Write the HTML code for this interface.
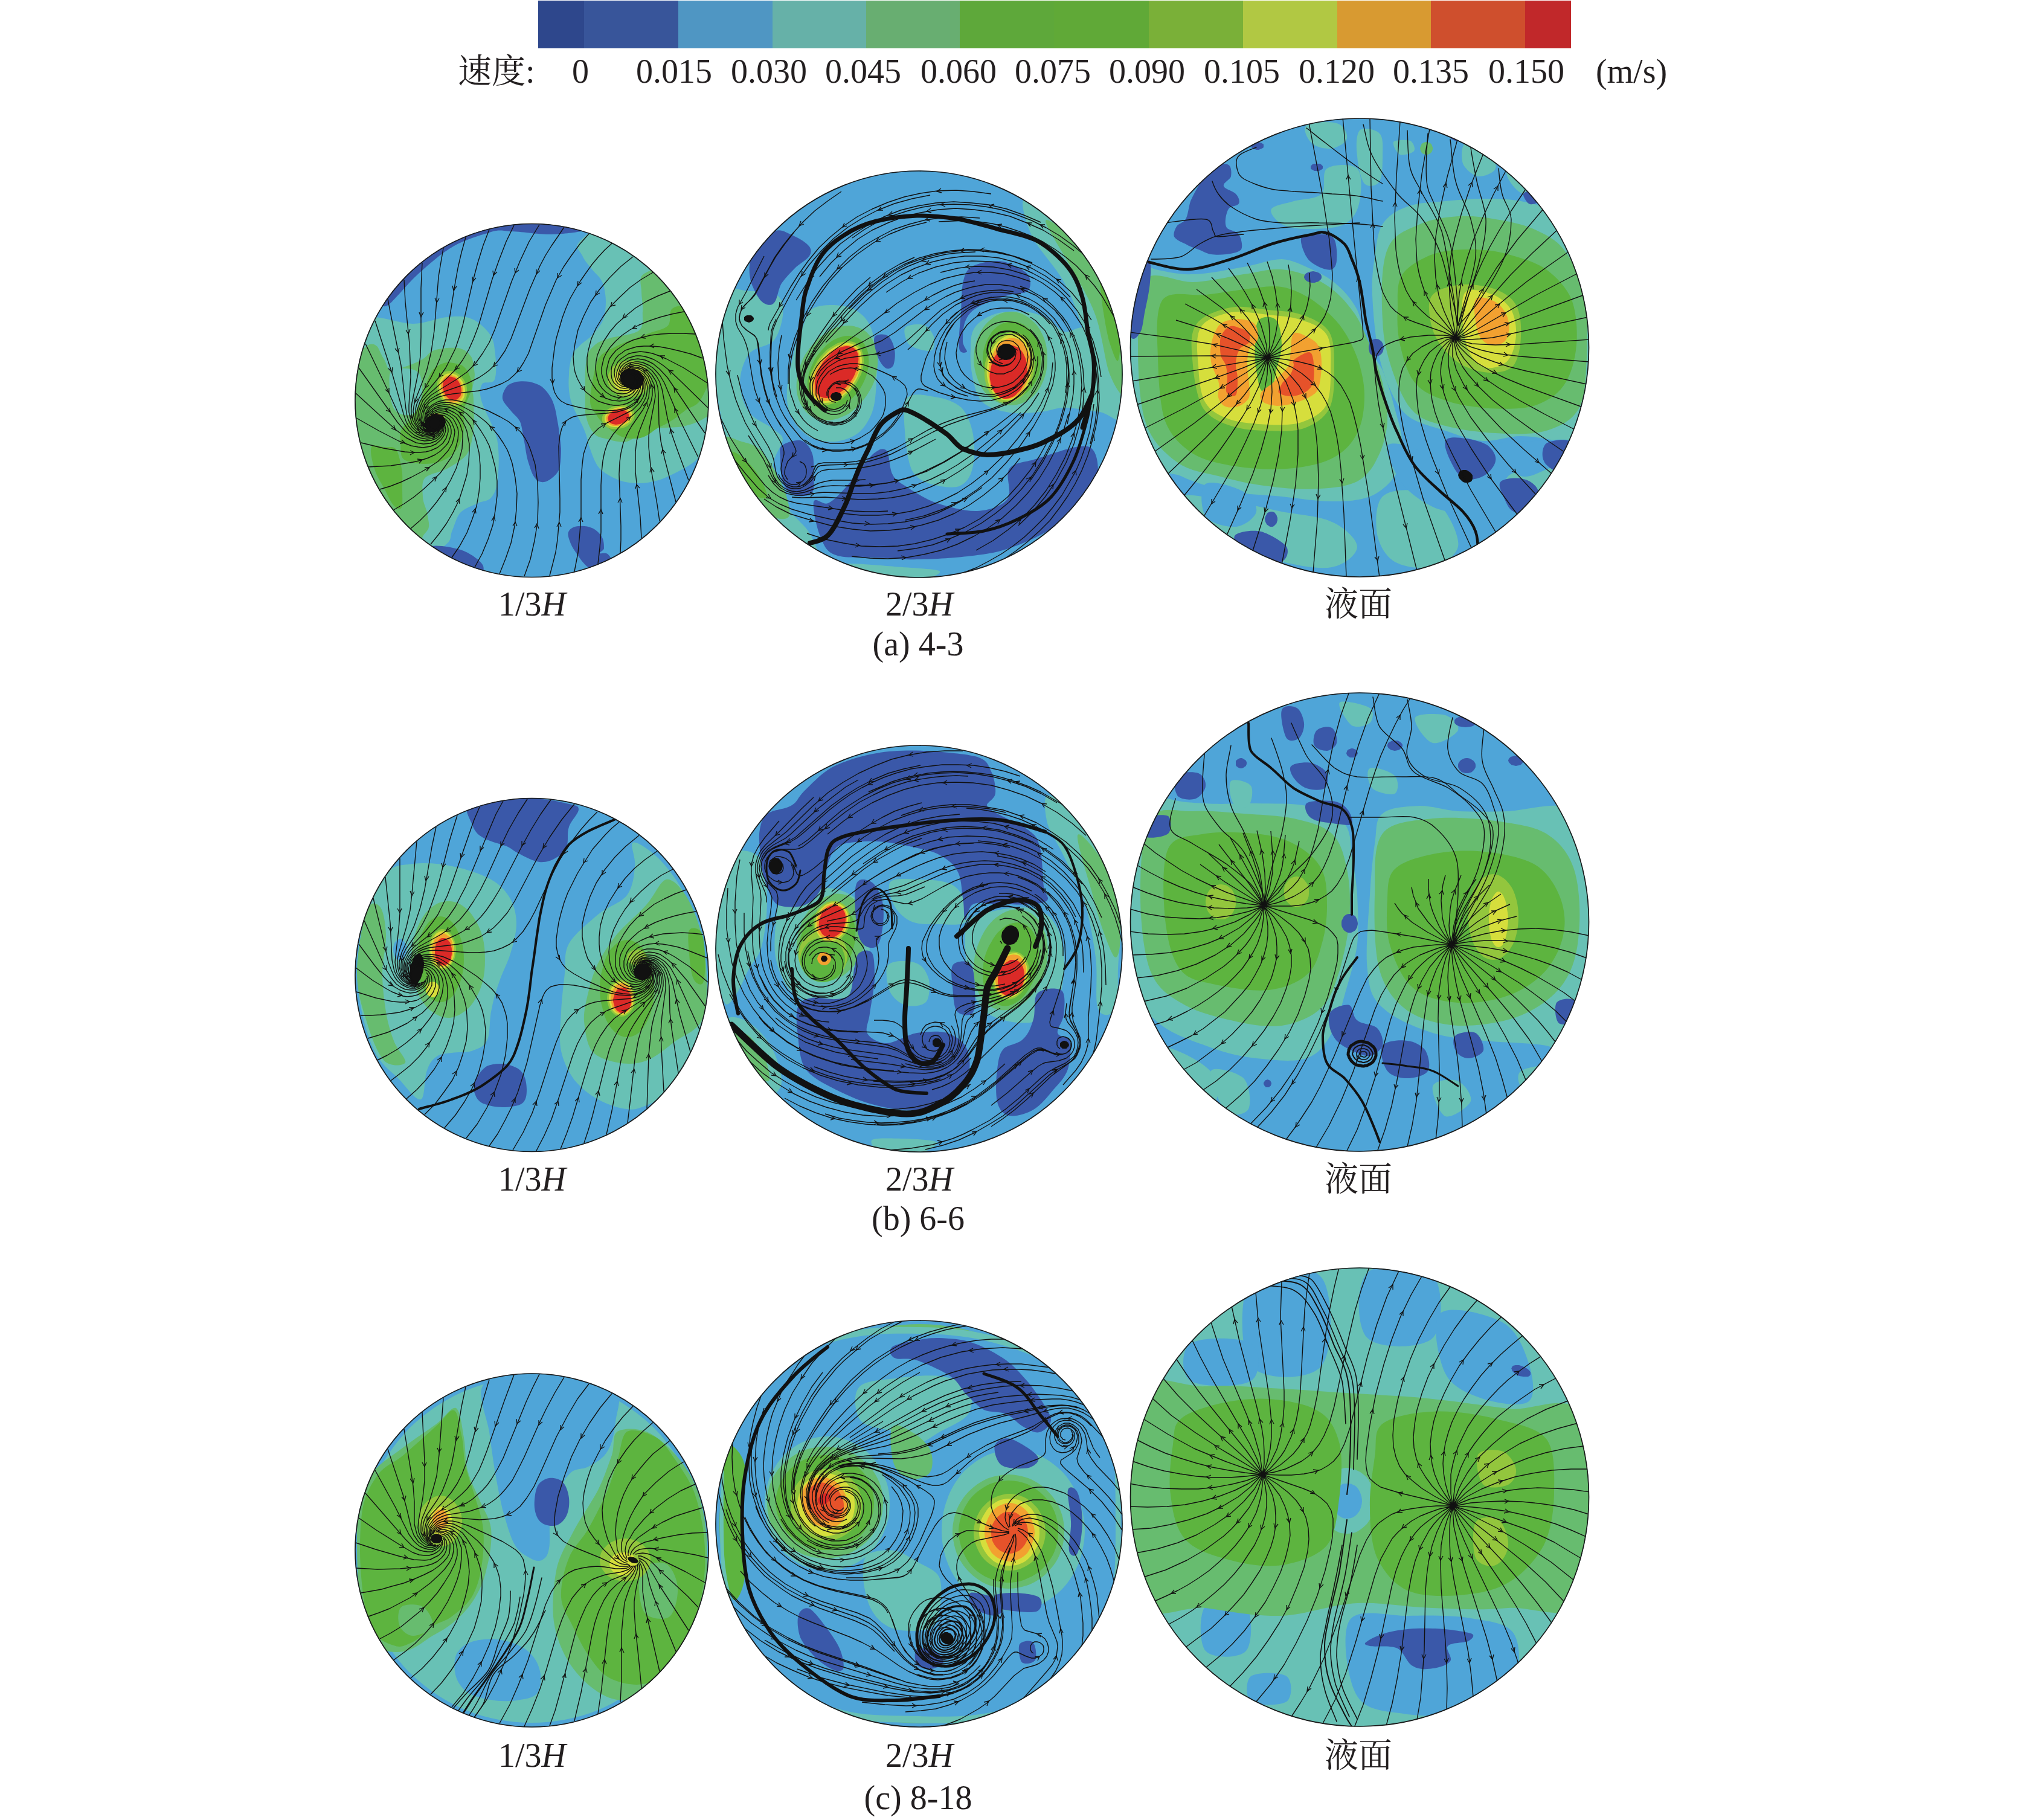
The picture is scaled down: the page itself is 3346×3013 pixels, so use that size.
<!DOCTYPE html><html><head><meta charset="utf-8"><title>速度分布</title><style>html,body{margin:0;padding:0;background:#fff;}body{width:3346px;height:3013px;overflow:hidden;}svg{display:block;}</style></head><body>
<svg xmlns="http://www.w3.org/2000/svg" width="3346" height="3013" viewBox="0 0 3346 3013">
<rect width="3346" height="3013" fill="#fff"/>
<rect x="891" y="1" width="77" height="79" fill="#2e478c"/>
<rect x="967" y="1" width="157" height="79" fill="#38559a"/>
<rect x="1123" y="1" width="157" height="79" fill="#4f96c3"/>
<rect x="1279" y="1" width="156" height="79" fill="#66b1a8"/>
<rect x="1434" y="1" width="156" height="79" fill="#68ae71"/>
<rect x="1589" y="1" width="157" height="79" fill="#5ea83a"/>
<rect x="1745" y="1" width="158" height="79" fill="#60a937"/>
<rect x="1902" y="1" width="157" height="79" fill="#7ab038"/>
<rect x="2058" y="1" width="157" height="79" fill="#b1c843"/>
<rect x="2214" y="1" width="156" height="79" fill="#d89a31"/>
<rect x="2369" y="1" width="157" height="79" fill="#cf4f2d"/>
<rect x="2525" y="1" width="76" height="79" fill="#c1282a"/>
<text x="758" y="137" font-size="56" font-family="Liberation Serif, Noto Serif CJK SC, serif" fill="#231f20">速度:</text>
<text x="961" y="137" font-size="56" text-anchor="middle" font-family="Liberation Serif, Noto Serif CJK SC, serif" fill="#231f20">0</text>
<text x="1116" y="137" font-size="56" text-anchor="middle" font-family="Liberation Serif, Noto Serif CJK SC, serif" fill="#231f20">0.015</text>
<text x="1273" y="137" font-size="56" text-anchor="middle" font-family="Liberation Serif, Noto Serif CJK SC, serif" fill="#231f20">0.030</text>
<text x="1429" y="137" font-size="56" text-anchor="middle" font-family="Liberation Serif, Noto Serif CJK SC, serif" fill="#231f20">0.045</text>
<text x="1587" y="137" font-size="56" text-anchor="middle" font-family="Liberation Serif, Noto Serif CJK SC, serif" fill="#231f20">0.060</text>
<text x="1743" y="137" font-size="56" text-anchor="middle" font-family="Liberation Serif, Noto Serif CJK SC, serif" fill="#231f20">0.075</text>
<text x="1899" y="137" font-size="56" text-anchor="middle" font-family="Liberation Serif, Noto Serif CJK SC, serif" fill="#231f20">0.090</text>
<text x="2056" y="137" font-size="56" text-anchor="middle" font-family="Liberation Serif, Noto Serif CJK SC, serif" fill="#231f20">0.105</text>
<text x="2213" y="137" font-size="56" text-anchor="middle" font-family="Liberation Serif, Noto Serif CJK SC, serif" fill="#231f20">0.120</text>
<text x="2369" y="137" font-size="56" text-anchor="middle" font-family="Liberation Serif, Noto Serif CJK SC, serif" fill="#231f20">0.135</text>
<text x="2527" y="137" font-size="56" text-anchor="middle" font-family="Liberation Serif, Noto Serif CJK SC, serif" fill="#231f20">0.150</text>
<text x="2701" y="137" font-size="56" text-anchor="middle" font-family="Liberation Serif, Noto Serif CJK SC, serif" fill="#231f20">(m/s)</text>
<clipPath id="c0"><circle cx="880.5" cy="663" r="293"/></clipPath>
<g clip-path="url(#c0)">
<circle cx="880" cy="663" r="295" fill="#4fa5d8"/>
<path fill="#68c1b5" d="M571 531C579 503 599 524 618 525C637 525 664 536 684 536C704 536 724 526 740 525C757 523 769 523 781 528C792 532 803 543 810 552C816 561 818 567 819 579C821 592 823 618 819 628C816 637 802 630 798 636C795 642 793 648 797 663C801 678 818 706 823 727C827 749 826 776 824 792C823 808 819 817 813 824C807 831 797 829 789 834C780 838 768 842 761 850C755 858 752 872 748 880C745 889 748 893 740 900C732 906 720 925 700 917C680 910 641 891 620 853C598 815 579 746 571 692C563 638 564 559 571 531Z"/>
<path fill="#68c1b5" d="M958 402C951 410 961 416 964 423C967 430 972 436 977 442C982 449 989 455 993 460C997 466 998 468 1000 475C1001 481 1003 489 1003 499C1003 508 1002 522 998 531C994 540 986 548 980 555C974 562 966 566 961 571C956 577 951 579 948 587C945 595 942 607 942 620C941 632 941 648 945 663C949 678 962 698 967 711C973 725 973 733 977 743C981 754 985 767 993 776C1001 784 1015 791 1025 795C1036 799 1047 800 1058 800C1068 800 1079 798 1090 795C1101 792 1111 786 1122 781C1133 775 1147 768 1154 760C1162 751 1160 739 1167 727C1175 716 1194 725 1199 692C1205 659 1215 577 1199 531C1183 485 1135 444 1103 418C1070 393 1030 379 1006 376C982 374 965 394 958 402Z"/>
<path fill="#67bc6f" d="M571 576C576 563 590 580 597 579C604 578 609 570 613 570C618 569 621 570 625 574C628 579 632 589 636 595C640 602 642 613 647 615C652 617 659 611 668 608C677 605 691 600 699 595C707 591 709 584 716 581C723 578 732 577 740 576C748 576 758 575 765 578C771 580 777 585 781 592C784 599 785 611 786 620C786 628 783 636 782 644C782 651 784 652 784 663C784 674 786 697 784 711C782 726 780 741 773 752C765 762 752 769 740 776C729 782 710 784 703 792C697 800 700 815 700 824C701 833 705 840 707 848C708 856 711 866 710 872C709 879 704 881 700 888C696 896 703 934 684 917C665 901 606 832 588 789C569 746 574 695 571 660C569 624 567 589 571 576Z"/>
<path fill="#68c1b5" d="M647 615C651 609 663 609 671 610C679 610 689 612 694 618C698 624 699 637 699 647C698 657 695 672 691 679C686 686 678 688 671 687C665 687 656 683 652 676C648 669 646 657 645 647C645 637 643 621 647 615Z"/>
<path fill="#67bc6f" d="M1064 455C1057 461 1062 473 1062 483C1062 493 1065 504 1064 515C1063 526 1067 540 1058 547C1048 555 1021 556 1009 560C997 564 992 565 985 571C979 577 973 580 971 595C968 611 969 647 969 663C969 679 968 683 971 692C973 701 978 712 984 718C989 724 997 725 1006 727C1015 730 1028 733 1038 731C1049 728 1060 715 1070 711C1081 708 1092 709 1103 708C1113 707 1124 708 1135 705C1146 702 1156 699 1167 692C1178 684 1194 692 1199 660C1205 628 1215 534 1199 499C1183 464 1125 458 1103 450C1080 443 1071 450 1064 455Z"/>
<path fill="#5db43f" d="M721 608C726 604 733 601 740 600C748 600 758 602 765 605C771 609 775 615 777 621C780 628 782 634 781 644C779 653 770 668 768 679C766 690 770 701 768 711C766 722 762 735 757 743C751 752 742 759 732 763C723 767 711 768 700 768C689 767 674 765 668 760C662 754 664 743 663 735C663 727 661 719 665 711C668 704 678 698 684 689C690 679 696 664 700 653C704 643 706 632 710 624C713 617 716 612 721 608Z"/>
<path fill="#5db43f" d="M615 740C618 734 629 740 636 740C643 741 650 738 655 743C660 749 663 765 665 776C667 786 666 797 666 808C666 819 667 835 665 840C662 845 657 842 652 837C647 832 641 818 636 808C630 798 623 787 620 776C616 764 612 746 615 740Z"/>
<path fill="#5db43f" d="M1112 512C1107 517 1112 532 1106 539C1099 546 1087 547 1074 552C1060 557 1038 565 1025 571C1013 577 1003 581 996 587C990 594 988 599 985 611C982 624 977 651 977 663C977 675 982 679 987 686C991 693 995 698 1003 705C1010 711 1022 721 1032 724C1042 727 1054 727 1064 724C1074 721 1082 712 1090 708C1097 704 1102 703 1109 698C1117 694 1126 686 1135 679C1143 673 1153 674 1161 660C1169 646 1182 617 1183 595C1184 574 1175 545 1167 531C1159 516 1144 512 1135 508C1126 505 1117 507 1112 512Z"/>
<path fill="#93c63d" d="M771 635C773 639 773 643 773 647C774 651 773 655 772 658C771 662 769 665 767 667C765 669 762 671 759 672C756 673 753 674 749 673C746 673 743 672 740 670C737 668 734 665 732 662C729 659 727 656 726 652C724 648 724 644 724 640C723 637 724 633 725 629C726 626 728 623 730 620C732 618 735 616 738 615C741 614 744 614 748 614C751 614 754 616 757 618C760 619 763 622 765 625C768 628 770 632 771 635Z"/>
<path fill="#d6de3c" d="M768 637C769 640 770 643 770 647C770 650 769 653 769 656C768 659 766 662 764 664C762 666 760 668 758 668C755 669 752 670 749 669C747 669 744 668 741 666C739 665 736 662 734 660C732 657 730 654 729 651C728 648 727 644 727 641C727 637 727 634 728 631C729 628 731 625 733 623C735 621 737 620 739 619C742 618 745 618 748 618C750 618 753 620 756 621C758 623 761 625 763 628C765 630 767 633 768 637Z"/>
<path fill="#f2a130" d="M765 638C766 640 767 643 767 646C767 649 767 652 766 655C765 657 764 660 762 661C761 663 759 665 756 665C754 666 752 667 749 666C747 666 744 665 742 663C740 662 738 660 736 658C734 655 733 653 732 650C731 647 730 644 730 641C730 638 730 635 731 633C732 630 733 628 735 626C736 624 738 623 741 622C743 621 745 621 748 621C750 622 753 623 755 624C757 625 759 627 761 630C763 632 764 635 765 638Z"/>
<path fill="#db2a27" d="M762 638C763 640 764 643 764 646C764 648 764 651 763 653C763 655 761 657 760 658C759 660 757 661 755 662C754 662 751 663 749 662C747 662 745 661 743 660C742 659 740 657 738 655C737 653 735 650 735 648C734 646 733 643 733 641C733 638 733 636 734 633C734 631 736 629 737 628C738 626 740 625 742 624C743 624 746 623 748 624C749 624 752 625 754 626C755 627 757 629 759 631C760 633 762 636 762 638Z"/>
<path fill="#d6de3c" d="M737 695C737 697 737 698 736 700C735 701 734 702 733 703C732 704 730 705 728 706C727 706 725 706 723 706C721 706 719 706 717 706C715 705 714 704 712 703C711 702 710 701 709 700C709 698 708 697 708 695C708 694 709 692 709 691C710 690 711 688 712 687C714 686 715 685 717 685C719 684 721 684 723 684C725 684 727 684 728 685C730 685 732 686 733 687C734 688 735 690 736 691C737 692 737 694 737 695Z"/>
<path fill="#e6522a" d="M731 692C731 693 731 694 730 695C730 696 729 696 728 697C727 698 726 698 725 699C724 699 722 699 721 699C720 699 719 699 717 699C716 698 715 698 714 697C713 696 713 696 712 695C712 694 711 693 711 692C711 691 712 690 712 689C713 688 713 688 714 687C715 686 716 686 717 685C719 685 720 685 721 685C722 685 724 685 725 685C726 686 727 686 728 687C729 688 730 688 730 689C731 690 731 691 731 692Z"/>
<path fill="#93c63d" d="M1050 683C1051 686 1051 688 1050 691C1049 694 1048 696 1046 699C1044 701 1041 703 1039 705C1036 707 1032 708 1029 709C1025 710 1022 710 1018 710C1015 710 1011 710 1009 709C1006 708 1003 706 1001 704C999 702 998 700 997 697C997 695 997 692 997 690C998 687 1000 685 1002 682C1003 680 1006 678 1009 676C1012 674 1015 673 1019 672C1022 671 1026 670 1029 670C1033 670 1036 671 1039 672C1042 673 1044 675 1046 677C1048 679 1050 681 1050 683Z"/>
<path fill="#d6de3c" d="M1046 684C1047 686 1047 689 1046 691C1045 693 1044 695 1043 697C1041 699 1039 701 1036 702C1034 704 1031 705 1028 706C1025 707 1022 707 1019 707C1016 707 1013 706 1011 706C1008 705 1006 703 1005 702C1003 700 1002 698 1001 696C1001 694 1001 692 1001 690C1002 688 1003 686 1005 684C1007 682 1009 680 1011 678C1014 677 1017 676 1020 675C1022 674 1026 674 1028 674C1031 674 1034 674 1037 675C1039 676 1041 677 1043 679C1044 680 1046 682 1046 684Z"/>
<path fill="#f2a130" d="M1044 685C1044 687 1044 689 1044 691C1043 693 1042 695 1040 696C1039 698 1037 700 1035 701C1033 702 1030 703 1027 704C1025 705 1022 705 1020 705C1017 705 1014 705 1012 704C1010 703 1008 702 1007 701C1005 699 1004 697 1004 696C1003 694 1003 692 1004 690C1005 688 1006 686 1007 684C1009 683 1011 681 1013 680C1015 678 1018 677 1020 677C1023 676 1025 676 1028 676C1031 676 1033 676 1035 677C1037 678 1039 679 1041 680C1042 682 1043 683 1044 685Z"/>
<path fill="#db2a27" d="M1041 686C1041 687 1041 689 1041 691C1040 692 1039 694 1038 695C1037 697 1035 698 1033 699C1031 700 1029 701 1027 702C1025 702 1022 703 1020 703C1018 703 1016 702 1014 702C1012 701 1010 700 1009 699C1008 698 1007 696 1007 695C1006 693 1006 692 1007 690C1007 689 1008 687 1010 685C1011 684 1013 683 1014 681C1016 680 1019 679 1021 679C1023 678 1025 678 1027 678C1030 678 1032 678 1034 679C1036 680 1037 681 1038 682C1040 683 1040 684 1041 686Z"/>
<path fill="#93c63d" d="M1077 628C1077 631 1076 636 1074 639C1072 643 1070 646 1067 649C1063 652 1059 654 1055 656C1051 657 1046 658 1041 658C1037 658 1032 657 1028 656C1024 654 1020 652 1016 649C1013 646 1010 643 1009 639C1007 636 1006 631 1006 628C1006 624 1007 619 1009 616C1010 612 1013 609 1016 606C1020 603 1024 601 1028 599C1032 598 1037 597 1041 597C1046 597 1051 598 1055 599C1059 601 1063 603 1067 606C1070 609 1072 612 1074 616C1076 619 1077 624 1077 628Z"/>
<path fill="#d6de3c" d="M1067 629C1067 632 1067 635 1065 638C1064 640 1062 643 1060 645C1057 647 1054 649 1051 650C1048 651 1045 652 1041 652C1038 652 1035 651 1032 650C1029 649 1026 647 1023 645C1021 643 1019 640 1018 638C1016 635 1016 632 1016 629C1016 626 1016 623 1018 621C1019 618 1021 615 1023 613C1026 611 1029 609 1032 608C1035 607 1038 607 1041 607C1045 607 1048 607 1051 608C1054 609 1057 611 1060 613C1062 615 1064 618 1065 621C1067 623 1067 626 1067 629Z"/>
<path fill="#3a58a9" d="M832 660C831 653 835 645 839 640C842 636 848 634 855 632C861 631 870 631 877 632C884 634 891 636 897 640C903 645 908 651 913 660C917 668 920 678 922 692C925 706 928 730 929 743C929 757 928 768 926 776C923 784 918 788 913 792C908 796 901 799 897 798C892 798 887 794 884 789C880 783 877 772 874 763C871 753 870 741 868 731C865 720 865 707 861 698C857 690 850 686 845 679C840 673 833 666 832 660Z"/>
<path fill="#3a58a9" d="M942 879C944 875 951 871 958 871C964 870 974 871 980 874C987 877 993 883 996 888C1000 894 1000 903 1000 908C999 912 992 914 993 916C994 917 1002 914 1006 917C1010 921 1018 932 1016 937C1014 942 1001 946 993 946C986 946 977 942 971 937C964 931 958 921 953 914C948 907 945 901 943 895C941 889 939 883 942 879Z"/>
<path fill="#3a58a9" d="M636 496C643 485 665 457 684 441C703 424 727 407 748 396C770 385 797 379 813 375C829 371 829 371 845 370C861 369 890 368 909 368C929 369 952 372 961 375C970 377 970 381 961 383C952 385 929 388 909 388C890 388 861 383 845 383C829 382 828 380 813 384C797 389 772 396 752 407C732 418 712 436 694 452C676 468 654 496 644 504C634 511 629 506 636 496Z"/>
<path fill="#3a58a9" d="M716 904C725 902 751 906 765 911C779 916 797 929 800 937C803 945 796 961 781 959C766 957 721 933 710 924C699 915 707 907 716 904Z"/>
<path fill="#111111" d="M737 694C738 696 738 698 738 699C737 701 737 703 736 705C734 707 733 709 731 710C729 711 727 713 725 713C723 714 720 715 718 715C716 715 714 714 712 714C710 713 708 712 706 711C705 710 704 708 703 706C703 704 702 703 703 701C703 699 704 697 705 695C706 693 707 691 709 690C711 689 713 688 715 687C717 686 720 685 722 685C724 685 727 686 729 686C731 687 733 688 734 689C735 691 736 692 737 694Z"/>
<path fill="#111111" d="M1065 634C1064 636 1063 638 1061 640C1060 641 1058 643 1056 644C1053 644 1051 645 1048 645C1046 645 1043 644 1041 643C1038 642 1036 641 1034 640C1032 638 1030 636 1029 634C1028 632 1027 629 1027 627C1027 625 1027 623 1028 621C1028 619 1030 617 1031 615C1033 614 1035 612 1037 612C1039 611 1042 610 1044 610C1047 610 1050 611 1052 612C1054 613 1057 614 1059 616C1061 617 1062 619 1064 621C1065 623 1066 626 1066 628C1066 630 1066 632 1065 634Z"/>
<path fill="none" stroke="#111" stroke-width="1.4" stroke-linejoin="round" d="M1172 675L1128 632L1108 613L1098 605L1089 599L1082 595L1074 592L1067 590L1060 589L1053 589L1046 591L1039 593L1035 596L1029 600L1026 604L1023 611L1021 617L1021 624L1023 629L1028 635L1032 637L1037 638L1042 637M1167 717L1105 625L1092 611L1081 602L1075 599L1068 596L1056 594L1049 595L1044 596L1038 599L1033 602L1028 607L1026 612L1024 619L1024 624L1026 629L1029 633L1034 636L1039 636M1156 757L1125 694L1100 634L1093 622L1086 614L1081 609L1075 605L1064 600L1057 599L1052 599L1042 601L1036 604L1032 608L1028 614L1026 619L1027 624L1028 629L1032 633L1036 635M1140 795L1120 741L1112 718L1105 692L1096 644L1092 632L1087 623L1079 613L1069 606L1063 604L1057 602L1052 602L1047 603L1040 605L1036 608L1032 611L1029 616L1028 621L1029 626L1031 631L1034 633M1119 831L1100 758L1094 730L1091 702L1090 651L1089 641L1086 631L1079 620L1071 612L1061 607L1056 605L1051 605L1046 606L1041 607L1036 610L1033 614L1030 618L1030 622L1031 627L1032 630M1092 863L1088 835L1077 771L1074 740L1074 724L1075 710L1083 668L1085 656L1084 646L1083 637L1078 626L1072 617L1064 611L1055 608L1050 608L1045 608L1040 610L1037 612L1033 616L1032 619L1031 624L1032 627M1062 891L1060 856L1052 781L1052 763L1052 748L1054 730L1058 715L1078 664L1080 654L1080 643L1077 633L1073 623L1066 616L1058 611L1053 610L1048 610L1042 611L1039 612L1035 616L1033 619L1032 622L1032 626M1027 915L1028 894L1028 871L1025 785L1026 765L1028 750L1032 733L1039 717L1046 705L1064 679L1070 668L1074 658L1075 648L1075 637L1071 627L1066 620L1059 615L1051 612L1046 612L1042 613L1036 617L1034 619L1033 623M990 933L993 907L995 881L995 803L996 782L998 763L1001 748L1006 733L1015 719L1026 706L1050 685L1060 675L1067 663L1070 656L1071 650L1072 641L1070 632L1066 624L1060 618L1052 614L1045 614L1039 616L1036 618L1035 622M951 946L957 915L960 882L962 855L962 794L964 769L966 752L971 737L974 729L979 721L985 715L991 709L1005 700L1039 683L1047 679L1052 674L1057 669L1061 664L1065 657L1067 651L1068 642L1068 635L1065 627L1061 621L1055 617L1048 615L1041 616L1037 619M910 953L915 934L920 914L923 893L925 870L927 848L927 825L925 739L927 721L930 709L933 703L937 697L943 693L949 690L958 688L967 687L1005 684L1022 682L1038 677L1044 674L1050 670L1057 662L1062 653L1065 643L1065 634L1063 629L1061 624L1057 621L1054 619L1049 617L1046 616L1042 617L1039 619M868 954L878 926L885 895L890 864L891 832L890 799L886 769L882 756L878 744L874 734L869 725L862 715L853 707L842 698L828 690L808 680L783 671L765 665L749 662L737 662L725 665L716 670L708 677L706 681L704 686L703 692L703 697L705 702L707 705L711 708L715 709M827 950L837 925L846 899L852 871L855 843L856 817L853 791L848 767L844 755L840 745L833 733L825 721L815 709L804 698L790 687L777 679L764 672L753 668L741 666L730 667L720 670L712 676L709 680L706 685L704 694L705 699L707 702L710 706L713 708M786 939L798 917L808 893L816 869L820 845L823 821L823 796L820 774L814 751L810 738L804 726L796 713L789 703L782 694L773 685L764 679L755 674L745 670L735 670L724 672L717 676L713 679L709 683L706 691L706 697L707 700L709 703L711 706M748 923L761 904L773 882L782 859L789 838L793 815L795 792L795 770L793 749L790 737L787 725L783 715L779 705L773 697L768 690L761 683L754 678L744 674L736 673L727 674L719 677L712 683L709 687L708 691L708 698L709 701L711 704M713 901L726 885L739 867L750 848L760 828L767 806L773 786L776 765L777 746L777 735L775 725L773 714L770 706L766 698L762 692L758 687L752 683L744 679L736 677L727 677L720 680L713 685L710 691L709 698L711 703M680 875L695 862L710 847L723 831L735 814L746 795L755 776L761 758L765 743L766 725L766 716L764 710L762 703L759 697L755 691L751 688L743 683L737 681L730 680L723 681L717 685L713 689L710 695L711 700M652 844L669 834L685 823L701 810L715 797L729 783L739 769L748 756L754 743L758 728L759 716L758 709L756 704L753 698L750 693L745 689L740 686L734 684L728 683L721 685L717 688L713 691L712 696M629 810L646 805L664 798L681 790L698 781L713 772L725 764L734 755L742 746L749 734L752 722L753 715L752 710L748 700L744 694L740 691L736 688L731 687L726 687L720 688L716 691L713 695M610 773L628 772L647 771L666 768L684 765L697 762L709 758L720 753L729 747L738 738L742 733L744 728L747 718L747 712L746 707L744 702L741 698L738 694L733 691L728 689L725 689L720 691L717 693M598 733L635 742L670 748L682 749L694 749L705 748L713 746L724 741L733 734L739 725L740 721L742 715L742 710L741 705L738 700L736 697L732 694L729 692L724 692L721 692M590 692L627 713L660 730L681 738L692 740L700 741L713 739L722 735L730 728L735 721L737 716L738 711L737 706L736 702L733 698L731 696L727 694L724 693M589 651L625 684L656 712L673 725L683 730L689 733L701 735L712 734L722 730L728 725L732 720L734 716L735 710L735 707L733 702L731 699L729 697L726 695M594 609L658 699L671 714L682 723L693 728L703 730L714 729L722 726L726 723L729 719L732 714L733 711L732 705L731 702L730 699L727 697M605 569L640 642L662 690L670 703L677 713L687 721L696 725L707 727L715 726L720 724L725 721L728 717L730 714L731 709L731 705L730 702L728 699M621 531L651 624L668 685L672 697L676 705L683 713L691 719L701 723L710 724L715 723L720 722L724 719L726 716L729 711L730 708L730 704L728 701M642 495L648 526L664 605L667 632L672 677L674 689L677 697L682 707L689 714L698 720L707 722L716 721L720 719L723 717L727 713L728 710L729 706L728 703M669 463L671 500L678 570L679 596L680 624L677 671L677 682L679 691L682 701L688 709L695 715L703 719L711 720L717 719L720 718L724 715L726 712L727 709L728 705M699 435L697 477L697 558L696 589L692 619L682 667L681 676L681 685L683 695L688 704L694 711L701 716L709 718L715 718L718 717L724 713L726 710L727 707M734 411L730 434L726 458L719 547L714 582L710 599L706 615L687 664L685 673L684 681L686 692L688 700L693 707L700 713L708 716L715 717L721 714L724 712L726 709M771 393L764 418L758 444L753 472L742 541L738 562L733 579L728 594L722 608L714 624L694 659L690 669L688 677L688 686L689 695L693 703L698 710L706 714L712 715L719 714L722 712L724 709M810 380L800 406L791 435L783 465L766 539L760 559L754 577L746 593L738 609L728 623L700 657L695 666L692 675L690 683L691 692L694 700L699 708L706 713L713 714L719 713L723 710M851 373L838 400L826 431L815 462L792 540L784 561L776 579L766 596L755 611L741 625L716 647L707 655L700 663L696 673L693 681L693 688L695 697L698 703L703 710L710 713L717 713L721 711M893 372L876 400L861 432L847 466L819 546L810 567L799 585L787 602L773 616L756 628L725 647L714 654L705 663L700 671L696 680L695 687L696 694L698 700L702 706L707 710L714 712L719 711M934 376L924 391L913 407L903 423L894 440L877 479L854 540L846 561L836 581L825 597L818 605L810 613L802 619L793 625L773 635L736 648L722 655L712 661L703 671L700 679L698 685L698 692L699 699L703 705L707 709L713 711L719 710M975 387L960 404L946 423L933 442L921 463L912 484L903 505L875 585L867 600L858 614L851 621L842 629L831 635L818 640L806 644L792 647L750 652L738 654L727 657L717 662L710 667L705 674L701 682L700 691L701 699L705 705L711 709L716 710M1013 403L1001 414L990 426L980 438L970 452L961 465L952 480L944 494L937 510L931 526L926 543L921 560L918 576L916 593L914 609L914 625L915 637L918 649L923 658L929 664L938 669L957 674L983 679L1004 680L1021 679L1035 676L1041 673L1047 669L1053 665L1057 659L1061 653L1063 648L1064 641L1064 634L1062 628L1059 623L1055 620L1050 617L1045 617L1040 618M1048 425L1028 441L1009 460L992 480L978 500L966 524L957 546L952 569L949 590L950 604L952 616L956 627L962 638L969 648L979 656L990 664L1002 668L1010 670L1017 671L1024 671L1031 670L1038 668L1044 665L1050 661L1053 657L1057 651L1060 644L1061 637L1060 631L1057 624L1053 621L1048 619L1043 619M1081 451L1061 463L1043 476L1026 492L1010 508L998 525L987 543L979 561L974 580L972 592L972 604L973 616L976 627L981 636L987 645L994 652L1002 659L1014 663L1026 664L1033 663L1038 662L1044 659L1049 655L1053 650L1056 646L1058 641L1058 635L1057 630L1055 625L1051 622L1047 620M1109 482L1089 490L1070 499L1052 510L1036 523L1021 536L1010 549L1000 564L993 578L989 588L987 598L986 608L987 619L989 627L992 636L997 643L1003 649L1012 655L1022 658L1033 657L1038 656L1043 654L1047 651L1051 647L1053 643L1055 638L1055 632L1055 629L1052 624L1049 622M1132 516L1112 520L1093 525L1075 531L1058 538L1043 546L1030 555L1019 565L1010 575L1004 584L1000 592L998 600L996 609L996 618L998 626L1001 634L1005 640L1013 647L1021 651L1030 652L1038 651L1046 647L1050 643L1051 640L1053 635L1053 631L1052 628L1050 625M1151 553L1131 552L1112 552L1094 553L1077 555L1062 559L1048 563L1037 568L1027 575L1020 580L1014 587L1009 594L1007 601L1005 609L1004 616L1005 623L1008 630L1012 637L1017 642L1025 646L1032 647L1041 646L1046 642L1050 636L1051 632L1050 629M1163 593L1144 586L1125 581L1108 577L1092 574L1078 573L1066 573L1054 574L1044 577L1035 580L1030 584L1024 588L1019 594L1016 600L1013 606L1012 613L1012 620L1013 627L1016 633L1021 638L1027 642L1034 643L1041 642L1046 638L1049 633M1171 634L1132 609L1103 594L1091 589L1080 585L1069 583L1060 582L1053 583L1047 584L1040 586L1034 590L1028 594L1023 599L1020 605L1018 610L1017 617L1018 624L1020 631L1023 635L1029 639L1034 640L1041 639L1045 636"/>
<path fill="none" stroke="#111" stroke-width="1.3" d="M1111 620L1107 613L1115 614M1117 650L1116 642L1123 646M1117 684L1117 676L1123 681M1109 718L1110 710L1116 717M1031 617L1029 624L1024 618M1095 751L1097 744L1102 750M1049 606L1041 607L1045 600M1076 782L1078 774L1083 781M1069 619L1065 612L1073 614M1052 809L1054 802L1059 808M1076 644L1078 636L1083 643M1023 832L1027 825L1030 832M1065 672L1071 666L1072 674M991 851L995 843L998 851M1037 692L1044 690L1041 697M958 864L962 857L965 864M995 702L1003 701L999 708M922 872L926 865L929 872M930 701L937 697L935 705M1062 631L1060 623L1067 626M885 874L889 867L892 875M856 714L853 707L861 709M710 681L704 686L703 678M849 871L853 864L856 871M814 713L811 706L819 708M814 862L818 855L820 863M785 703L783 695L790 699M782 848L787 842L788 850M764 689L760 682L768 684M755 831L760 826L761 834M742 682L736 677L744 675M732 812L739 807L738 815M722 685L714 687L717 680M715 792L723 789L720 797M703 774L711 774L706 780M691 760L699 761L694 767M679 746L686 749L679 753M665 728L670 733L662 734M652 704L655 712L648 709M645 675L646 682L639 679M644 642L644 650L638 645M650 608L649 616L643 610M661 576L659 583L654 577M713 720L720 719L717 726M679 545L676 553L672 546M691 709L696 716L688 716M701 517L697 525L694 517M685 685L683 693L678 687M727 494L723 501L720 493M692 660L687 666L685 658M756 474L751 481L749 473M710 638L704 642L704 634M788 460L783 466L782 458M734 621L727 624L728 617M823 450L817 456L816 448M761 609L753 612L756 605M859 447L853 452L852 444M791 603L783 606L786 598M894 448L888 454L888 446M824 604L817 607L819 599M701 699L704 706L696 704M930 456L923 460L923 452M864 613L856 616L858 608M710 672L704 677L703 669M963 468L956 473L957 465M918 628L915 635L911 628M1050 663L1057 660L1055 667M993 485L986 489L987 481M967 639L968 646L961 643M1019 505L1011 507L1013 500M997 651L1001 658L993 656M1039 524L1031 527L1034 519M1022 654L1029 657L1022 661M1055 544L1047 544L1052 538M1043 647L1050 643L1049 651M1069 560L1061 559L1067 553M1083 576L1076 573L1083 569M1098 595L1093 589L1101 589"/>
</g>
<circle cx="880.5" cy="663" r="292.5" fill="none" stroke="#1a1a1a" stroke-width="1.7"/>
<clipPath id="c1"><circle cx="1521.5" cy="619.5" r="337"/></clipPath>
<g clip-path="url(#c1)">
<circle cx="1522" cy="620" r="339" fill="#4fa5d8"/>
<path fill="#68c1b5" d="M1196 490C1205 468 1225 482 1240 482C1255 482 1279 483 1288 490C1297 497 1297 511 1296 523C1294 536 1290 553 1281 564C1272 574 1249 574 1240 586C1231 598 1225 618 1225 634C1225 650 1231 670 1240 682C1249 695 1268 701 1277 708C1286 716 1295 718 1296 727C1296 736 1284 750 1281 764C1278 778 1273 795 1277 808C1281 822 1296 833 1307 845C1317 858 1333 870 1340 882C1347 895 1359 918 1351 919C1344 921 1314 910 1296 894C1277 877 1255 847 1240 819C1225 792 1212 761 1203 727C1194 693 1186 655 1184 616C1183 576 1186 512 1196 490Z"/>
<path fill="#68c1b5" d="M1344 512C1352 506 1365 505 1377 505C1389 505 1404 507 1414 512C1425 518 1434 526 1440 538C1446 550 1449 570 1451 586C1453 602 1452 618 1451 634C1450 650 1449 669 1444 682C1439 696 1431 708 1422 716C1412 724 1398 729 1384 731C1371 732 1352 730 1340 723C1328 716 1317 703 1310 690C1304 677 1302 663 1303 645C1304 628 1310 603 1314 586C1318 569 1324 554 1329 542C1334 529 1336 518 1344 512Z"/>
<path fill="#68c1b5" d="M1614 542C1621 532 1634 524 1647 520C1661 515 1681 515 1696 516C1710 517 1721 521 1733 527C1744 532 1752 547 1762 549C1772 552 1779 542 1792 542C1804 542 1825 543 1836 549C1848 555 1858 555 1862 579C1867 602 1869 673 1862 690C1855 707 1838 685 1821 682C1805 680 1779 675 1762 675C1746 675 1738 681 1721 682C1705 684 1682 686 1666 682C1650 679 1634 674 1625 664C1616 654 1613 637 1610 623C1607 609 1606 592 1607 579C1607 565 1607 552 1614 542Z"/>
<path fill="#68c1b5" d="M1694 332C1699 326 1725 344 1740 353C1755 362 1771 373 1784 386C1798 399 1810 413 1821 431C1833 448 1844 471 1851 490C1858 508 1863 521 1866 542C1868 563 1875 603 1866 616C1857 628 1826 628 1814 616C1802 603 1800 566 1792 542C1783 517 1776 492 1762 468C1749 443 1722 416 1710 394C1699 371 1690 339 1694 332Z"/>
<path fill="#68c1b5" d="M1499 542C1504 537 1521 536 1529 538C1537 540 1543 550 1546 557C1548 563 1547 575 1544 579C1540 582 1532 581 1525 579C1518 577 1507 574 1503 568C1499 561 1495 547 1499 542Z"/>
<path fill="#68c1b5" d="M1501 660C1509 649 1532 654 1547 657C1563 659 1581 665 1592 675C1602 686 1608 703 1611 719C1614 736 1614 761 1610 775C1607 789 1600 800 1588 805C1576 809 1553 805 1540 801C1527 797 1517 791 1510 779C1504 766 1501 747 1499 727C1498 707 1493 672 1501 660Z"/>
<path fill="#68c1b5" d="M1392 934C1404 931 1454 936 1481 938C1508 940 1549 942 1555 945C1561 949 1542 958 1518 960C1493 963 1428 965 1407 960C1386 956 1380 938 1392 934Z"/>
<path fill="#67bc6f" d="M1439 648C1434 657 1427 666 1419 673C1412 681 1403 687 1394 690C1386 694 1376 696 1368 696C1360 696 1351 694 1345 690C1338 686 1332 680 1328 673C1323 666 1320 656 1319 647C1318 638 1319 627 1321 617C1324 607 1328 596 1333 587C1339 578 1346 569 1353 562C1361 555 1370 549 1378 545C1387 541 1396 539 1405 539C1413 539 1421 542 1428 545C1435 549 1441 556 1445 563C1449 570 1452 579 1453 588C1454 597 1453 608 1451 618C1449 628 1445 639 1439 648Z"/>
<path fill="#67bc6f" d="M1734 594C1734 603 1733 614 1730 623C1727 633 1722 642 1717 649C1711 656 1704 662 1697 665C1690 669 1681 671 1673 671C1666 671 1657 669 1650 665C1643 662 1636 656 1630 649C1625 642 1620 633 1617 623C1614 614 1612 603 1612 594C1612 584 1614 573 1617 564C1620 555 1625 546 1630 539C1636 532 1643 526 1650 522C1657 518 1666 516 1673 516C1681 516 1690 518 1697 522C1704 526 1711 532 1717 539C1722 546 1727 555 1730 564C1733 573 1734 584 1734 594Z"/>
<path fill="#67bc6f" d="M1731 366C1731 357 1763 382 1777 394C1791 406 1802 420 1814 438C1826 457 1839 475 1847 505C1855 534 1860 591 1862 616C1864 640 1863 653 1858 653C1854 653 1844 637 1836 616C1829 594 1824 551 1814 523C1804 495 1791 475 1777 449C1763 423 1731 375 1731 366Z"/>
<path fill="#67bc6f" d="M1199 727C1202 718 1212 726 1222 729C1231 733 1246 733 1259 745C1271 757 1286 783 1294 801C1303 819 1309 844 1307 853C1304 862 1292 859 1281 857C1270 854 1252 850 1240 838C1228 826 1214 801 1207 782C1200 764 1197 736 1199 727Z"/>
<path fill="#5db43f" d="M1426 640C1422 647 1416 655 1410 660C1404 666 1398 671 1391 674C1385 677 1378 679 1371 679C1365 680 1359 678 1354 675C1349 673 1345 668 1342 662C1339 657 1337 650 1337 643C1336 636 1337 627 1339 619C1341 611 1345 603 1349 595C1353 588 1359 581 1365 575C1370 569 1377 564 1384 561C1390 558 1397 556 1404 556C1410 556 1416 557 1421 560C1426 563 1430 567 1433 573C1436 578 1438 585 1438 593C1439 600 1438 608 1436 616C1434 624 1430 633 1426 640Z"/>
<path fill="#5db43f" d="M1723 595C1723 603 1722 612 1720 620C1717 627 1714 634 1709 640C1705 646 1699 651 1694 654C1688 657 1681 658 1675 658C1669 658 1662 657 1657 654C1651 651 1645 646 1641 640C1637 634 1633 627 1631 620C1628 612 1627 603 1627 595C1627 587 1628 579 1631 571C1633 564 1637 557 1641 551C1645 545 1651 540 1657 537C1662 534 1669 532 1675 532C1681 532 1688 534 1694 537C1699 540 1705 545 1709 551C1714 557 1717 564 1720 571C1722 579 1723 587 1723 595Z"/>
<path fill="#5db43f" d="M1821 445C1825 441 1838 459 1844 475C1849 491 1854 521 1855 542C1856 562 1854 594 1851 597C1848 601 1841 579 1836 564C1832 549 1828 524 1825 505C1823 485 1818 450 1821 445Z"/>
<path fill="#5db43f" d="M1207 749C1209 744 1221 750 1229 757C1237 763 1248 775 1255 786C1262 797 1272 818 1270 823C1267 828 1249 822 1240 816C1231 810 1220 797 1214 786C1209 775 1204 754 1207 749Z"/>
<path fill="#93c63d" d="M1415 639C1410 645 1405 651 1399 656C1394 661 1388 665 1382 667C1376 669 1370 671 1365 671C1359 670 1354 669 1350 666C1347 663 1343 659 1341 654C1340 649 1339 643 1339 637C1339 631 1341 623 1343 617C1346 610 1350 603 1354 596C1358 590 1364 584 1369 579C1375 575 1381 571 1387 568C1393 566 1399 565 1404 565C1410 565 1415 566 1418 569C1422 572 1426 576 1427 581C1429 586 1430 592 1430 598C1430 605 1428 612 1426 619C1423 625 1419 633 1415 639Z"/>
<path fill="#d6de3c" d="M1412 637C1408 643 1403 649 1398 653C1393 658 1387 661 1382 664C1376 666 1371 667 1366 667C1361 667 1356 666 1353 663C1349 661 1346 657 1344 652C1343 648 1342 642 1342 636C1343 630 1344 623 1347 617C1349 611 1353 604 1357 598C1361 592 1366 587 1371 582C1376 578 1382 574 1387 572C1393 569 1398 568 1403 568C1408 568 1413 570 1416 572C1420 575 1423 579 1425 583C1426 588 1427 593 1427 599C1426 605 1425 612 1422 618C1420 625 1416 631 1412 637Z"/>
<path fill="#f2a130" d="M1410 636C1406 641 1402 647 1397 651C1392 655 1386 659 1381 661C1376 663 1371 664 1366 664C1362 664 1358 663 1354 661C1351 658 1348 655 1347 651C1345 646 1345 641 1345 635C1345 630 1347 623 1349 617C1351 611 1355 605 1359 600C1363 594 1367 589 1372 584C1377 580 1383 577 1388 574C1393 572 1398 571 1402 571C1407 571 1411 572 1415 575C1418 577 1421 581 1422 585C1424 589 1424 594 1424 600C1424 605 1422 612 1420 618C1418 624 1414 630 1410 636Z"/>
<path fill="#db2a27" d="M1408 632C1404 637 1400 642 1396 646C1391 650 1386 653 1381 655C1377 658 1372 659 1368 659C1364 659 1360 658 1357 656C1354 654 1352 651 1351 647C1349 643 1349 638 1349 633C1350 628 1351 622 1353 616C1356 611 1359 605 1362 600C1366 595 1371 590 1375 586C1379 582 1384 578 1389 576C1394 574 1398 573 1402 573C1406 573 1410 574 1413 576C1416 578 1419 581 1420 585C1421 589 1422 594 1421 599C1421 604 1419 610 1417 615C1415 621 1412 627 1408 632Z"/>
<path fill="#93c63d" d="M1712 615C1710 623 1708 631 1705 637C1701 644 1697 650 1693 655C1688 659 1683 663 1677 665C1672 667 1666 668 1661 667C1656 666 1651 663 1647 660C1642 656 1639 651 1636 645C1633 639 1631 631 1630 624C1630 617 1630 609 1631 601C1633 594 1635 586 1638 580C1642 573 1646 567 1650 562C1655 558 1660 554 1666 552C1671 550 1677 549 1682 550C1687 551 1692 554 1696 557C1701 561 1704 566 1707 572C1710 578 1712 585 1712 593C1713 600 1713 608 1712 615Z"/>
<path fill="#d6de3c" d="M1708 615C1707 622 1704 629 1702 635C1699 641 1695 647 1691 651C1686 655 1681 659 1677 661C1672 663 1667 663 1662 662C1657 662 1653 659 1649 656C1645 652 1641 647 1639 642C1637 637 1635 630 1634 623C1633 616 1634 609 1635 602C1636 595 1639 588 1641 582C1644 576 1648 570 1652 566C1657 561 1662 558 1666 556C1671 554 1676 554 1681 554C1686 555 1690 558 1694 561C1698 564 1702 569 1704 575C1706 580 1708 587 1709 594C1709 600 1709 608 1708 615Z"/>
<path fill="#f2a130" d="M1705 616C1704 623 1702 629 1699 635C1696 641 1693 646 1689 650C1685 654 1681 657 1676 659C1672 661 1667 661 1663 661C1658 660 1654 658 1650 654C1647 651 1644 647 1641 642C1639 637 1638 630 1637 624C1636 618 1637 611 1638 604C1639 598 1641 591 1644 586C1647 580 1650 574 1654 570C1658 566 1662 563 1667 561C1671 560 1676 559 1680 560C1685 561 1689 563 1693 566C1696 569 1699 574 1701 579C1704 584 1705 590 1706 596C1706 603 1706 610 1705 616Z"/>
<path fill="#db2a27" d="M1700 621C1699 627 1697 633 1694 637C1692 642 1689 647 1685 650C1682 654 1678 657 1674 658C1670 660 1666 660 1662 660C1658 659 1654 657 1651 654C1648 651 1645 647 1643 643C1641 639 1640 633 1639 628C1638 622 1639 616 1640 611C1641 605 1643 599 1645 594C1647 589 1651 585 1654 581C1657 578 1661 575 1665 573C1669 572 1674 571 1677 572C1681 573 1685 575 1688 577C1691 580 1694 584 1696 589C1698 593 1700 599 1700 604C1701 609 1701 615 1700 621Z"/>
<path fill="#3a58a9" d="M1241 439C1242 429 1244 419 1251 409C1258 400 1274 386 1284 382C1294 379 1302 385 1311 389C1320 393 1333 400 1338 406C1343 411 1344 416 1341 422C1338 429 1326 435 1318 442C1310 450 1301 459 1294 469C1288 479 1287 497 1281 502C1276 507 1267 505 1261 499C1255 494 1248 479 1244 469C1241 459 1240 449 1241 439Z"/>
<path fill="#3a58a9" d="M1448 558C1451 553 1464 552 1470 556C1475 559 1480 571 1481 579C1483 587 1481 600 1479 605C1476 610 1470 612 1466 609C1462 607 1456 598 1453 590C1450 581 1445 564 1448 558Z"/>
<path fill="#3a58a9" d="M1608 442C1617 436 1638 432 1651 432C1664 432 1676 438 1684 442C1693 447 1702 452 1704 459C1707 466 1707 477 1701 482C1695 487 1682 485 1668 489C1654 494 1629 502 1618 509C1606 516 1602 523 1598 532C1594 542 1594 557 1594 566C1595 574 1602 581 1601 582C1600 584 1589 587 1588 576C1586 565 1590 534 1591 516C1592 498 1592 481 1594 469C1597 457 1598 449 1608 442Z"/>
<path fill="#3a58a9" d="M1294 738C1300 733 1317 728 1325 729C1334 731 1341 740 1344 749C1348 758 1347 771 1347 782C1347 794 1350 810 1344 816C1339 822 1322 823 1314 819C1306 816 1299 807 1296 797C1292 787 1292 770 1292 760C1292 750 1289 743 1294 738Z"/>
<path fill="#3a58a9" d="M1347 831C1350 821 1362 837 1371 833C1380 829 1389 819 1401 806C1413 793 1433 763 1444 753C1456 743 1462 741 1468 746C1473 752 1472 776 1478 786C1483 796 1489 798 1501 806C1513 814 1532 826 1551 833C1571 839 1598 847 1618 846C1637 845 1659 838 1668 826C1677 814 1663 787 1671 776C1679 765 1696 766 1718 759C1739 753 1784 735 1801 739C1818 744 1818 772 1818 786C1818 801 1812 812 1801 826C1790 840 1771 857 1751 869C1732 882 1707 894 1684 903C1662 911 1646 916 1618 919C1590 923 1546 926 1518 926C1490 927 1473 924 1451 923C1429 922 1400 925 1384 919C1369 914 1365 905 1359 890C1352 875 1345 840 1347 831Z"/>
<path fill="#111111" d="M1681 582C1681 584 1680 586 1680 588C1679 589 1678 591 1676 592C1675 593 1673 594 1672 595C1670 595 1668 596 1666 596C1664 596 1662 595 1660 595C1659 594 1657 593 1655 592C1654 591 1653 589 1652 588C1652 586 1651 584 1651 582C1651 581 1652 579 1652 577C1653 576 1654 574 1655 573C1657 572 1659 571 1660 570C1662 569 1664 569 1666 569C1668 569 1670 569 1672 570C1673 571 1675 572 1676 573C1678 574 1679 576 1680 577C1680 579 1681 581 1681 582Z"/>
<path fill="#111111" d="M1394 657C1394 657 1393 658 1393 659C1393 660 1392 661 1391 662C1390 662 1389 663 1388 663C1387 664 1386 664 1384 664C1383 664 1382 664 1381 663C1380 663 1379 662 1378 662C1377 661 1376 660 1376 659C1375 658 1375 657 1375 657C1375 656 1375 655 1376 654C1376 653 1377 652 1378 651C1379 651 1380 650 1381 650C1382 649 1383 649 1384 649C1386 649 1387 649 1388 650C1389 650 1390 651 1391 651C1392 652 1393 653 1393 654C1393 655 1394 656 1394 657Z"/>
<path fill="#111111" d="M1248 528C1248 528 1248 529 1247 530C1247 531 1246 531 1245 532C1245 532 1244 533 1243 533C1242 533 1241 534 1240 534C1239 534 1238 533 1237 533C1236 533 1235 532 1234 532C1233 531 1233 531 1232 530C1232 529 1232 528 1232 528C1232 527 1232 526 1232 525C1233 525 1233 524 1234 523C1235 523 1236 522 1237 522C1238 522 1239 522 1240 522C1241 522 1242 522 1243 522C1244 522 1245 523 1245 523C1246 524 1247 525 1247 525C1248 526 1248 527 1248 528Z"/>
<path fill="none" stroke="#111" stroke-width="1.4" stroke-linejoin="round" d="M1393 317L1370 333L1349 349L1330 367L1311 388L1296 407L1282 427L1250 486L1244 494L1230 509L1227 514L1225 519L1224 529L1228 539L1235 546L1248 555L1251 558L1253 562L1255 574L1260 620L1266 647L1271 663L1278 678L1285 692L1293 706M1315 384L1300 403L1285 424L1274 443L1256 477L1250 488L1245 494L1234 504L1229 510L1226 517L1224 525L1225 533L1229 540L1237 547L1249 555L1251 558L1253 561L1256 571L1259 605L1262 625L1266 643L1271 660L1277 675L1285 692L1295 707L1312 732L1317 743L1318 747L1316 751L1304 764L1302 770L1300 775L1299 781L1299 785L1302 791L1304 794M1265 424L1254 446L1235 484L1221 509L1218 520L1218 532L1221 542L1231 559L1235 569L1238 579L1246 628L1250 646L1256 663L1268 691L1292 731L1297 742L1298 748L1298 752L1294 768L1293 776L1294 784L1296 789L1299 795L1302 797L1307 801L1311 802L1319 802L1323 800L1328 797L1331 794L1334 789L1335 783L1335 777L1333 771L1331 768L1328 766L1324 764M1196 531L1198 560L1204 606L1210 633L1218 661L1225 679L1234 700L1245 719L1267 755L1273 766L1281 789L1289 801L1297 807L1304 811L1311 813L1319 814L1325 813L1333 811L1355 800L1366 797L1378 795L1413 795L1433 794M1191 688L1200 706L1210 726L1222 745L1234 763L1253 787L1267 804L1279 815L1291 823L1304 829L1319 833L1393 844L1413 846L1434 847L1452 847L1470 846M1540 323L1510 329L1481 337L1453 348L1428 361L1404 376L1380 395L1360 415L1340 438L1325 459L1310 485L1287 528L1280 545L1278 557L1277 571L1276 604L1279 632L1286 657M1534 368L1502 376L1472 388L1446 402L1419 421L1395 442L1373 466L1353 494L1334 525L1321 555L1316 570L1312 583L1309 599L1307 613L1307 627L1307 640L1309 652L1313 663L1317 675L1323 685L1330 695L1337 702L1345 708L1354 713M1514 426L1490 437L1466 451L1443 468L1422 487L1397 513L1370 546L1349 576L1336 599L1331 614L1328 628L1327 642L1328 654L1333 668L1338 678L1348 689L1358 696L1371 701L1379 702L1385 702L1393 700L1399 698L1406 695L1411 691L1416 685L1419 680L1422 672L1423 666L1423 658L1421 652L1419 647L1415 642M1441 459L1419 478L1400 498L1379 523L1358 553L1344 575L1334 595L1328 614L1324 632L1324 644L1326 654L1328 664L1333 673L1338 682L1345 689L1353 695L1362 700L1371 703L1381 704L1391 703L1399 701L1408 696L1414 691L1420 683L1424 676L1426 668L1426 662L1425 656L1423 650L1419 643L1415 639L1410 635L1405 633L1397 631L1391 631L1385 632L1379 635L1375 639L1371 644L1369 649L1369 655M1285 528L1280 539L1277 548L1276 562L1275 583L1275 601L1276 619L1279 635L1282 651L1287 664L1292 677L1299 690L1307 702L1317 714L1326 725L1335 733L1346 739L1355 743L1367 745L1379 747L1391 747L1403 746L1415 744L1427 740L1438 735L1448 730L1460 722L1469 714L1479 704L1494 684L1511 652L1516 646L1520 644L1524 644L1536 647M1221 621L1229 653L1240 681L1250 703L1272 739L1278 752L1281 761L1284 779L1287 789L1292 796L1296 800L1302 805L1308 808L1314 809L1320 809L1326 808L1333 804L1342 797L1354 783L1361 779L1373 777L1403 776L1422 775L1440 772L1457 768L1477 762L1497 754L1519 743L1549 727M1641 321L1611 317L1583 315L1552 316L1524 320L1497 326L1470 335L1444 346L1419 359L1397 374L1375 392L1356 410L1338 432L1323 453L1309 475L1275 535L1273 541L1272 547M1622 361L1592 359L1563 360L1533 364L1506 371L1479 380L1454 393L1430 407L1406 426L1383 449L1362 474L1343 502L1327 532L1316 559L1308 586L1305 612L1305 636M1615 417L1599 418L1582 419L1566 421L1549 425L1533 429L1518 435L1503 441L1487 449L1460 467L1433 489L1406 516L1374 552L1353 579L1345 591L1339 602L1334 613L1331 623L1330 633L1330 643L1331 655L1334 664L1338 674L1344 682L1351 689L1360 694L1369 698L1379 699M1614 465L1596 468L1579 473L1562 480L1544 489L1514 507L1466 543L1447 555L1428 566L1388 585L1372 595L1365 601L1359 607L1353 616L1350 623L1346 632L1345 640L1345 648L1346 656L1349 664L1353 671L1358 677L1363 681L1370 684L1376 686L1384 686L1390 685L1399 680L1404 674L1407 666L1408 658L1405 651L1399 645L1392 642L1384 642M1347 586L1340 599L1335 610L1332 619L1330 629L1329 639L1330 649L1332 659L1335 669L1339 676L1344 682L1355 692L1362 695L1369 698L1377 700L1383 700L1391 699L1397 697L1404 693L1409 689L1414 683L1418 678L1420 671L1421 665L1421 658L1419 653L1417 647L1413 642L1408 638L1403 636L1397 634L1391 634L1383 635L1378 638L1373 644L1371 650L1371 656L1373 662L1378 665L1384 666M1294 555L1290 577L1288 601L1289 626L1293 647L1300 669L1309 687L1320 703L1333 716L1348 726L1356 729L1365 732L1375 734L1385 734L1396 734L1406 732L1415 729L1424 725L1440 715L1447 708L1452 702L1458 694L1462 687L1465 677L1466 669L1466 659L1465 651L1462 644L1456 635L1451 629L1444 622L1437 618L1428 613L1418 610L1408 609L1398 610L1390 612L1381 616L1374 620M1239 721L1264 760L1279 791L1286 801L1293 808L1302 813L1310 816L1320 817L1332 815L1355 807L1365 805L1379 804L1423 805L1447 803L1477 798L1505 791L1535 780L1564 765L1595 746L1637 715M1215 760L1235 785L1255 808L1273 824L1290 834L1311 843L1338 851L1377 860L1411 866L1442 868L1470 867L1498 864L1526 858L1553 849L1578 837L1603 823L1626 807M1723 368L1695 356L1667 346L1637 339L1609 336L1579 334L1549 336L1519 341L1491 348L1463 359L1438 372L1414 387L1391 404L1371 424L1352 445L1335 470L1318 497M1709 435L1685 426L1657 418L1631 414L1603 413L1575 415L1547 420L1522 427L1496 438L1471 452L1448 469L1425 489L1403 512L1373 547L1350 578L1337 601L1333 612L1330 622M1706 466L1685 459L1662 453L1637 451L1613 451L1589 455L1564 461L1539 471L1514 484L1485 502L1426 548L1378 582L1367 591L1358 599L1352 607L1347 616L1343 625L1341 635L1341 645L1342 655L1345 665L1349 672M1678 483L1658 480L1638 481L1618 484L1599 490L1579 500L1558 513L1540 529L1504 562L1493 570L1482 577L1471 581L1458 585L1414 591L1400 593L1388 597L1378 603L1369 609L1364 615L1358 623L1354 630L1352 638L1351 646L1351 654L1354 662L1359 670L1365 676L1374 680L1382 681L1389 680L1396 676L1401 669L1403 662M1332 728L1345 737L1358 742L1376 745L1396 745L1414 743L1431 737L1447 728L1464 716L1475 705L1485 692L1493 678L1499 663L1502 653L1501 645L1498 638L1490 631L1477 623L1460 615L1445 609L1430 604L1418 602L1408 602L1396 604L1386 607L1379 611L1372 615L1367 621L1362 627L1358 635L1356 640L1355 648L1356 654L1358 662L1363 669L1369 674L1374 677L1382 678L1388 676L1394 673L1398 669M1289 785L1291 790L1295 795L1299 800L1304 803L1313 806L1319 806L1325 805L1332 801L1339 794L1344 787L1350 772L1354 768L1364 766L1396 766L1417 764L1436 760L1458 753L1485 741L1536 712L1560 701L1587 691L1641 677L1666 667L1677 662L1686 655L1695 646L1702 639M1272 787L1281 801L1291 811L1303 817L1317 820L1329 820L1353 816L1365 815L1418 817L1446 817L1472 814L1496 809L1519 802L1542 793L1564 782L1586 769L1609 753L1636 731L1668 704L1690 683M1265 826L1285 839L1309 851L1342 861L1379 871L1411 876L1441 879L1471 878L1499 875L1527 869L1554 861L1580 850L1605 836L1628 820L1650 802L1670 782L1689 758M1778 415L1753 397L1727 381L1700 369L1672 358L1642 351L1612 347L1582 345L1554 347L1524 352L1496 359L1470 369L1444 381L1420 396L1397 415L1376 435L1357 458M1772 492L1753 473L1731 457L1708 444L1681 434L1654 427L1626 424L1597 424L1567 428L1542 434L1515 444L1492 455L1468 470L1447 486L1424 507L1399 533L1367 567M1761 531L1747 514L1732 501L1715 489L1695 480L1676 474L1654 471L1632 471L1610 475L1596 479L1581 484L1566 491L1552 499L1529 514L1482 550L1460 564L1441 572L1397 587L1381 594L1372 600L1365 607L1358 614L1353 623M1738 536L1729 526L1720 518L1710 511L1699 505L1687 501L1676 498L1664 497L1650 497L1638 499L1626 503L1615 507L1602 514L1593 522L1584 530L1576 539L1568 551L1561 568L1556 585L1556 601L1559 615L1561 621L1566 627L1571 633L1578 638L1593 647L1610 653L1628 656L1647 656L1664 651L1673 647L1680 643L1688 636L1694 631L1699 624L1703 617L1706 610L1708 602L1708 588M1642 492L1632 494L1621 498L1611 501L1600 507L1590 513L1581 521L1572 529L1564 538L1555 549L1547 563L1540 578L1533 593L1528 610L1525 622L1525 630L1527 635L1531 639L1537 642L1555 650L1578 657L1602 662L1622 664L1641 663L1656 659L1670 654L1683 646L1695 635L1704 622L1708 614L1710 607L1711 599L1712 590L1709 577L1703 564L1698 558L1693 554M1329 804L1334 801L1339 797L1344 790L1352 776L1354 773L1358 771L1368 770L1398 769L1418 768L1438 764L1458 758L1475 752L1491 744L1545 715L1568 704L1593 695L1647 677L1660 672L1673 666L1683 659L1692 652L1700 643L1707 633L1713 622L1716 612L1718 601L1718 590M1311 823L1327 824L1366 823L1424 827L1454 826L1476 824L1498 820L1520 814L1541 806L1564 795L1587 781L1609 766L1632 747L1662 720L1689 692L1707 671L1720 651M1336 883L1367 893L1396 899L1426 904L1456 905L1487 904L1515 900L1544 893L1571 884L1597 873L1622 859L1645 842L1668 823L1687 802L1706 778L1721 755L1736 728M1796 423L1776 406L1754 390L1732 377L1708 365L1682 355L1657 347L1631 342L1605 339L1579 338L1553 339L1527 343L1503 349L1478 357L1454 367L1431 380L1411 394M1807 530L1792 506L1774 484L1753 465L1730 448L1705 435L1677 424L1649 418L1619 415L1591 415L1561 419L1533 426L1505 436L1480 449L1455 466L1430 487L1406 511M1764 651L1766 635L1766 619L1766 605L1764 591L1761 577L1756 563L1750 551L1744 540L1735 529L1726 521L1715 512L1705 506L1692 500L1680 497L1668 495L1654 495L1638 496L1620 501L1606 508L1591 518L1577 531L1566 545L1557 561L1550 578L1547 591L1546 606L1548 617L1552 627L1560 636L1572 644L1586 651L1603 656M1707 651L1715 637L1722 623L1725 607L1726 591L1722 575L1717 562L1712 555L1707 549L1696 541L1688 537L1681 534L1673 533L1665 532L1657 533L1649 535L1642 538L1635 543L1629 548L1624 554L1620 562L1618 567L1616 575L1616 583L1618 591L1620 597L1624 604L1628 608L1638 615L1650 619L1662 619L1669 616L1675 614L1680 610L1684 605L1688 598L1690 593L1690 587L1689 581L1686 573L1682 569L1677 565L1671 564L1665 564L1659 565L1654 569L1651 574L1650 580L1651 586L1654 591L1657 593L1663 595L1667 594L1672 591L1674 587M1704 521L1689 514L1673 510L1657 510L1641 512L1626 518L1613 527L1601 538L1592 551L1587 562L1585 572L1583 584L1584 594L1587 604L1591 613L1597 621L1606 629L1617 636L1628 640L1640 642L1654 641L1666 638L1677 633L1686 625L1694 616L1700 603L1702 591L1700 579L1695 568L1691 564L1687 560L1682 557L1676 554L1670 554L1664 554L1654 557L1648 562L1643 568L1640 576L1640 582L1643 590L1647 596L1654 600L1660 602M1399 804L1435 803L1468 800L1499 792L1514 787L1531 780L1560 766L1590 748L1649 706L1681 681L1699 665L1713 647L1718 638L1722 629L1727 612L1728 594L1727 584L1725 576L1721 566L1717 559L1711 551L1705 545M1395 850L1425 853L1454 853L1482 851L1510 846L1537 838L1561 828L1585 816L1608 801L1635 780L1660 756L1685 726L1708 695L1723 670L1734 646L1738 634L1741 622L1742 610L1743 600M1410 921L1440 924L1470 925L1501 923L1529 918L1558 911L1585 901L1612 888L1636 874L1659 858L1682 837L1701 817L1720 793L1736 767L1750 740L1761 712L1769 685M1823 624L1818 594L1810 565L1799 539L1784 515L1775 504L1766 493L1756 483L1745 474L1734 466L1722 459L1709 452L1696 446L1669 438L1655 435L1639 433L1609 432L1579 435L1549 442L1521 452L1494 466L1467 484M1767 702L1774 669L1777 651L1778 635L1778 619L1777 605L1774 589L1771 575L1766 562L1760 549L1752 537L1745 527L1735 517L1726 509L1715 501L1704 495L1693 491L1681 487L1669 485L1655 484L1643 484L1629 486L1617 489L1604 494L1582 505L1561 520L1543 537L1515 568L1503 579M1568 566L1565 580L1564 594L1567 608L1571 619L1580 630L1591 639L1605 647L1621 651L1633 653L1645 653L1657 650L1668 646L1679 641L1687 634L1695 626L1701 617L1705 608L1706 600L1707 592L1706 584L1704 576L1701 569L1696 562L1690 557L1680 551L1674 549L1668 549L1662 550L1656 551L1647 556L1641 562L1638 567L1636 573L1635 579L1637 587L1639 592L1642 597L1647 601L1654 604L1660 605L1666 604L1672 602L1678 597L1681 591L1682 585L1681 579L1677 574L1674 572L1668 570L1664 570L1659 573L1657 577L1656 580L1656 584M1581 533L1571 548L1562 564L1557 581L1556 598L1558 611L1563 623L1572 633L1583 642L1598 649L1613 654L1629 656L1646 656L1661 652L1674 646L1687 637L1697 627L1701 620L1705 612L1707 605L1708 597L1708 589L1707 581L1705 573L1702 568L1697 561L1691 556L1684 551L1679 549L1671 548L1665 548L1657 549L1651 552L1645 556L1640 561L1637 566L1635 572L1634 578L1634 584L1636 590L1639 595L1644 601L1650 604L1655 606L1661 606L1667 605L1673 602L1677 598L1681 593M1499 861L1530 854L1561 843L1590 829L1617 811L1642 791L1666 766L1689 738L1711 706L1728 676L1738 650L1743 637L1745 625L1747 613L1747 601L1746 588L1744 579L1740 567L1736 558L1730 547L1723 540L1715 531L1706 525M1486 912L1516 908L1544 902L1572 892L1598 881L1625 866L1648 850L1670 832L1691 810L1710 786L1727 759L1742 730L1754 700L1762 671L1767 643L1769 617L1768 603L1766 591M1593 949L1616 940L1637 929L1658 917L1677 904L1696 889L1712 874L1729 857L1743 840L1758 820L1769 801L1781 780L1790 759L1798 736L1804 715L1808 691L1811 669M1847 529L1836 510L1825 491L1812 473L1797 456L1782 440L1765 426L1747 413L1728 401L1708 391L1687 383L1666 376L1642 370L1620 367L1598 365L1576 366L1554 367M1805 735L1813 701L1817 669L1817 637L1814 607L1807 577L1797 551L1791 538L1783 526L1775 514L1766 503L1757 493L1746 483L1725 468L1712 461L1699 455L1686 451L1673 447L1645 442L1616 441L1602 442L1586 444L1557 451M1707 794L1717 779L1727 764L1744 731L1757 697L1762 680L1766 664L1768 648L1770 632L1770 618L1769 604L1767 590L1764 578L1760 565L1755 554L1748 541L1740 530L1730 520L1720 512L1708 505L1697 499L1686 495L1672 492L1660 491L1646 492L1634 494L1620 497L1607 503L1595 510L1583 518L1573 527M1686 870L1709 848L1730 823L1748 797L1765 766L1778 735L1787 704L1793 672L1795 642L1793 611L1788 584L1779 559L1773 546L1767 535L1759 524L1751 515L1743 506L1734 498L1724 491L1713 485L1703 479L1689 474M1616 911L1644 895L1669 877L1692 858L1713 836L1732 812L1749 785L1764 756L1775 728L1784 697L1789 667L1791 637L1789 609L1784 583L1776 558L1769 545L1763 535L1756 525L1748 516M1660 927L1682 912L1701 897L1721 879L1738 862L1754 841L1768 821L1780 801L1791 779L1801 754L1808 731L1814 708L1818 684L1820 660L1819 635L1817 611L1813 589"/>
<path fill="none" stroke="#111" stroke-width="1.3" d="M1331 371L1323 374L1326 366M1234 509L1227 513L1228 505M1274 660L1274 668L1268 663M1272 454L1266 459L1266 451M1261 595L1259 603L1254 596M1319 753L1311 757L1313 749M1230 500L1224 504L1224 496M1258 658L1257 666L1251 661M1318 799L1326 798L1322 805M1209 613L1207 621L1202 614M1277 767L1276 775L1270 769M1415 792L1422 795L1415 799M1234 758L1236 765L1229 762M1372 837L1379 842L1371 844M1462 348L1454 348L1459 342M1334 453L1327 457L1328 449M1280 608L1278 615L1273 608M1458 400L1450 400L1455 393M1343 518L1336 523L1336 515M1322 677L1323 685L1316 680M1445 471L1438 473L1441 465M1340 601L1334 606L1333 598M1411 686L1418 682L1417 690M1386 520L1379 524L1380 516M1335 670L1335 678L1329 673M1403 636L1397 631L1405 629M1279 609L1276 616L1272 609M1361 741L1368 746L1361 748M1498 670L1504 665L1504 673M1251 697L1252 705L1245 701M1343 791L1350 788L1348 796M1503 747L1511 747L1506 753M1559 319L1551 317L1558 312M1402 374L1395 376L1398 369M1297 504L1290 508L1291 500M1540 366L1532 364L1538 359M1394 443L1386 445L1389 438M1312 587L1307 593L1305 586M1534 433L1526 432L1532 426M1399 529L1392 532L1394 524M1341 672L1343 680L1336 676M1539 496L1531 497L1535 490M1395 585L1387 586L1391 579M1400 674L1406 669L1407 677M1336 663L1337 671L1330 667M1392 637L1384 635L1390 630M1295 637L1293 645L1288 638M1407 728L1415 729L1409 735M1421 614L1414 610L1422 607M1283 791L1284 799L1277 795M1439 800L1447 803L1440 807M1595 741L1602 740L1599 747M1272 818L1276 825L1268 824M1432 863L1439 867L1431 870M1593 825L1601 825L1596 831M1644 345L1638 340L1646 338M1479 357L1471 356L1477 350M1348 457L1341 461L1342 453M1629 417L1622 414L1630 410M1470 458L1462 459L1466 452M1354 579L1347 583L1348 575M1625 454L1618 451L1625 447M1473 516L1465 518L1469 511M1347 624L1342 631L1340 623M1598 494L1590 494L1595 488M1458 589L1450 586L1457 582M1367 673L1371 679L1363 679M1409 740L1417 742L1411 747M1481 630L1477 623L1485 624M1361 659L1362 667L1355 663M1343 773L1351 771L1347 778M1503 727L1511 726L1507 733M1661 666L1669 666L1665 672M1341 815L1348 817L1342 822M1509 802L1517 803L1511 808M1651 714L1659 712L1656 719M1341 858L1347 863L1339 864M1507 870L1515 872L1508 877M1653 793L1661 791L1658 798M1706 375L1701 369L1709 369M1542 352L1534 350L1541 345M1393 424L1385 426L1388 418M1704 447L1699 441L1707 440M1541 438L1533 437L1538 431M1404 532L1396 535L1399 528M1696 484L1690 478L1698 477M1539 512L1531 513L1535 506M1391 594L1383 593L1388 587M1668 501L1661 497L1668 494M1559 599L1557 607L1552 600M1689 631L1696 628L1694 635M1573 533L1566 536L1568 528M1575 653L1582 658L1574 660M1708 598L1712 591L1715 598M1396 766L1403 769L1397 773M1552 708L1560 708L1555 714M1702 636L1708 631L1708 639M1394 822L1401 825L1394 829M1557 795L1565 794L1561 801M1688 688L1695 685L1693 693M1417 899L1423 903L1416 906M1581 876L1589 876L1584 882M1708 769L1715 765L1714 773M1727 378L1722 372L1730 372M1565 342L1557 339L1564 335M1753 469L1749 462L1757 463M1597 418L1589 415L1596 411M1444 479L1436 481L1440 474M1756 570L1756 562L1762 567M1624 504L1616 504L1621 498M1561 632L1565 639L1557 638M1718 574L1719 566L1725 572M1623 597L1625 605L1618 602M1655 589L1662 594L1654 596M1626 522L1618 523L1623 516M1640 638L1648 641L1641 645M1648 565L1642 570L1641 562M1480 793L1488 795L1482 800M1629 716L1637 714L1633 721M1725 590L1726 582L1731 588M1477 848L1485 850L1478 855M1629 781L1636 779L1633 786M1730 648L1735 642L1736 650M1492 920L1500 923L1493 927M1648 862L1656 860L1652 867M1750 731L1756 726L1756 734M1799 546L1798 538L1805 543M1674 443L1668 438L1675 436M1511 461L1503 461L1508 455M1775 621L1778 614L1782 620M1688 493L1682 487L1690 486M1540 546L1533 548L1535 541M1593 636L1598 643L1590 642M1701 575L1700 567L1707 571M1679 584L1678 576L1685 580M1561 608L1560 616L1554 611M1696 623L1702 618L1702 626M1640 594L1644 601L1637 600M1575 832L1583 832L1579 838M1698 719L1705 715L1704 723M1736 564L1735 557L1742 561M1565 892L1573 892L1568 898M1699 793L1707 790L1705 798M1764 641L1768 634L1771 641M1775 784L1781 779L1782 787M1799 463L1797 455L1804 458M1657 377L1651 372L1659 371M1813 653L1817 646L1820 653M1759 499L1756 492L1763 494M1606 445L1599 442L1605 438M1744 721L1750 715L1751 723M1754 559L1753 551L1760 555M1616 503L1608 502L1613 497M1737 806L1744 802L1743 810M1791 649L1795 642L1798 650M1731 501L1727 494L1735 495M1682 862L1690 860L1687 867M1773 723L1778 717L1780 725M1772 559L1772 551L1779 556M1806 728L1811 722L1812 730"/>
<path fill="none" stroke="#111" stroke-width="7" stroke-linecap="round" d="M1366 679C1362 676 1350 667 1344 660C1338 653 1333 647 1329 638C1325 629 1322 620 1321 608C1320 597 1321 585 1322 571C1323 558 1325 542 1327 527C1329 512 1329 499 1334 482C1340 466 1347 441 1358 426C1368 410 1382 399 1398 389C1413 379 1431 371 1451 366C1471 361 1496 358 1518 357C1540 357 1562 359 1584 362C1607 366 1629 373 1651 379C1673 385 1698 389 1718 399C1737 410 1756 427 1768 442C1780 457 1786 471 1791 489C1797 507 1798 531 1801 549C1804 567 1810 582 1811 599C1812 616 1811 635 1808 653C1805 671 1794 699 1792 708"/>
<path fill="none" stroke="#111" stroke-width="8" stroke-linecap="round" d="M1341 899C1346 897 1362 896 1371 886C1381 876 1390 856 1398 839C1406 823 1411 802 1418 786C1424 770 1431 757 1438 743C1444 729 1450 713 1458 703C1466 693 1477 687 1484 683C1492 679 1493 677 1501 679C1509 682 1523 689 1534 696C1546 703 1558 712 1568 719C1578 727 1583 737 1594 743C1606 748 1619 752 1634 753C1649 753 1668 750 1684 746C1701 742 1718 738 1734 729C1751 721 1772 709 1784 696C1797 683 1804 660 1808 653"/>
<path fill="none" stroke="#111" stroke-width="5" stroke-linecap="round" d="M1568 884C1578 883 1609 883 1629 879C1648 875 1666 869 1684 860C1703 851 1725 839 1740 823C1755 807 1767 785 1777 764C1787 743 1794 716 1799 697C1804 679 1806 660 1808 653"/>
</g>
<circle cx="1521.5" cy="619.5" r="336.5" fill="none" stroke="#1a1a1a" stroke-width="1.7"/>
<clipPath id="c2"><circle cx="2251" cy="575.5" r="380"/></clipPath>
<g clip-path="url(#c2)">
<circle cx="2251" cy="576" r="382" fill="#4fa5d8"/>
<path fill="#68c1b5" d="M1850 429C1857 381 1892 442 1913 446C1934 450 1951 455 1975 454C2000 454 2035 446 2059 442C2083 438 2103 429 2122 429C2140 430 2156 439 2172 446C2187 453 2201 460 2213 471C2226 482 2238 496 2247 513C2255 530 2257 555 2264 571C2270 588 2281 596 2289 613C2296 630 2304 655 2309 676C2315 697 2322 720 2322 738C2322 757 2319 775 2309 788C2300 802 2285 815 2268 822C2250 829 2229 830 2205 830C2181 830 2149 825 2122 822C2094 819 2066 819 2038 814C2010 808 1982 801 1955 788C1927 776 1888 798 1871 738C1854 679 1843 478 1850 429Z"/>
<path fill="#68c1b5" d="M2289 371C2298 357 2313 348 2330 342C2348 335 2372 335 2393 333C2414 331 2435 329 2456 329C2476 329 2497 329 2518 333C2539 337 2560 342 2581 354C2602 366 2633 340 2644 404C2654 468 2654 684 2644 738C2633 793 2602 733 2581 730C2560 727 2539 722 2518 722C2497 722 2476 731 2456 730C2435 729 2414 720 2393 713C2372 706 2346 701 2330 688C2314 675 2305 653 2297 634C2289 614 2284 596 2280 571C2276 547 2273 512 2272 488C2271 463 2273 445 2276 425C2279 406 2280 385 2289 371Z"/>
<path fill="#68c1b5" d="M2251 216C2257 210 2278 214 2284 221C2291 228 2289 245 2289 258C2289 271 2289 292 2284 300C2280 308 2266 311 2259 304C2253 297 2248 273 2247 258C2245 244 2245 223 2251 216Z"/>
<path fill="#68c1b5" d="M2307 235C2310 231 2329 231 2335 233C2340 236 2344 246 2341 250C2338 254 2323 258 2318 256C2312 254 2305 239 2307 235Z"/>
<path fill="#67bc6f" d="M2372 246C2372 247 2372 248 2371 250C2371 251 2370 252 2369 253C2368 254 2367 255 2366 255C2364 256 2363 256 2362 256C2360 256 2359 256 2358 255C2356 255 2355 254 2354 253C2353 252 2353 251 2352 250C2352 248 2351 247 2351 246C2351 244 2352 243 2352 242C2353 240 2353 239 2354 238C2355 237 2356 236 2358 236C2359 235 2360 235 2362 235C2363 235 2364 235 2366 236C2367 236 2368 237 2369 238C2370 239 2371 240 2371 242C2372 243 2372 244 2372 246Z"/>
<path fill="#68c1b5" d="M2163 208C2170 202 2202 200 2213 204C2225 207 2232 222 2230 229C2229 236 2215 244 2205 246C2195 247 2179 244 2172 237C2165 231 2156 214 2163 208Z"/>
<path fill="#68c1b5" d="M2197 279C2206 272 2238 270 2247 279C2256 288 2254 318 2251 333C2248 349 2241 363 2226 371C2211 379 2181 379 2163 379C2146 379 2131 376 2122 371C2112 365 2101 352 2105 346C2108 340 2129 337 2142 333C2156 329 2179 330 2188 321C2197 312 2187 286 2197 279Z"/>
<path fill="#68c1b5" d="M2426 237C2433 234 2456 243 2464 250C2472 257 2479 272 2476 279C2474 286 2456 293 2447 292C2438 290 2426 280 2422 271C2419 262 2419 241 2426 237Z"/>
<path fill="#68c1b5" d="M2497 266C2504 264 2529 271 2539 279C2550 287 2563 305 2560 312C2557 319 2533 324 2522 321C2512 318 2502 305 2497 296C2493 287 2490 269 2497 266Z"/>
<path fill="#68c1b5" d="M1955 822C1965 815 2010 826 2038 830C2066 834 2094 841 2122 847C2149 852 2184 854 2205 864C2226 873 2247 893 2247 905C2247 918 2226 935 2205 939C2184 943 2149 936 2122 930C2094 925 2062 915 2038 905C2014 896 1989 886 1975 872C1961 858 1944 829 1955 822Z"/>
<path fill="#68c1b5" d="M2289 822C2300 810 2334 809 2351 814C2369 818 2383 832 2393 847C2403 862 2417 890 2414 905C2410 921 2389 935 2372 939C2355 943 2325 939 2309 930C2294 921 2284 903 2280 885C2277 866 2277 834 2289 822Z"/>
<path fill="#68c1b5" d="M2497 788C2508 778 2541 773 2560 772C2579 770 2607 768 2614 780C2621 792 2614 829 2602 843C2589 857 2557 865 2539 864C2522 862 2504 847 2497 834C2490 822 2487 799 2497 788Z"/>
<path fill="#68c1b5" d="M1921 655C1932 651 1950 679 1955 697C1959 714 1953 745 1946 759C1939 773 1923 787 1913 780C1903 773 1886 738 1888 717C1889 697 1910 658 1921 655Z"/>
<path fill="#4fa5d8" d="M2476 738C2480 729 2515 731 2539 730C2563 729 2605 724 2623 734C2640 744 2650 782 2644 788C2637 795 2602 772 2581 772C2560 772 2536 794 2518 788C2501 783 2473 748 2476 738Z"/>
<path fill="#4fa5d8" d="M1996 801C2007 794 2045 806 2059 814C2073 821 2082 837 2080 847C2078 857 2060 871 2046 872C2032 873 2005 867 1996 855C1988 843 1986 808 1996 801Z"/>
<path fill="#4fa5d8" d="M2297 738C2302 729 2335 738 2351 747C2367 755 2383 772 2393 788C2403 804 2417 834 2414 843C2410 851 2387 846 2372 839C2357 832 2335 818 2322 801C2309 784 2292 747 2297 738Z"/>
<path fill="#67bc6f" d="M1896 463C1911 445 1948 468 1975 467C2003 466 2035 458 2059 454C2083 451 2100 444 2122 446C2143 448 2169 456 2188 467C2208 478 2225 495 2238 513C2252 530 2259 551 2268 571C2276 592 2284 613 2289 634C2293 655 2298 676 2297 697C2296 717 2289 743 2280 759C2272 776 2263 788 2247 797C2231 805 2209 808 2184 809C2160 811 2129 809 2101 805C2073 802 2043 795 2017 788C1991 782 1966 779 1946 763C1926 748 1906 729 1896 697C1886 665 1884 610 1884 571C1884 532 1881 480 1896 463Z"/>
<path fill="#67bc6f" d="M2297 413C2307 386 2332 380 2351 371C2371 362 2393 360 2414 358C2435 357 2456 359 2476 363C2497 366 2520 371 2539 379C2558 388 2575 395 2589 413C2603 431 2616 458 2623 488C2629 518 2628 561 2627 592C2625 624 2625 656 2614 676C2603 696 2583 706 2560 713C2537 720 2504 719 2476 717C2449 716 2416 711 2393 705C2370 699 2353 695 2339 680C2324 665 2314 638 2305 613C2297 588 2290 563 2289 530C2287 496 2286 439 2297 413Z"/>
<path fill="#5db43f" d="M1925 496C1939 479 1974 491 1996 488C2019 485 2038 482 2059 479C2080 477 2103 472 2122 475C2140 478 2156 486 2172 496C2188 507 2205 522 2218 538C2230 554 2240 573 2247 592C2254 612 2259 634 2259 655C2259 676 2256 700 2247 717C2238 735 2225 749 2205 759C2186 769 2156 774 2130 776C2103 778 2072 776 2046 772C2021 768 1995 763 1975 751C1956 738 1939 723 1929 697C1920 670 1918 626 1917 592C1916 559 1912 514 1925 496Z"/>
<path fill="#5db43f" d="M2322 454C2332 440 2353 428 2372 421C2391 414 2414 413 2435 413C2456 413 2476 415 2497 421C2518 427 2543 434 2560 446C2577 459 2593 475 2602 496C2610 517 2612 548 2610 571C2608 595 2601 621 2589 638C2577 655 2560 665 2539 672C2518 678 2488 677 2464 676C2440 674 2413 670 2393 663C2373 656 2355 649 2343 634C2330 619 2323 592 2318 571C2313 550 2313 528 2314 509C2314 489 2312 469 2322 454Z"/>
<path fill="#93c63d" d="M1980 538C1990 522 2018 513 2038 509C2058 505 2079 511 2099 513C2118 515 2138 515 2155 521C2172 527 2192 535 2201 550C2210 566 2209 592 2209 613C2209 634 2209 660 2201 676C2193 692 2176 703 2159 709C2142 715 2119 714 2099 713C2078 713 2056 711 2038 705C2020 699 2003 692 1992 676C1982 659 1977 628 1975 605C1973 582 1969 554 1980 538Z"/>
<path fill="#d6de3c" d="M1988 542C1997 527 2020 521 2038 517C2056 514 2079 519 2099 521C2118 523 2139 524 2155 530C2171 535 2189 541 2197 555C2205 569 2203 594 2203 613C2203 633 2203 657 2195 672C2187 686 2171 693 2155 699C2139 704 2118 704 2099 703C2079 702 2055 700 2038 695C2021 689 2005 682 1996 667C1987 652 1985 626 1984 605C1982 584 1979 557 1988 542Z"/>
<path fill="#5db43f" d="M2084 530C2090 523 2107 523 2113 530C2119 537 2122 557 2122 571C2122 585 2116 601 2113 613C2110 626 2109 641 2105 646C2101 652 2092 652 2088 646C2084 641 2082 626 2080 613C2078 601 2077 585 2078 571C2078 557 2078 537 2084 530Z"/>
<path fill="#f2a130" d="M2026 533C2032 530 2044 528 2052 528C2061 529 2072 531 2077 536C2082 541 2083 552 2083 558C2083 563 2079 567 2077 570C2074 573 2070 572 2068 578C2066 583 2065 594 2065 604C2065 613 2067 626 2068 635C2068 644 2070 652 2068 658C2065 664 2059 669 2052 672C2046 674 2035 676 2029 673C2023 671 2019 664 2017 658C2015 651 2020 644 2018 635C2017 626 2009 614 2006 604C2004 594 2003 583 2005 573C2006 563 2010 552 2014 545C2017 539 2020 536 2026 533Z"/>
<path fill="#f2a130" d="M2142 552C2146 548 2158 554 2165 558C2171 561 2179 565 2183 573C2187 581 2188 592 2188 604C2188 615 2186 633 2183 642C2180 651 2175 653 2167 658C2160 662 2146 666 2137 669C2128 671 2121 672 2114 672C2106 671 2095 669 2091 665C2086 662 2085 655 2088 650C2090 645 2100 640 2106 635C2112 630 2117 624 2122 619C2126 614 2131 610 2134 604C2136 597 2136 589 2137 581C2138 572 2137 556 2142 552Z"/>
<path fill="#e6522a" d="M2035 541C2040 538 2047 541 2052 543C2058 544 2065 548 2068 552C2070 556 2069 563 2068 567C2066 570 2061 571 2058 573C2056 575 2053 575 2051 581C2048 586 2046 596 2046 604C2046 612 2049 618 2049 627C2049 635 2049 651 2046 654C2043 658 2033 654 2031 650C2028 645 2032 635 2032 627C2032 619 2031 610 2029 604C2027 597 2023 596 2021 588C2020 581 2019 565 2021 558C2024 550 2030 543 2035 541Z"/>
<path fill="#e6522a" d="M2142 596C2145 593 2155 587 2160 585C2165 583 2168 582 2171 585C2173 588 2175 596 2175 604C2176 612 2176 627 2174 634C2171 642 2166 646 2160 650C2154 653 2144 656 2137 656C2130 656 2119 653 2117 650C2115 646 2120 640 2123 634C2127 629 2134 624 2137 619C2140 614 2141 608 2142 604C2142 600 2139 599 2142 596Z"/>
<path fill="#93c63d" d="M2372 488C2381 478 2405 472 2422 471C2440 470 2462 474 2476 479C2491 485 2503 492 2510 505C2517 517 2519 538 2518 555C2518 571 2514 594 2506 605C2497 615 2482 617 2468 617C2454 617 2436 612 2422 605C2408 597 2394 584 2385 571C2376 559 2370 543 2368 530C2366 516 2363 498 2372 488Z"/>
<path fill="#d6de3c" d="M2426 484C2435 475 2460 483 2472 488C2485 493 2495 502 2502 513C2508 524 2511 541 2510 555C2509 569 2505 587 2497 596C2490 605 2474 610 2464 609C2454 608 2442 600 2435 588C2428 576 2424 555 2422 538C2421 521 2418 492 2426 484Z"/>
<path fill="#f2a130" d="M2443 496C2448 488 2467 495 2476 500C2486 506 2495 519 2497 530C2500 540 2498 556 2493 563C2488 570 2476 573 2468 571C2460 569 2451 563 2447 550C2443 538 2438 505 2443 496Z"/>
<path fill="#3a58a9" d="M2009 275C2015 272 2029 270 2034 273C2039 276 2039 286 2038 292C2037 297 2024 303 2026 308C2027 313 2042 316 2046 321C2051 326 2053 333 2051 337C2048 342 2037 340 2034 346C2030 352 2027 368 2030 375C2032 382 2046 381 2051 388C2055 394 2058 407 2055 413C2051 418 2038 420 2030 421C2021 422 2012 422 2005 421C1997 420 1991 415 1984 413C1977 410 1969 408 1963 404C1956 401 1947 397 1944 392C1942 387 1945 380 1948 375C1951 370 1959 369 1963 363C1967 356 1968 342 1971 333C1975 324 1980 315 1984 308C1988 301 1992 297 1996 292C2000 286 2003 278 2009 275Z"/>
<path fill="#3a58a9" d="M1875 429C1880 409 1897 423 1902 429C1907 436 1905 453 1904 467C1903 481 1899 499 1896 513C1893 527 1892 544 1888 550C1884 557 1873 571 1871 550C1869 530 1870 450 1875 429Z"/>
<path fill="#3a58a9" d="M2092 241C2092 242 2092 243 2092 244C2091 245 2090 245 2089 246C2088 246 2087 247 2086 247C2085 248 2083 248 2082 248C2081 248 2079 248 2078 247C2077 247 2075 246 2074 246C2074 245 2073 245 2072 244C2072 243 2071 242 2071 241C2071 241 2072 240 2072 239C2073 238 2074 238 2074 237C2075 236 2077 236 2078 236C2079 235 2081 235 2082 235C2083 235 2085 235 2086 236C2087 236 2088 236 2089 237C2090 238 2091 238 2092 239C2092 240 2092 241 2092 241Z"/>
<path fill="#3a58a9" d="M2190 277C2190 278 2190 279 2190 279C2189 280 2188 281 2187 281C2186 282 2185 282 2184 283C2183 283 2181 283 2180 283C2179 283 2177 283 2176 283C2175 282 2174 282 2173 281C2172 281 2171 280 2170 279C2170 279 2170 278 2170 277C2170 276 2170 275 2170 275C2171 274 2172 273 2173 272C2174 272 2175 271 2176 271C2177 271 2179 271 2180 271C2181 271 2183 271 2184 271C2185 271 2186 272 2187 272C2188 273 2189 274 2190 275C2190 275 2190 276 2190 277Z"/>
<path fill="#3a58a9" d="M2155 392C2159 386 2179 387 2188 388C2197 388 2205 389 2209 396C2213 403 2214 421 2213 429C2213 438 2210 444 2205 446C2200 448 2191 445 2184 442C2177 438 2168 434 2163 425C2158 417 2151 398 2155 392Z"/>
<path fill="#3a58a9" d="M2188 459C2188 460 2188 461 2187 462C2187 463 2185 464 2184 465C2183 466 2181 467 2179 467C2178 468 2176 468 2174 468C2172 468 2170 468 2168 467C2166 467 2165 466 2163 465C2162 464 2161 463 2160 462C2160 461 2159 460 2159 459C2159 457 2160 456 2160 455C2161 454 2162 453 2163 452C2165 451 2166 451 2168 450C2170 450 2172 449 2174 449C2176 449 2178 450 2179 450C2181 451 2183 451 2184 452C2185 453 2187 454 2187 455C2188 456 2188 457 2188 459Z"/>
<path fill="#3a58a9" d="M2291 576C2291 577 2290 579 2290 581C2289 583 2288 585 2287 586C2286 587 2284 588 2283 589C2281 590 2280 590 2278 590C2277 590 2275 590 2273 589C2272 588 2270 587 2269 586C2268 585 2267 583 2267 581C2266 579 2266 577 2266 576C2266 574 2266 572 2267 570C2267 568 2268 566 2269 565C2270 564 2272 563 2273 562C2275 561 2277 561 2278 561C2280 561 2281 561 2283 562C2284 563 2286 564 2287 565C2288 566 2289 568 2290 570C2290 572 2291 574 2291 576Z"/>
<path fill="#3a58a9" d="M2393 730C2396 722 2415 724 2426 726C2438 727 2456 732 2464 738C2472 745 2478 755 2476 763C2475 772 2464 784 2456 788C2447 793 2435 795 2426 793C2418 790 2411 782 2406 772C2400 761 2389 738 2393 730Z"/>
<path fill="#3a58a9" d="M2485 797C2490 792 2512 790 2522 793C2533 795 2545 804 2547 814C2550 823 2546 841 2539 847C2532 852 2514 851 2506 847C2497 843 2493 830 2489 822C2486 814 2479 802 2485 797Z"/>
<path fill="#3a58a9" d="M2560 734C2567 729 2590 726 2598 730C2605 734 2609 751 2606 759C2603 768 2589 779 2581 780C2573 781 2559 771 2556 763C2552 756 2553 740 2560 734Z"/>
<path fill="#3a58a9" d="M2046 885C2053 880 2074 877 2088 880C2102 884 2124 897 2130 905C2135 914 2130 926 2122 930C2113 935 2092 934 2080 930C2068 927 2056 917 2051 910C2045 902 2040 889 2046 885Z"/>
<path fill="#3a58a9" d="M2426 227C2426 228 2426 228 2425 229C2425 230 2424 231 2423 231C2422 232 2420 232 2419 233C2417 233 2415 233 2414 233C2412 233 2411 233 2409 233C2408 232 2406 232 2405 231C2404 231 2403 230 2402 229C2402 228 2401 228 2401 227C2401 226 2402 225 2402 224C2403 224 2404 223 2405 222C2406 222 2408 221 2409 221C2411 221 2412 221 2414 221C2415 221 2417 221 2419 221C2420 221 2422 222 2423 222C2424 223 2425 224 2425 224C2426 225 2426 226 2426 227Z"/>
<path fill="#3a58a9" d="M2522 321C2524 317 2535 315 2539 317C2543 319 2549 330 2547 333C2546 337 2535 340 2531 337C2527 335 2521 324 2522 321Z"/>
<path fill="#3a58a9" d="M2115 859C2115 861 2115 863 2114 864C2114 866 2113 867 2112 868C2111 869 2110 870 2109 871C2108 872 2106 872 2105 872C2104 872 2102 872 2101 871C2100 870 2098 869 2097 868C2097 867 2096 866 2095 864C2095 863 2094 861 2094 859C2094 858 2095 856 2095 855C2096 853 2097 852 2097 851C2098 849 2100 848 2101 848C2102 847 2104 847 2105 847C2106 847 2108 847 2109 848C2110 848 2111 849 2112 851C2113 852 2114 853 2114 855C2115 856 2115 858 2115 859Z"/>
<path fill="#111111" d="M2437 795C2437 796 2436 797 2434 798C2433 798 2432 799 2431 799C2429 799 2427 799 2426 799C2424 799 2423 798 2421 797C2420 796 2419 795 2418 794C2417 793 2416 792 2415 790C2415 789 2414 787 2414 786C2415 785 2415 783 2416 782C2416 781 2417 780 2418 779C2419 779 2421 778 2422 778C2424 778 2425 778 2427 778C2428 778 2430 779 2431 780C2433 781 2434 782 2435 783C2436 784 2437 785 2438 787C2438 788 2438 790 2438 791C2438 792 2438 794 2437 795Z"/>
<path fill="#111111" d="M2102 592C2102 593 2102 593 2102 594C2102 594 2102 595 2101 595C2101 595 2100 595 2100 596C2100 596 2099 596 2099 596C2098 596 2098 596 2097 596C2097 595 2096 595 2096 595C2096 595 2095 594 2095 594C2095 593 2095 593 2095 592C2095 592 2095 591 2095 591C2095 590 2096 590 2096 590C2096 589 2097 589 2097 589C2098 589 2098 588 2099 588C2099 588 2100 589 2100 589C2100 589 2101 589 2101 590C2102 590 2102 590 2102 591C2102 591 2102 592 2102 592Z"/>
<path fill="#111111" d="M2413 559C2413 559 2413 560 2413 560C2413 561 2413 561 2412 561C2412 562 2412 562 2411 562C2411 562 2410 563 2410 563C2409 563 2409 562 2408 562C2408 562 2407 562 2407 561C2407 561 2406 561 2406 560C2406 560 2406 559 2406 559C2406 558 2406 558 2406 557C2406 557 2407 556 2407 556C2407 556 2408 556 2408 555C2409 555 2409 555 2410 555C2410 555 2411 555 2411 555C2412 556 2412 556 2412 556C2413 556 2413 557 2413 557C2413 558 2413 558 2413 559Z"/>
<path fill="none" stroke="#111" stroke-width="1.4" stroke-linejoin="round" d="M2102 592L2128 595L2151 599L2171 604L2186 609L2199 617L2210 626L2220 638L2228 652L2235 666L2241 686L2247 710L2253 739L2266 820L2284 956M2101 593L2122 601L2139 608L2155 618L2167 628L2178 639L2188 652L2196 666L2203 682L2208 700L2213 722L2217 747L2220 776L2225 851L2229 956M2101 594L2116 604L2130 615L2141 627L2151 639L2159 653L2166 667L2171 682L2176 700L2179 720L2181 741L2183 793L2181 861L2174 948M2101 594L2111 606L2120 619L2129 632L2135 647L2141 662L2144 677L2147 693L2149 711L2149 752L2145 802L2136 861L2122 935M2100 595L2107 608L2112 621L2117 634L2120 650L2123 679L2122 713L2117 752L2108 796L2094 849L2074 912M2099 595L2105 621L2106 649L2104 678L2098 709L2088 745L2074 785L2055 832L2031 886M2099 595L2098 620L2094 644L2087 671L2076 701L2062 732L2044 769L2021 808L1993 855M2098 595L2092 617L2084 640L2072 665L2057 690L2038 719L2017 749L1991 783L1959 822M2097 595L2087 615L2075 634L2060 654L2042 675L2021 699L1996 725L1933 785M2097 595L2084 610L2068 626L2028 661L1978 700L1911 748M2096 594L2063 617L2020 643L1964 674L1895 709M2096 593L2058 609L2011 626L1882 670M2096 593L1874 631M2096 592L2055 590L2007 589L1871 590M2096 591L2057 581L2008 570L1947 560L1870 550M2096 591L2069 576L2035 561L1995 545L1947 530M2096 590L2073 569L2043 548L2006 526L1962 503M2097 590L2079 564L2054 537L2022 509L1981 479M2098 589L2092 573L2085 558L2076 542L2066 527L2040 495L2006 459M2098 589L2097 572L2093 556L2088 539L2081 522L2072 503L2062 485L2050 466L2034 444M2099 589L2102 572L2102 554L2101 535L2098 517L2092 498L2085 478L2076 457L2065 435M2100 589L2107 571L2112 553L2115 535L2116 517L2114 499L2111 479L2106 457L2098 433M2100 590L2112 574L2122 556L2130 539L2135 522L2137 504L2138 483L2137 463L2133 438M2101 590L2120 575L2134 560L2147 544L2156 528L2163 511L2167 493L2169 473L2168 452M2101 591L2126 580L2146 569L2163 558L2175 547L2186 535L2193 524L2199 509L2203 494L2205 476L2206 455L2204 430L2201 398L2189 320L2167 203M2102 592L2240 567L2253 563L2255 562L2257 558L2256 539L2242 399L2223 194M2413 559L2425 555L2446 545L2542 489L2611 453M2413 560L2421 559L2432 557L2463 548L2563 510L2623 488M2412 560L2421 562L2434 562L2450 561L2471 559L2504 552L2629 525M2412 561L2422 565L2437 569L2455 570L2476 571L2515 570L2633 562M2411 561L2422 569L2437 575L2454 580L2476 585L2517 590L2631 599M2411 562L2419 571L2434 582L2452 591L2474 599L2498 607L2526 614L2627 636M2410 562L2412 568L2417 575L2430 588L2446 601L2468 614L2492 626L2526 640L2620 674M2409 562L2410 568L2413 576L2418 585L2424 594L2439 611L2459 627L2481 642L2516 663L2558 686L2607 711M2409 562L2408 570L2410 579L2412 588L2417 598L2422 608L2430 619L2448 640L2471 662L2505 689L2544 717L2591 749M2408 561L2405 569L2405 578L2405 590L2408 601L2411 612L2417 624L2423 636L2432 650L2454 676L2485 709L2524 745L2570 785M2407 561L2403 568L2399 579L2398 590L2398 604L2400 617L2403 630L2408 643L2415 658L2435 691L2462 727L2497 769L2544 820M2407 560L2400 568L2394 578L2389 590L2386 604L2385 617L2387 633L2390 649L2395 664L2402 681L2412 702L2436 743L2468 792L2513 853M2407 559L2396 567L2386 577L2379 588L2373 602L2369 616L2368 632L2369 648L2371 663L2376 683L2384 705L2393 728L2405 753L2435 811L2477 882M2407 559L2394 563L2379 573L2367 583L2358 596L2351 610L2346 626L2345 642L2346 660L2348 680L2353 702L2361 729L2371 757L2398 824L2437 909M2407 558L2392 559L2372 565L2354 574L2339 585L2329 598L2322 610L2318 625L2316 643L2316 664L2319 686L2324 713L2333 746L2356 825L2393 930M2407 557L2390 555L2365 555L2335 558L2311 564L2296 570L2287 576L2280 586L2277 597L2276 613L2278 635L2282 667L2289 705L2311 805L2346 945M2407 557L2391 550L2344 534L2331 529L2321 523L2310 515L2302 507L2295 495L2289 483L2284 465L2280 445L2276 420L2274 391L2270 311L2268 195M2408 556L2400 549L2364 524L2354 515L2345 506L2336 495L2328 481L2323 468L2318 453L2314 435L2311 413L2310 388L2309 360L2312 292L2318 201M2409 556L2404 549L2378 517L2364 494L2358 481L2353 466L2349 451L2346 435L2345 417L2344 396L2347 349L2354 288L2367 213M2409 556L2390 513L2382 489L2377 460L2375 428L2377 392L2384 347L2396 293L2413 231M2410 556L2402 512L2400 487L2399 457L2402 425L2409 392L2420 352L2435 307L2456 254M2411 556L2412 545L2414 509L2416 486L2421 457L2429 428L2439 398L2454 362L2472 323L2494 281M2411 556L2415 546L2425 511L2432 487L2443 459L2454 434L2467 408L2483 380L2502 349L2526 313M2412 557L2419 546L2451 486L2478 443L2512 397L2556 345M2412 557L2425 545L2470 490L2501 455L2537 419L2579 380M2413 558L2422 553L2435 543L2503 486L2528 466L2561 442L2598 416"/>
<path fill="none" stroke="#111" stroke-width="1.3" d="M2184 605L2189 611L2181 611M2259 753L2256 760L2252 754M2283 921L2281 928L2276 922M2175 631L2178 638L2170 636M2225 792L2222 800L2218 793M2162 651L2162 659L2156 654M2186 819L2182 826L2179 818M2145 665L2143 672L2138 666M2143 835L2139 841L2136 834M2127 674L2123 681L2120 674M2100 842L2094 848L2093 840M2108 678L2103 684L2101 677M2055 840L2049 845L2049 837M2088 678L2083 683L2082 675M2012 830L2006 834L2006 826M2071 674L2064 678L2065 670M2054 666L2047 669L2049 662M2040 655L2032 657L2035 650M2028 642L2020 643L2025 636M2020 627L2012 626L2017 620M2015 610L2007 608L2013 603M2013 593L2006 589L2013 586M2014 575L2008 570L2016 569M2020 559L2014 553L2022 552M2029 543L2024 537L2032 537M2041 530L2037 523L2045 525M2055 519L2053 512L2061 515M2073 512L2073 504L2079 509M2091 508L2093 500L2098 506M2112 509L2115 502L2119 509M2132 515L2137 509L2139 516M2152 528L2158 522L2159 530M2170 547L2178 544L2175 552M2196 389L2199 382L2203 388M2183 574L2190 576L2184 581M2246 467L2248 459L2253 466M2229 297L2232 290L2236 297M2485 518L2493 518L2488 525M2491 534L2499 535L2493 540M2494 551L2501 553L2495 558M2493 567L2501 570L2493 574M2490 583L2496 588L2489 590M2483 599L2488 604L2481 605M2473 612L2478 618L2470 618M2460 624L2464 631L2456 629M2445 632L2448 640L2440 637M2428 637L2429 645L2422 641M2545 759L2548 766L2541 764M2410 639L2410 647L2403 642M2508 776L2510 783L2503 780M2391 636L2389 644L2384 638M2468 785L2469 793L2462 789M2371 628L2368 636L2364 629M2426 786L2426 794L2420 789M2353 615L2348 621L2346 613M2383 777L2382 785L2376 780M2336 594L2329 597L2331 590M2339 755L2338 762L2332 757M2326 564L2318 562L2324 557M2292 700L2290 708L2285 702M2330 866L2328 874L2323 868M2328 531L2324 525L2332 525M2269 377L2273 370L2276 377M2341 507L2339 499L2346 502M2306 342L2310 335L2313 342M2358 490L2358 482L2364 487M2347 321L2351 314L2354 321M2377 479L2379 471L2384 478M2389 310L2394 303L2396 311M2396 474L2399 467L2403 474M2431 307L2437 302L2438 310M2415 473L2420 467L2422 474M2473 313L2480 308L2480 316M2433 476L2439 471L2439 479M2449 483L2456 478L2455 486M2463 492L2471 489L2469 497M2475 505L2483 503L2480 510"/>
<path fill="none" stroke="#111" stroke-width="1.4" stroke-linecap="round" d="M2080 244C2075 246 2056 252 2051 258C2045 264 2047 273 2048 279C2050 285 2050 290 2059 296C2068 301 2087 309 2101 312C2115 316 2125 315 2142 317C2160 318 2187 319 2205 321C2223 322 2237 323 2251 325C2265 327 2282 332 2289 333"/>
<path fill="none" stroke="#111" stroke-width="1.4" stroke-linecap="round" d="M2007 300C2008 303 2012 314 2017 321C2022 328 2028 335 2038 342C2048 349 2066 358 2080 363C2094 367 2104 368 2122 369C2139 370 2163 368 2184 369C2206 369 2234 370 2251 371C2268 372 2282 374 2289 375"/>
<path fill="none" stroke="#111" stroke-width="1.4" stroke-linecap="round" d="M1929 369C1941 368 1983 360 1996 363C2009 365 2005 379 2009 383C2012 388 2009 391 2017 392C2026 392 2052 388 2059 388"/>
<path fill="none" stroke="#111" stroke-width="1.4" stroke-linecap="round" d="M1906 429C1914 429 1941 429 1955 425C1968 421 1975 410 1986 404C1996 398 2005 393 2017 390C2029 386 2042 386 2059 383C2076 381 2101 379 2122 377C2142 375 2163 374 2184 373C2206 372 2240 369 2251 369"/>
<path fill="none" stroke="#111" stroke-width="1.4" stroke-linecap="round" d="M2163 212C2169 216 2180 226 2195 237C2209 248 2235 268 2251 279C2267 290 2282 300 2289 304"/>
<path fill="none" stroke="#111" stroke-width="1.4" stroke-linecap="round" d="M2257 206C2260 215 2262 239 2272 258C2281 277 2300 303 2314 321C2328 338 2343 345 2355 363C2368 380 2378 401 2387 425C2395 450 2403 490 2408 509C2412 527 2412 533 2413 538"/>
<path fill="none" stroke="#111" stroke-width="1.4" stroke-linecap="round" d="M2330 216C2331 227 2330 262 2335 279C2339 296 2347 303 2355 321C2364 338 2378 356 2387 383C2395 411 2401 462 2406 488C2410 514 2411 530 2413 538"/>
<path fill="none" stroke="#111" stroke-width="1.4" stroke-linecap="round" d="M2364 221C2363 234 2360 280 2362 300C2364 320 2370 324 2376 342C2383 359 2395 380 2401 404C2407 429 2410 466 2412 488C2414 510 2413 530 2413 538"/>
<path fill="none" stroke="#111" stroke-width="1.4" stroke-linecap="round" d="M2401 231C2403 242 2404 278 2410 300C2415 322 2429 342 2435 363C2440 383 2445 401 2443 425C2441 450 2427 490 2422 509C2417 527 2415 533 2414 538"/>
<path fill="none" stroke="#111" stroke-width="1.4" stroke-linecap="round" d="M2435 244C2436 253 2441 280 2445 300C2449 320 2459 342 2460 363C2461 383 2457 403 2451 425C2446 448 2435 479 2428 498C2422 517 2416 531 2414 538"/>
<path fill="none" stroke="#111" stroke-width="1.4" stroke-linecap="round" d="M2481 279C2482 286 2483 307 2487 321C2490 335 2501 345 2502 363C2502 380 2500 403 2491 425C2482 448 2462 479 2449 498C2436 517 2420 532 2414 539"/>
<path fill="none" stroke="#111" stroke-width="4.5" stroke-linecap="round" d="M1902 434C1913 436 1944 447 1967 446C1990 445 2015 436 2038 429C2061 422 2083 411 2105 404C2127 397 2156 391 2172 388C2187 384 2188 383 2197 386C2206 388 2219 397 2226 404C2233 412 2234 419 2238 429C2243 440 2247 450 2251 467C2255 484 2258 511 2261 530C2265 548 2269 562 2272 576C2275 589 2275 598 2278 613C2282 628 2287 646 2293 663C2299 681 2305 699 2314 717C2322 736 2331 756 2343 772C2355 788 2371 801 2385 814C2398 826 2412 836 2422 847C2432 858 2439 869 2443 880C2447 891 2447 908 2447 914"/>
</g>
<circle cx="2251" cy="575.5" r="379.5" fill="none" stroke="#1a1a1a" stroke-width="1.7"/>
<clipPath id="c3"><circle cx="880.5" cy="1614" r="293"/></clipPath>
<g clip-path="url(#c3)">
<circle cx="880" cy="1614" r="295" fill="#4fa5d8"/>
<path fill="#68c1b5" d="M636 1450C650 1430 665 1433 684 1430C703 1428 727 1429 748 1434C770 1438 797 1447 813 1456C829 1465 838 1476 845 1488C852 1501 855 1515 855 1530C855 1545 850 1562 845 1579C840 1595 831 1611 826 1627C820 1643 816 1659 813 1675C810 1691 812 1713 806 1723C801 1734 790 1736 781 1740C771 1743 758 1741 748 1743C739 1744 730 1744 723 1749C716 1754 711 1760 707 1772C702 1784 704 1817 697 1820C689 1823 674 1801 662 1788C649 1774 631 1764 620 1740C608 1715 597 1675 594 1643C591 1611 593 1579 600 1546C607 1514 622 1469 636 1450Z"/>
<path fill="#68c1b5" d="M1048 1395C1054 1392 1075 1407 1087 1418C1098 1428 1108 1440 1119 1456C1129 1472 1143 1494 1151 1514C1159 1535 1164 1552 1167 1579C1170 1605 1172 1646 1170 1675C1168 1705 1163 1734 1154 1756C1146 1777 1133 1792 1119 1804C1105 1816 1084 1824 1070 1830C1057 1835 1052 1838 1038 1836C1025 1835 1004 1828 990 1820C975 1812 962 1801 951 1788C941 1774 933 1758 929 1740C925 1721 928 1697 929 1675C930 1654 933 1630 935 1611C937 1592 933 1579 942 1562C951 1546 974 1528 990 1514C1006 1501 1028 1495 1038 1482C1048 1469 1050 1448 1051 1434C1053 1419 1042 1398 1048 1395Z"/>
<path fill="#67bc6f" d="M607 1508C613 1490 624 1495 629 1501C635 1508 638 1528 639 1546C640 1565 633 1589 633 1611C633 1632 636 1656 639 1675C642 1694 647 1710 652 1723C657 1737 674 1754 671 1759C669 1764 647 1767 636 1756C625 1744 614 1715 607 1691C599 1667 591 1641 591 1611C591 1580 600 1526 607 1508Z"/>
<path fill="#67bc6f" d="M803 1588C803 1601 802 1614 799 1625C796 1637 791 1648 785 1657C780 1665 773 1673 765 1677C758 1682 750 1685 742 1685C734 1685 726 1682 719 1677C711 1673 704 1665 699 1657C693 1648 689 1637 686 1625C683 1614 681 1601 681 1588C681 1576 683 1563 686 1551C689 1540 693 1529 699 1520C704 1511 711 1504 719 1499C726 1494 734 1492 742 1492C750 1492 758 1494 765 1499C773 1504 780 1511 785 1520C791 1529 796 1540 799 1551C802 1563 803 1576 803 1588Z"/>
<path fill="#4fa5d8" d="M673 1572C673 1574 673 1577 673 1579C672 1581 671 1583 670 1585C669 1586 668 1588 667 1589C665 1589 664 1590 662 1590C661 1590 659 1589 658 1589C657 1588 655 1586 654 1585C653 1583 652 1581 652 1579C651 1577 651 1574 651 1572C651 1570 651 1567 652 1565C652 1563 653 1561 654 1560C655 1558 657 1557 658 1556C659 1555 661 1554 662 1554C664 1554 665 1555 667 1556C668 1557 669 1558 670 1560C671 1561 672 1563 673 1565C673 1567 673 1570 673 1572Z"/>
<path fill="#67bc6f" d="M1103 1456C1113 1454 1125 1467 1135 1482C1145 1497 1155 1522 1161 1546C1167 1571 1170 1603 1170 1627C1170 1651 1169 1675 1161 1691C1152 1707 1134 1713 1119 1723C1104 1734 1087 1750 1070 1756C1054 1762 1037 1762 1022 1759C1007 1756 989 1751 980 1740C971 1728 969 1707 967 1691C966 1675 970 1659 974 1643C978 1627 982 1611 990 1595C998 1579 1009 1562 1022 1546C1036 1530 1057 1513 1070 1498C1084 1483 1092 1459 1103 1456Z"/>
<path fill="#5db43f" d="M768 1588C768 1597 767 1607 765 1615C763 1624 760 1632 756 1638C753 1645 749 1650 744 1654C739 1657 734 1659 729 1659C724 1659 719 1657 714 1654C710 1650 705 1645 702 1638C698 1632 695 1624 693 1615C692 1607 691 1597 691 1588C691 1579 692 1569 693 1561C695 1553 698 1545 702 1538C705 1532 710 1526 714 1523C719 1519 724 1517 729 1517C734 1517 739 1519 744 1523C749 1526 753 1532 756 1538C760 1545 763 1553 765 1561C767 1569 768 1579 768 1588Z"/>
<path fill="#5db43f" d="M1083 1637C1083 1647 1082 1658 1080 1667C1078 1677 1074 1686 1070 1693C1066 1701 1061 1707 1056 1711C1050 1715 1044 1717 1038 1717C1033 1717 1026 1715 1021 1711C1016 1707 1010 1701 1006 1693C1002 1686 999 1677 997 1667C994 1658 993 1647 993 1637C993 1626 994 1615 997 1606C999 1596 1002 1587 1006 1580C1010 1572 1016 1566 1021 1562C1026 1558 1033 1556 1038 1556C1044 1556 1050 1558 1056 1562C1061 1566 1066 1572 1070 1580C1074 1587 1078 1596 1080 1606C1082 1615 1083 1626 1083 1637Z"/>
<path fill="#5db43f" d="M1141 1540C1145 1534 1156 1536 1161 1543C1165 1551 1167 1571 1167 1585C1168 1599 1167 1621 1164 1627C1161 1633 1151 1628 1148 1620C1144 1612 1142 1592 1141 1579C1140 1565 1138 1546 1141 1540Z"/>
<path fill="#93c63d" d="M755 1572C755 1576 754 1581 753 1585C752 1589 750 1593 748 1596C746 1599 744 1602 741 1603C738 1605 735 1606 732 1606C730 1606 726 1605 724 1603C721 1602 718 1599 716 1596C714 1593 713 1589 712 1585C710 1581 710 1576 710 1572C710 1568 710 1563 712 1559C713 1555 714 1551 716 1548C718 1545 721 1543 724 1541C726 1539 730 1538 732 1538C735 1538 738 1539 741 1541C744 1543 746 1545 748 1548C750 1551 752 1555 753 1559C754 1563 755 1568 755 1572Z"/>
<path fill="#d6de3c" d="M752 1572C752 1576 752 1580 751 1584C750 1587 748 1591 747 1594C745 1597 742 1599 740 1600C738 1602 735 1603 732 1603C730 1603 727 1602 725 1600C722 1599 720 1597 718 1594C716 1591 715 1587 714 1584C713 1580 712 1576 712 1572C712 1568 713 1564 714 1560C715 1557 716 1553 718 1551C720 1548 722 1545 725 1544C727 1542 730 1542 732 1542C735 1542 738 1542 740 1544C742 1545 745 1548 747 1551C748 1553 750 1557 751 1560C752 1564 752 1568 752 1572Z"/>
<path fill="#f2a130" d="M751 1573C751 1576 750 1580 749 1583C749 1586 747 1590 746 1592C744 1595 742 1597 740 1598C738 1599 735 1600 733 1600C731 1600 728 1599 726 1598C724 1597 722 1595 721 1592C719 1590 718 1586 717 1583C716 1580 715 1576 715 1573C715 1569 716 1566 717 1562C718 1559 719 1556 721 1553C722 1551 724 1549 726 1548C728 1546 731 1545 733 1545C735 1545 738 1546 740 1548C742 1549 744 1551 746 1553C747 1556 749 1559 749 1562C750 1566 751 1569 751 1573Z"/>
<path fill="#db2a27" d="M748 1575C748 1578 748 1581 747 1584C747 1587 746 1589 744 1591C743 1593 741 1595 740 1596C738 1597 736 1598 734 1598C732 1598 730 1597 728 1596C727 1595 725 1593 724 1591C722 1589 721 1587 721 1584C720 1581 720 1578 720 1575C720 1572 720 1569 721 1567C721 1564 722 1561 724 1559C725 1557 727 1556 728 1555C730 1553 732 1553 734 1553C736 1553 738 1553 740 1555C741 1556 743 1557 744 1559C746 1561 747 1564 747 1567C748 1569 748 1572 748 1575Z"/>
<path fill="#d6de3c" d="M728 1638C728 1640 727 1642 727 1643C726 1645 725 1646 724 1647C723 1648 722 1649 721 1650C719 1651 718 1651 716 1651C715 1651 713 1651 712 1650C711 1649 709 1648 708 1647C707 1646 706 1645 706 1643C705 1642 705 1640 705 1638C705 1637 705 1635 706 1633C706 1632 707 1630 708 1629C709 1628 711 1627 712 1626C713 1626 715 1625 716 1625C718 1625 719 1626 721 1626C722 1627 723 1628 724 1629C725 1630 726 1632 727 1633C727 1635 728 1637 728 1638Z"/>
<path fill="#93c63d" d="M1052 1653C1052 1657 1051 1661 1050 1664C1049 1668 1047 1672 1045 1674C1043 1677 1040 1679 1037 1681C1035 1682 1032 1683 1029 1683C1026 1683 1022 1682 1020 1681C1017 1679 1014 1677 1012 1674C1010 1672 1008 1668 1007 1664C1006 1661 1005 1657 1005 1653C1005 1649 1006 1645 1007 1641C1008 1637 1010 1634 1012 1631C1014 1628 1017 1626 1020 1624C1022 1623 1026 1622 1029 1622C1032 1622 1035 1623 1037 1624C1040 1626 1043 1628 1045 1631C1047 1634 1049 1637 1050 1641C1051 1645 1052 1649 1052 1653Z"/>
<path fill="#d6de3c" d="M1049 1653C1049 1656 1049 1660 1048 1663C1047 1666 1045 1670 1043 1672C1041 1675 1039 1677 1036 1678C1034 1680 1031 1680 1029 1680C1026 1680 1023 1680 1021 1678C1018 1677 1016 1675 1014 1672C1012 1670 1011 1666 1010 1663C1009 1660 1008 1656 1008 1653C1008 1649 1009 1645 1010 1642C1011 1639 1012 1636 1014 1633C1016 1631 1018 1628 1021 1627C1023 1626 1026 1625 1029 1625C1031 1625 1034 1626 1036 1627C1039 1628 1041 1631 1043 1633C1045 1636 1047 1639 1048 1642C1049 1645 1049 1649 1049 1653Z"/>
<path fill="#f2a130" d="M1047 1653C1047 1656 1047 1660 1046 1663C1045 1666 1044 1669 1042 1671C1040 1673 1038 1675 1036 1676C1034 1678 1032 1678 1029 1678C1027 1678 1024 1678 1022 1676C1020 1675 1018 1673 1017 1671C1015 1669 1013 1666 1013 1663C1012 1660 1011 1656 1011 1653C1011 1650 1012 1647 1013 1644C1013 1641 1015 1638 1017 1636C1018 1633 1020 1631 1022 1630C1024 1629 1027 1628 1029 1628C1032 1628 1034 1629 1036 1630C1038 1631 1040 1633 1042 1636C1044 1638 1045 1641 1046 1644C1047 1647 1047 1650 1047 1653Z"/>
<path fill="#db2a27" d="M1045 1656C1045 1659 1045 1661 1044 1664C1043 1666 1042 1669 1041 1671C1039 1673 1038 1674 1036 1675C1034 1677 1032 1677 1030 1677C1028 1677 1026 1677 1025 1675C1023 1674 1021 1673 1020 1671C1018 1669 1017 1666 1017 1664C1016 1661 1015 1659 1015 1656C1015 1653 1016 1650 1017 1648C1017 1645 1018 1643 1020 1641C1021 1639 1023 1637 1025 1636C1026 1635 1028 1635 1030 1635C1032 1635 1034 1635 1036 1636C1038 1637 1039 1639 1041 1641C1042 1643 1043 1645 1044 1648C1045 1650 1045 1653 1045 1656Z"/>
<path fill="#93c63d" d="M1070 1585C1070 1587 1070 1588 1069 1590C1068 1591 1067 1593 1066 1594C1064 1595 1062 1596 1061 1597C1059 1598 1056 1598 1054 1598C1052 1598 1050 1598 1048 1597C1046 1596 1044 1595 1043 1594C1042 1593 1040 1591 1039 1590C1039 1588 1038 1587 1038 1585C1038 1583 1039 1582 1039 1580C1040 1579 1042 1577 1043 1576C1044 1575 1046 1574 1048 1573C1050 1572 1052 1572 1054 1572C1056 1572 1059 1572 1061 1573C1062 1574 1064 1575 1066 1576C1067 1577 1068 1579 1069 1580C1070 1582 1070 1583 1070 1585Z"/>
<path fill="#3a58a9" d="M774 1334C780 1327 796 1326 813 1324C830 1322 856 1320 877 1321C899 1322 928 1327 942 1331C955 1334 958 1334 958 1340C958 1347 945 1359 942 1369C938 1379 942 1393 938 1401C935 1410 927 1417 919 1421C912 1425 903 1428 893 1427C884 1426 870 1419 861 1414C852 1410 849 1406 839 1401C828 1397 806 1392 797 1385C787 1379 784 1371 781 1363C777 1354 769 1340 774 1334Z"/>
<path fill="#3a58a9" d="M787 1788C791 1780 798 1770 806 1765C815 1761 829 1760 839 1762C848 1764 859 1768 864 1775C870 1782 872 1795 872 1804C872 1813 871 1822 864 1827C858 1831 843 1833 832 1833C821 1833 808 1830 800 1827C792 1823 788 1817 786 1810C783 1804 784 1795 787 1788Z"/>
<path fill="#111111" d="M701 1606C700 1610 699 1613 698 1616C697 1619 696 1622 694 1624C693 1626 691 1628 690 1629C688 1630 687 1631 685 1630C684 1630 683 1629 682 1628C680 1626 680 1624 679 1621C678 1619 678 1616 678 1613C678 1609 679 1606 679 1602C680 1599 681 1596 682 1593C683 1590 684 1587 686 1585C687 1582 689 1581 690 1580C691 1579 693 1578 694 1578C696 1579 697 1580 698 1581C699 1583 700 1585 701 1587C701 1590 702 1593 702 1596C702 1599 701 1603 701 1606Z"/>
<path fill="#111111" d="M1077 1613C1076 1615 1075 1617 1074 1618C1073 1619 1071 1621 1069 1621C1068 1622 1066 1623 1064 1623C1062 1623 1060 1622 1059 1622C1057 1621 1055 1620 1054 1619C1052 1618 1051 1616 1051 1615C1050 1613 1049 1611 1049 1609C1049 1607 1049 1605 1050 1604C1051 1602 1052 1600 1053 1599C1054 1598 1056 1596 1057 1596C1059 1595 1061 1594 1063 1594C1065 1594 1067 1595 1068 1595C1070 1596 1072 1597 1073 1598C1074 1599 1075 1601 1076 1603C1077 1604 1077 1606 1078 1608C1078 1610 1077 1612 1077 1613Z"/>
<path fill="none" stroke="#111" stroke-width="1.4" stroke-linejoin="round" d="M1172 1626L1141 1600L1117 1584L1108 1579L1099 1575L1090 1572L1082 1571L1071 1571L1063 1573L1054 1579L1048 1585L1045 1590L1043 1595L1043 1603L1045 1608L1047 1611L1052 1616M1167 1665L1138 1624L1121 1604L1114 1596L1106 1589L1099 1584L1093 1580L1083 1577L1074 1576L1065 1578L1058 1581L1051 1587L1047 1595L1046 1600L1046 1604L1049 1610M1158 1704L1119 1618L1110 1602L1101 1592L1092 1586L1084 1582L1075 1581L1067 1581L1059 1585L1052 1591L1050 1595L1049 1599L1049 1606M1143 1741L1126 1682L1113 1625L1108 1612L1104 1603L1097 1594L1090 1589L1082 1585L1074 1584L1065 1585L1059 1588L1055 1591L1052 1594L1050 1601M1123 1776L1112 1703L1109 1676L1108 1632L1106 1620L1103 1610L1099 1602L1093 1596L1086 1590L1078 1587L1069 1586L1062 1588L1057 1592L1053 1598M1099 1807L1095 1735L1094 1709L1096 1682L1102 1637L1102 1627L1101 1618L1099 1610L1094 1602L1088 1595L1083 1591L1074 1589L1067 1589L1061 1591L1055 1596M1071 1835L1074 1747L1077 1716L1079 1700L1082 1686L1096 1641L1098 1632L1098 1624L1097 1615L1094 1607L1089 1600L1084 1595L1078 1592L1071 1590L1064 1591L1058 1595M1039 1859L1043 1826L1051 1754L1057 1721L1062 1704L1068 1690L1091 1644L1093 1636L1095 1627L1095 1618L1093 1612L1089 1604L1085 1598L1079 1594L1072 1592L1065 1592L1060 1594M1004 1878L1013 1839L1028 1756L1033 1737L1037 1722L1043 1707L1050 1695L1060 1680L1083 1649L1088 1640L1091 1630L1092 1621L1091 1614L1089 1608L1085 1602L1080 1597L1075 1595L1068 1593L1063 1594M967 1892L974 1871L981 1847L1004 1755L1009 1737L1016 1720L1024 1705L1034 1692L1046 1679L1068 1659L1077 1651L1083 1642L1087 1633L1089 1626L1089 1619L1088 1612L1085 1605L1081 1600L1077 1597L1072 1595L1066 1595M928 1902L938 1877L948 1849L971 1772L978 1750L986 1730L994 1715L1005 1699L1017 1686L1031 1676L1058 1659L1068 1652L1077 1644L1083 1635L1086 1629L1087 1622L1086 1615L1085 1610L1082 1604L1078 1600L1074 1597L1069 1596M888 1905L901 1880L913 1853L924 1821L948 1748L956 1728L964 1713L971 1702L978 1693L987 1685L996 1678L1005 1673L1015 1669L1047 1658L1058 1654L1067 1649L1075 1642L1079 1636L1082 1630L1084 1623L1085 1616L1083 1609L1081 1605L1076 1600L1071 1597M849 1904L866 1875L881 1843L894 1807L914 1745L921 1725L930 1704L939 1689L947 1680L955 1673L964 1667L975 1662L985 1659L997 1657L1033 1654L1045 1653L1057 1650L1066 1645L1073 1639L1077 1634L1081 1628L1082 1621L1082 1614L1081 1609L1077 1603L1073 1600M810 1897L824 1877L836 1855L847 1833L857 1809L865 1784L873 1757L894 1664L899 1649L902 1643L905 1639L911 1634L917 1632L926 1630L938 1630L950 1631L966 1634L1010 1644L1024 1647L1040 1648L1052 1647L1061 1644L1067 1641L1073 1635L1077 1629L1080 1623L1081 1616L1079 1609L1076 1603M772 1884L790 1861L806 1834L819 1807L830 1777L837 1746L840 1718L840 1706L840 1694L838 1681L835 1671L831 1660L824 1649L815 1638L805 1629L789 1616L768 1602L750 1591L734 1584L722 1581L712 1580L701 1581L693 1584L689 1587L685 1591L680 1598L679 1607L681 1614M736 1867L754 1846L769 1824L782 1801L792 1777L799 1751L803 1727L804 1704L801 1683L798 1671L793 1658L786 1646L778 1632L768 1620L757 1608L747 1599L735 1591L726 1586L718 1584L707 1583L699 1585L691 1589L684 1595L681 1603L681 1610M703 1845L720 1828L735 1808L749 1788L759 1767L766 1746L772 1723L774 1702L773 1681L772 1669L769 1655L764 1642L760 1631L754 1620L748 1611L742 1603L734 1596L726 1591L718 1588L710 1586L701 1587L693 1590L686 1596L683 1602L682 1609M673 1819L690 1804L705 1788L719 1770L730 1752L739 1733L746 1713L751 1693L753 1672L752 1651L751 1640L749 1630L745 1620L741 1612L736 1605L732 1600L725 1594L718 1591L710 1589L703 1590L696 1591L690 1595L685 1600L683 1605M647 1789L664 1776L679 1764L694 1749L706 1734L718 1716L727 1699L734 1681L739 1664L741 1647L741 1638L740 1629L738 1621L736 1614L732 1608L729 1604L724 1599L718 1595L712 1593L706 1592L699 1593L694 1595L689 1599L686 1603M625 1755L641 1747L658 1737L673 1726L687 1714L700 1701L711 1687L720 1674L727 1660L732 1645L734 1631L733 1624L732 1619L727 1609L723 1604L719 1600L713 1597L708 1596L702 1595L697 1596L692 1599L688 1602M609 1719L626 1714L642 1709L658 1702L674 1694L687 1685L699 1677L709 1667L717 1658L724 1646L727 1636L727 1625L725 1615L722 1610L719 1606L715 1603L710 1600L702 1598L696 1599L693 1601M597 1681L613 1681L630 1680L646 1678L661 1676L675 1672L687 1668L696 1663L705 1657L712 1650L717 1643L721 1633L721 1624L720 1619L718 1614L713 1607L709 1604L706 1602L699 1601M590 1642L622 1652L650 1658L662 1659L672 1659L681 1658L690 1656L699 1651L706 1646L711 1639L715 1631L715 1622L714 1615L711 1611L709 1608L703 1605M589 1602L617 1623L640 1637L649 1642L659 1646L667 1649L674 1650L683 1649L691 1647L699 1643L706 1637L710 1630L711 1623L710 1616L706 1610M594 1563L620 1598L636 1618L650 1632L662 1639L670 1642L679 1644L688 1643L694 1640L701 1635L706 1630L708 1623L707 1616M603 1524L638 1603L647 1618L656 1629L663 1634L671 1638L680 1639L687 1639L695 1636L701 1632L704 1626L706 1619M618 1487L631 1540L643 1593L648 1606L653 1617L658 1624L665 1630L673 1634L679 1636L688 1636L695 1633L700 1629L704 1623M638 1452L646 1528L649 1589L651 1599L653 1608L657 1616L662 1623L668 1629L675 1632L683 1634L690 1633L697 1630L701 1625M662 1421L662 1512L660 1539L655 1582L654 1593L655 1601L657 1610L662 1618L667 1624L673 1628L679 1631L686 1632L693 1630L699 1626M690 1393L682 1479L679 1507L673 1534L660 1578L658 1588L658 1595L659 1604L661 1611L665 1619L670 1624L676 1628L683 1630L690 1630L696 1627M722 1369L715 1402L703 1473L696 1502L691 1517L686 1532L665 1577L663 1585L661 1592L661 1601L663 1608L665 1614L669 1620L674 1625L681 1628L688 1629L693 1628M757 1350L745 1389L725 1467L714 1498L708 1513L701 1527L693 1541L672 1571L668 1579L665 1587L664 1596L664 1603L666 1610L669 1616L674 1622L679 1626L686 1627L691 1627M794 1336L785 1357L777 1380L747 1466L740 1484L733 1498L725 1514L716 1527L705 1541L679 1569L673 1578L669 1586L667 1592L667 1599L667 1606L669 1613L673 1619L677 1623L683 1626L689 1626M833 1326L821 1348L810 1374L771 1468L762 1485L754 1501L743 1517L731 1530L717 1543L684 1569L677 1577L673 1585L670 1591L669 1598L669 1605L670 1610L673 1617L677 1621L681 1624L686 1625M873 1323L858 1346L842 1374L830 1399L806 1452L795 1474L784 1492L774 1507L761 1523L746 1536L730 1547L692 1568L684 1575L677 1583L674 1589L672 1594L671 1601L671 1606L673 1613L676 1617L680 1621L684 1624M912 1324L895 1348L879 1374L863 1403L827 1473L816 1491L805 1507L796 1518L787 1527L776 1536L766 1542L755 1548L744 1553L701 1568L691 1573L684 1578L680 1584L676 1590L674 1596L673 1601L673 1608L675 1613L678 1618L682 1621M951 1331L930 1357L910 1386L891 1418L852 1492L840 1511L827 1526L817 1536L806 1544L795 1551L782 1556L771 1560L759 1563L710 1569L700 1572L692 1576L686 1580L681 1586L678 1592L675 1598L675 1605L676 1610L678 1615L681 1619M989 1344L976 1357L962 1373L949 1390L937 1407L926 1425L915 1446L886 1508L877 1525L866 1542L854 1555L844 1563L832 1569L818 1574L805 1576L791 1577L777 1577L733 1574L721 1573L708 1574L700 1576L693 1579L688 1583L683 1588L679 1594L677 1601L676 1606L678 1613L681 1617M1025 1361L1013 1371L1002 1382L981 1406L964 1433L956 1446L948 1462L940 1478L934 1494L929 1511L925 1527L923 1540L921 1554L921 1567L923 1577L926 1587L931 1596L938 1604L950 1612L968 1622L995 1634L1015 1642L1031 1645L1043 1646L1053 1645L1063 1641L1070 1636L1074 1632L1077 1628L1080 1620L1079 1611L1077 1606L1075 1603M1058 1383L1036 1401L1018 1419L1001 1440L987 1462L977 1484L969 1508L964 1530L964 1541L964 1551L966 1563L969 1575L973 1587L981 1599L989 1610L1000 1621L1011 1630L1022 1636L1034 1640L1044 1642L1054 1641L1064 1637L1068 1634L1072 1630L1077 1623L1078 1614L1077 1609L1075 1606M1088 1409L1068 1423L1050 1438L1035 1454L1021 1473L1009 1492L1000 1511L994 1532L992 1551L992 1563L993 1575L996 1587L999 1597L1004 1607L1010 1615L1016 1623L1025 1630L1034 1635L1042 1637L1051 1638L1060 1636L1067 1631L1073 1625L1075 1620L1076 1617L1076 1610M1114 1439L1095 1449L1078 1461L1062 1475L1047 1490L1035 1505L1025 1521L1016 1539L1011 1555L1009 1566L1008 1576L1009 1587L1010 1595L1013 1604L1016 1612L1021 1619L1026 1624L1033 1629L1041 1633L1050 1634L1057 1633L1064 1630L1069 1626L1073 1620L1075 1613M1136 1473L1117 1480L1100 1488L1083 1497L1068 1509L1054 1520L1042 1533L1033 1546L1025 1560L1022 1568L1020 1576L1019 1585L1019 1592L1019 1599L1021 1606L1024 1612L1028 1618L1033 1623L1039 1627L1045 1629L1052 1630L1059 1629L1064 1626L1069 1622L1072 1617M1152 1509L1135 1512L1118 1516L1101 1521L1085 1527L1071 1534L1057 1543L1047 1552L1038 1561L1031 1573L1028 1579L1026 1586L1026 1593L1026 1599L1028 1605L1030 1610L1034 1616L1037 1620L1043 1624L1048 1625L1053 1626L1059 1625L1063 1624L1068 1620M1164 1547L1147 1545L1129 1544L1113 1545L1098 1546L1084 1549L1072 1552L1061 1557L1052 1562L1042 1570L1038 1576L1036 1581L1033 1591L1033 1601L1034 1606L1037 1611L1040 1615L1044 1619L1048 1621L1053 1623L1059 1622L1062 1621M1171 1586L1138 1573L1123 1568L1109 1565L1097 1563L1085 1562L1074 1563L1066 1565L1056 1569L1048 1576L1042 1584L1039 1592L1038 1597L1039 1603L1042 1611L1045 1615L1048 1617L1053 1619L1056 1620"/>
<path fill="none" stroke="#111" stroke-width="1.3" d="M1104 1580L1098 1575L1106 1574M1115 1602L1112 1594L1120 1597M1120 1630L1121 1622L1127 1627M1118 1662L1120 1654L1125 1660M1107 1694L1110 1687L1114 1693M1091 1724L1095 1717L1098 1724M1070 1752L1074 1745L1077 1753M1079 1595L1072 1591L1080 1589M1045 1776L1050 1770L1052 1777M1091 1616L1091 1608L1098 1613M1017 1796L1022 1790L1024 1798M1084 1643L1089 1637L1090 1645M986 1812L991 1806L993 1814M1060 1661L1068 1659L1065 1667M952 1823L958 1817L959 1825M1029 1673L1037 1672L1033 1679M918 1828L924 1823L925 1831M993 1676L1001 1676L996 1682M882 1829L888 1823L889 1831M950 1672L958 1671L954 1678M847 1824L853 1818L853 1826M891 1660L897 1654L898 1662M1046 1645L1053 1647L1048 1652M812 1813L818 1808L819 1816M823 1653L821 1645L828 1649M685 1593L680 1600L678 1592M779 1798L785 1793L786 1801M778 1639L777 1631L784 1635M749 1778L756 1773L756 1781M749 1619L748 1611L755 1615M724 1755L731 1750L731 1758M728 1600L723 1594L731 1594M704 1730L711 1726L710 1734M702 1593L694 1595L698 1588M690 1706L698 1703L695 1711M683 1685L690 1683L687 1690M677 1668L685 1668L680 1674M671 1655L678 1658L671 1662M660 1643L666 1648L658 1650M646 1625L651 1632L643 1631M640 1598L640 1606L633 1602M641 1567L639 1574L634 1568M650 1535L647 1542L643 1535M665 1504L662 1511L658 1504M686 1476L682 1483L679 1475M683 1629L691 1629L686 1635M710 1451L705 1458L703 1450M667 1610L668 1618L661 1614M738 1430L733 1436L731 1429M669 1584L665 1591L662 1583M769 1414L763 1420L762 1412M689 1564L681 1567L684 1559M801 1403L795 1408L795 1400M715 1549L708 1551L711 1543M835 1396L829 1401L829 1393M746 1541L738 1542L742 1535M871 1395L864 1400L864 1392M778 1538L770 1539L774 1533M906 1400L899 1404L900 1396M814 1543L806 1544L810 1537M679 1611L681 1619L673 1616M940 1409L933 1414L934 1406M856 1558L849 1560L852 1553M693 1582L686 1585L688 1578M973 1425L966 1428L967 1421M926 1581L927 1589L920 1584M1068 1635L1075 1631L1074 1639M1003 1444L997 1448L997 1440M984 1598L986 1606L979 1602M1030 1467L1023 1470L1024 1462M1016 1618L1019 1626L1011 1624M1051 1491L1043 1494L1045 1486M1043 1631L1050 1634L1043 1638M1066 1515L1058 1517L1061 1510M1075 1536L1067 1537L1072 1530M1083 1553L1075 1551L1081 1546M1092 1565L1085 1562L1091 1558"/>
<path fill="none" stroke="#111" stroke-width="4" stroke-linecap="round" d="M1019 1356C1011 1360 987 1369 974 1376C961 1383 951 1389 942 1398C933 1408 926 1421 919 1434C913 1447 907 1461 903 1476C899 1490 896 1506 893 1521C891 1535 889 1547 887 1562C885 1578 883 1592 880 1611C878 1630 875 1656 871 1675C867 1694 863 1712 858 1727C853 1742 849 1754 839 1765C828 1777 812 1788 797 1798C782 1807 766 1814 748 1820C731 1827 703 1833 694 1836"/>
</g>
<circle cx="880.5" cy="1614" r="292.5" fill="none" stroke="#1a1a1a" stroke-width="1.7"/>
<clipPath id="c4"><circle cx="1521.5" cy="1570.5" r="337"/></clipPath>
<g clip-path="url(#c4)">
<circle cx="1522" cy="1570" r="339" fill="#4fa5d8"/>
<path fill="#68c1b5" d="M1191 1417C1199 1390 1217 1406 1229 1408C1241 1409 1254 1412 1261 1426C1268 1440 1270 1469 1270 1493C1270 1516 1266 1548 1261 1567C1256 1585 1247 1591 1240 1604C1233 1616 1228 1632 1222 1641C1215 1650 1205 1672 1199 1659C1193 1647 1186 1607 1184 1567C1183 1526 1184 1443 1191 1417Z"/>
<path fill="#68c1b5" d="M1474 1460C1481 1453 1501 1455 1518 1456C1534 1456 1560 1457 1573 1463C1587 1469 1594 1482 1598 1493C1602 1503 1605 1521 1598 1527C1591 1533 1569 1530 1555 1530C1540 1530 1523 1531 1510 1526C1498 1521 1487 1511 1481 1500C1475 1489 1468 1468 1474 1460Z"/>
<path fill="#68c1b5" d="M1734 1317C1742 1314 1764 1333 1777 1345C1790 1357 1803 1371 1814 1389C1825 1408 1837 1432 1844 1456C1850 1479 1854 1505 1855 1530C1856 1554 1852 1580 1851 1604C1850 1627 1853 1659 1847 1670C1842 1682 1823 1685 1818 1670C1812 1656 1818 1615 1814 1585C1810 1556 1804 1521 1796 1493C1787 1465 1772 1440 1762 1419C1752 1397 1739 1380 1734 1363C1730 1346 1727 1320 1734 1317Z"/>
<path fill="#68c1b5" d="M1471 1597C1479 1589 1507 1590 1518 1595C1529 1599 1535 1612 1538 1622C1540 1633 1539 1652 1533 1659C1526 1666 1509 1667 1499 1664C1489 1661 1478 1652 1473 1641C1469 1630 1464 1605 1471 1597Z"/>
<path fill="#68c1b5" d="M1296 1485C1305 1475 1324 1472 1340 1471C1356 1469 1377 1469 1392 1474C1407 1479 1421 1488 1429 1500C1437 1512 1439 1531 1440 1548C1441 1566 1439 1587 1436 1604C1433 1620 1429 1638 1422 1648C1414 1658 1405 1661 1392 1663C1378 1665 1355 1664 1340 1659C1325 1654 1312 1646 1303 1633C1294 1621 1288 1603 1284 1585C1281 1568 1283 1546 1284 1530C1286 1513 1286 1495 1296 1485Z"/>
<path fill="#68c1b5" d="M1603 1526C1611 1513 1630 1511 1647 1508C1665 1504 1694 1500 1710 1504C1727 1508 1739 1516 1747 1530C1756 1543 1761 1566 1762 1585C1763 1605 1760 1632 1755 1648C1750 1665 1744 1678 1733 1685C1721 1693 1700 1694 1684 1693C1668 1691 1649 1687 1636 1678C1624 1669 1617 1656 1610 1641C1604 1625 1601 1604 1599 1585C1598 1566 1595 1539 1603 1526Z"/>
<path fill="#68c1b5" d="M1204 1687C1209 1680 1228 1685 1240 1693C1252 1700 1268 1717 1277 1733C1286 1749 1294 1776 1294 1789C1294 1802 1286 1812 1277 1811C1268 1810 1251 1795 1240 1782C1230 1769 1220 1749 1214 1733C1208 1718 1200 1694 1204 1687Z"/>
<path fill="#68c1b5" d="M1444 1887C1451 1883 1482 1885 1499 1885C1517 1886 1548 1887 1551 1891C1554 1895 1533 1908 1518 1911C1503 1915 1474 1915 1462 1911C1450 1907 1438 1891 1444 1887Z"/>
<path fill="#67bc6f" d="M1784 1383C1787 1374 1811 1404 1821 1419C1832 1434 1842 1453 1847 1474C1853 1496 1855 1530 1855 1548C1855 1567 1852 1585 1847 1585C1843 1585 1836 1567 1829 1548C1822 1530 1814 1502 1807 1474C1799 1447 1782 1393 1784 1383Z"/>
<path fill="#67bc6f" d="M1214 1708C1217 1703 1231 1708 1240 1715C1249 1722 1260 1740 1266 1752C1272 1764 1276 1785 1273 1789C1270 1793 1255 1785 1247 1778C1239 1770 1231 1756 1225 1745C1220 1733 1212 1712 1214 1708Z"/>
<path fill="#67bc6f" d="M1429 1571C1426 1580 1421 1589 1416 1596C1410 1603 1403 1610 1396 1615C1389 1619 1381 1622 1374 1624C1366 1625 1358 1624 1352 1622C1345 1619 1339 1615 1334 1609C1329 1603 1325 1596 1322 1588C1320 1580 1319 1570 1319 1561C1320 1552 1322 1542 1325 1533C1328 1524 1333 1515 1339 1508C1344 1501 1351 1494 1358 1489C1365 1485 1373 1482 1380 1480C1388 1479 1396 1480 1402 1482C1409 1485 1416 1489 1420 1495C1425 1501 1429 1508 1432 1516C1434 1524 1435 1534 1435 1543C1435 1552 1433 1562 1429 1571Z"/>
<path fill="#67bc6f" d="M1731 1604C1728 1615 1723 1626 1718 1635C1712 1644 1705 1652 1698 1658C1691 1664 1683 1669 1675 1671C1667 1673 1659 1673 1651 1671C1644 1669 1637 1665 1631 1659C1625 1653 1620 1645 1617 1636C1614 1628 1612 1617 1612 1606C1612 1596 1613 1584 1616 1574C1619 1563 1624 1552 1629 1543C1634 1534 1641 1526 1648 1520C1656 1514 1664 1509 1672 1507C1680 1505 1688 1505 1695 1507C1703 1509 1710 1513 1716 1519C1721 1525 1726 1533 1729 1542C1733 1550 1734 1561 1735 1572C1735 1582 1733 1594 1731 1604Z"/>
<path fill="#5db43f" d="M1411 1575C1409 1582 1405 1590 1400 1596C1395 1602 1390 1608 1384 1612C1378 1616 1372 1619 1366 1620C1360 1621 1353 1620 1348 1619C1343 1617 1338 1613 1334 1608C1330 1604 1327 1597 1325 1590C1323 1584 1322 1576 1323 1568C1323 1560 1325 1552 1328 1544C1331 1537 1335 1529 1339 1523C1344 1516 1350 1511 1355 1507C1361 1503 1368 1500 1374 1499C1380 1498 1386 1498 1391 1500C1397 1502 1402 1506 1406 1511C1409 1515 1413 1522 1414 1528C1416 1535 1417 1543 1416 1551C1416 1559 1414 1567 1411 1575Z"/>
<path fill="#5db43f" d="M1716 1608C1714 1617 1710 1626 1706 1633C1702 1641 1696 1648 1691 1653C1685 1658 1679 1662 1673 1664C1667 1666 1661 1666 1655 1664C1650 1663 1644 1659 1640 1655C1636 1650 1632 1644 1630 1636C1628 1629 1627 1620 1627 1612C1627 1603 1628 1594 1630 1585C1633 1576 1636 1567 1641 1560C1645 1552 1650 1545 1656 1540C1661 1535 1668 1531 1674 1529C1680 1527 1686 1527 1692 1528C1697 1530 1702 1533 1707 1538C1711 1543 1714 1549 1717 1556C1719 1564 1720 1572 1720 1581C1720 1590 1719 1599 1716 1608Z"/>
<path fill="#93c63d" d="M1403 1582C1403 1587 1402 1592 1400 1597C1398 1602 1395 1607 1391 1610C1387 1614 1383 1617 1378 1619C1373 1621 1367 1622 1362 1622C1357 1622 1351 1621 1347 1619C1342 1617 1337 1614 1333 1610C1330 1607 1327 1602 1325 1597C1323 1592 1322 1587 1322 1582C1322 1576 1323 1571 1325 1566C1327 1561 1330 1556 1333 1553C1337 1549 1342 1546 1347 1544C1351 1542 1357 1541 1362 1541C1367 1541 1373 1542 1378 1544C1383 1546 1387 1549 1391 1553C1395 1556 1398 1561 1400 1566C1402 1571 1403 1576 1403 1582Z"/>
<path fill="#5db43f" d="M1399 1589C1399 1594 1398 1599 1396 1603C1395 1608 1392 1612 1388 1615C1385 1619 1381 1621 1376 1623C1372 1625 1367 1626 1362 1626C1358 1626 1352 1625 1348 1623C1344 1621 1339 1619 1336 1615C1333 1612 1330 1608 1328 1603C1326 1599 1325 1594 1325 1589C1325 1584 1326 1579 1328 1575C1330 1570 1333 1566 1336 1563C1339 1559 1344 1557 1348 1555C1352 1553 1358 1552 1362 1552C1367 1552 1372 1553 1376 1555C1381 1557 1385 1559 1388 1563C1392 1566 1395 1570 1396 1575C1398 1579 1399 1584 1399 1589Z"/>
<path fill="#93c63d" d="M1405 1536C1403 1540 1401 1545 1398 1548C1395 1551 1392 1555 1388 1557C1385 1559 1380 1560 1377 1560C1373 1561 1369 1560 1365 1559C1361 1558 1358 1556 1355 1553C1353 1550 1350 1546 1349 1542C1347 1538 1347 1534 1347 1529C1347 1525 1348 1520 1349 1516C1351 1512 1353 1507 1356 1504C1359 1501 1362 1498 1366 1496C1369 1493 1374 1492 1378 1492C1381 1491 1386 1492 1389 1493C1393 1494 1396 1497 1399 1499C1402 1502 1404 1506 1405 1510C1407 1514 1407 1518 1407 1523C1407 1527 1406 1532 1405 1536Z"/>
<path fill="#d6de3c" d="M1402 1535C1401 1539 1398 1543 1396 1546C1393 1549 1390 1552 1387 1554C1384 1556 1380 1557 1376 1558C1373 1558 1369 1558 1366 1557C1363 1556 1360 1553 1357 1551C1355 1548 1353 1545 1351 1541C1350 1538 1350 1533 1350 1529C1350 1525 1351 1521 1352 1517C1353 1513 1356 1509 1358 1506C1361 1503 1364 1500 1367 1498C1371 1496 1374 1495 1378 1494C1381 1494 1385 1494 1388 1495C1391 1497 1395 1499 1397 1501C1399 1504 1401 1507 1403 1511C1404 1514 1405 1519 1404 1523C1404 1527 1404 1531 1402 1535Z"/>
<path fill="#f2a130" d="M1400 1534C1399 1538 1397 1542 1394 1545C1392 1548 1389 1550 1386 1552C1383 1554 1379 1555 1376 1556C1373 1556 1370 1556 1367 1555C1364 1554 1361 1552 1359 1549C1356 1547 1355 1544 1353 1540C1352 1537 1352 1533 1352 1529C1352 1525 1353 1521 1354 1518C1355 1514 1357 1510 1360 1507C1362 1504 1365 1502 1368 1500C1371 1498 1375 1497 1378 1496C1381 1496 1385 1496 1387 1498C1390 1499 1393 1501 1395 1503C1398 1505 1400 1508 1401 1512C1402 1515 1402 1519 1402 1523C1402 1527 1401 1531 1400 1534Z"/>
<path fill="#db2a27" d="M1398 1533C1397 1536 1395 1539 1393 1542C1391 1545 1388 1547 1385 1549C1383 1550 1380 1552 1377 1552C1374 1552 1371 1552 1368 1551C1366 1550 1363 1548 1361 1546C1360 1544 1358 1541 1357 1538C1356 1535 1355 1532 1356 1528C1356 1525 1356 1521 1358 1518C1359 1515 1361 1511 1363 1509C1365 1506 1368 1504 1370 1502C1373 1500 1376 1499 1379 1499C1382 1498 1385 1499 1387 1500C1390 1501 1392 1502 1394 1504C1396 1506 1398 1509 1399 1512C1400 1515 1400 1519 1400 1522C1400 1526 1399 1529 1398 1533Z"/>
<path fill="#93c63d" d="M1702 1623C1701 1628 1698 1633 1696 1637C1693 1641 1690 1645 1686 1648C1683 1651 1678 1653 1675 1654C1671 1655 1666 1655 1663 1654C1659 1653 1656 1651 1653 1648C1650 1646 1647 1642 1646 1637C1644 1633 1643 1628 1643 1623C1643 1618 1643 1612 1645 1607C1646 1602 1648 1597 1651 1593C1654 1589 1657 1585 1661 1582C1664 1579 1668 1577 1672 1576C1676 1575 1680 1575 1684 1576C1688 1577 1691 1579 1694 1582C1697 1584 1699 1588 1701 1593C1703 1597 1704 1602 1704 1607C1704 1612 1703 1618 1702 1623Z"/>
<path fill="#d6de3c" d="M1699 1622C1698 1626 1696 1631 1693 1635C1691 1639 1688 1643 1685 1646C1681 1648 1678 1650 1674 1651C1671 1652 1667 1652 1664 1651C1660 1651 1657 1649 1654 1646C1652 1643 1650 1640 1648 1636C1647 1632 1646 1627 1646 1623C1646 1618 1646 1613 1648 1608C1649 1603 1651 1599 1653 1595C1656 1591 1659 1587 1662 1584C1665 1582 1669 1580 1673 1579C1676 1578 1680 1578 1683 1578C1686 1579 1690 1581 1692 1584C1695 1586 1697 1590 1698 1594C1700 1598 1701 1603 1701 1607C1701 1612 1700 1617 1699 1622Z"/>
<path fill="#f2a130" d="M1697 1621C1696 1626 1694 1630 1692 1634C1689 1638 1686 1641 1684 1644C1681 1646 1677 1648 1674 1649C1671 1650 1667 1650 1664 1649C1661 1648 1658 1647 1656 1644C1653 1642 1651 1638 1650 1635C1649 1631 1648 1627 1648 1622C1648 1618 1649 1613 1650 1609C1651 1604 1653 1600 1655 1596C1657 1592 1660 1589 1663 1586C1666 1584 1670 1582 1673 1581C1676 1580 1680 1580 1683 1581C1686 1581 1689 1583 1691 1586C1693 1588 1695 1591 1697 1595C1698 1599 1699 1603 1699 1608C1699 1612 1698 1617 1697 1621Z"/>
<path fill="#db2a27" d="M1695 1624C1694 1628 1692 1632 1690 1635C1688 1638 1686 1641 1683 1643C1681 1645 1678 1647 1675 1648C1672 1649 1669 1649 1666 1648C1664 1647 1661 1646 1659 1644C1657 1642 1655 1639 1654 1635C1653 1632 1652 1628 1652 1625C1652 1621 1652 1617 1653 1613C1654 1609 1656 1605 1658 1602C1660 1599 1662 1596 1665 1594C1668 1592 1671 1590 1673 1589C1676 1589 1679 1589 1682 1589C1685 1590 1687 1592 1689 1594C1691 1596 1693 1599 1694 1602C1695 1605 1696 1609 1696 1613C1696 1616 1696 1620 1695 1624Z"/>
<path fill="#f2a130" d="M1376 1587C1376 1589 1375 1590 1375 1591C1374 1593 1373 1594 1372 1595C1371 1596 1370 1597 1369 1597C1367 1598 1366 1598 1364 1598C1363 1598 1362 1598 1360 1597C1359 1597 1358 1596 1357 1595C1356 1594 1355 1593 1354 1591C1354 1590 1353 1589 1353 1587C1353 1586 1354 1584 1354 1583C1355 1582 1356 1580 1357 1579C1358 1578 1359 1577 1360 1577C1362 1576 1363 1576 1364 1576C1366 1576 1367 1576 1369 1577C1370 1577 1371 1578 1372 1579C1373 1580 1374 1582 1375 1583C1375 1584 1376 1586 1376 1587Z"/>
<path fill="#3a58a9" d="M1258 1373C1260 1363 1262 1353 1271 1347C1280 1340 1301 1340 1311 1333C1321 1327 1320 1321 1331 1310C1342 1300 1358 1281 1378 1270C1398 1260 1425 1251 1451 1247C1477 1242 1507 1242 1534 1243C1562 1245 1600 1248 1618 1253C1636 1259 1636 1267 1641 1277C1646 1287 1649 1304 1648 1313C1647 1323 1634 1328 1634 1333C1635 1339 1640 1340 1651 1347C1662 1353 1689 1365 1701 1373C1713 1382 1717 1385 1721 1400C1726 1416 1726 1452 1728 1467C1730 1482 1738 1485 1734 1490C1731 1495 1718 1496 1704 1497C1691 1498 1667 1497 1651 1497C1636 1497 1620 1492 1611 1497C1602 1501 1601 1525 1598 1523C1595 1522 1597 1501 1594 1487C1592 1473 1592 1452 1584 1440C1577 1428 1565 1420 1551 1413C1537 1407 1518 1404 1501 1400C1484 1397 1468 1393 1451 1393C1434 1392 1413 1394 1401 1396C1389 1399 1386 1401 1381 1408C1376 1414 1373 1422 1370 1433C1366 1445 1364 1463 1358 1474C1352 1485 1343 1494 1333 1498C1322 1503 1304 1502 1294 1500C1285 1498 1283 1495 1278 1487C1273 1478 1268 1463 1264 1450C1261 1437 1259 1420 1258 1407C1257 1394 1256 1383 1258 1373Z"/>
<path fill="#3a58a9" d="M1418 1463C1422 1452 1437 1456 1444 1461C1451 1466 1458 1480 1461 1493C1464 1505 1463 1525 1461 1537C1459 1550 1457 1562 1451 1567C1446 1571 1434 1569 1429 1563C1423 1557 1420 1546 1418 1530C1416 1513 1413 1475 1418 1463Z"/>
<path fill="#3a58a9" d="M1321 1667C1325 1656 1333 1654 1344 1652C1354 1650 1374 1655 1384 1654C1395 1653 1402 1653 1407 1645C1412 1636 1412 1615 1414 1604C1417 1593 1417 1582 1422 1578C1426 1574 1439 1570 1444 1578C1448 1585 1448 1606 1448 1622C1447 1639 1442 1663 1440 1678C1438 1693 1432 1703 1436 1711C1441 1719 1454 1727 1468 1727C1481 1727 1501 1713 1518 1710C1534 1708 1554 1706 1568 1710C1582 1715 1596 1724 1601 1737C1607 1750 1607 1773 1601 1787C1596 1802 1582 1815 1568 1824C1554 1832 1537 1836 1518 1837C1498 1838 1473 1836 1451 1830C1429 1825 1404 1814 1384 1804C1365 1794 1345 1785 1334 1770C1324 1756 1323 1732 1321 1715C1319 1698 1317 1677 1321 1667Z"/>
<path fill="#3a58a9" d="M1578 1597C1583 1591 1601 1589 1607 1596C1613 1604 1614 1627 1614 1641C1615 1654 1615 1672 1610 1677C1605 1683 1590 1681 1584 1674C1579 1667 1578 1646 1577 1633C1576 1621 1573 1603 1578 1597Z"/>
<path fill="#3a58a9" d="M1718 1644C1726 1636 1751 1634 1758 1640C1765 1647 1762 1669 1761 1680C1760 1692 1749 1703 1751 1710C1753 1718 1768 1714 1771 1724C1774 1734 1772 1757 1768 1770C1763 1784 1754 1793 1744 1804C1735 1815 1723 1830 1711 1837C1699 1844 1681 1849 1671 1847C1661 1845 1654 1837 1651 1824C1648 1811 1649 1785 1651 1770C1653 1756 1654 1745 1661 1737C1668 1729 1686 1729 1694 1720C1703 1712 1707 1700 1711 1687C1715 1674 1710 1652 1718 1644Z"/>
<path fill="#111111" d="M1686 1553C1685 1555 1684 1557 1683 1559C1681 1560 1680 1562 1678 1563C1676 1563 1674 1564 1673 1564C1671 1564 1669 1564 1667 1564C1665 1563 1664 1562 1662 1561C1661 1559 1660 1558 1659 1556C1659 1554 1658 1552 1658 1550C1658 1548 1659 1545 1659 1543C1660 1542 1661 1540 1663 1538C1664 1536 1665 1535 1667 1534C1669 1533 1671 1532 1673 1532C1675 1532 1676 1532 1678 1533C1680 1534 1682 1535 1683 1536C1684 1537 1685 1539 1686 1541C1687 1543 1687 1545 1687 1547C1687 1549 1687 1551 1686 1553Z"/>
<path fill="#111111" d="M1296 1433C1296 1435 1295 1437 1295 1439C1294 1440 1293 1442 1292 1443C1291 1444 1290 1445 1289 1446C1287 1446 1286 1447 1284 1447C1283 1447 1282 1446 1280 1446C1279 1445 1278 1444 1277 1443C1276 1442 1275 1440 1274 1439C1274 1437 1273 1435 1273 1433C1273 1432 1274 1430 1274 1428C1275 1427 1276 1425 1277 1424C1278 1423 1279 1422 1280 1421C1282 1421 1283 1420 1284 1420C1286 1420 1287 1421 1289 1421C1290 1422 1291 1423 1292 1424C1293 1425 1294 1427 1295 1428C1295 1430 1296 1432 1296 1433Z"/>
<path fill="#111111" d="M1770 1730C1770 1731 1769 1732 1769 1732C1769 1733 1768 1734 1767 1734C1767 1735 1766 1736 1765 1736C1764 1736 1763 1736 1762 1736C1761 1736 1760 1736 1759 1736C1759 1736 1758 1735 1757 1734C1756 1734 1756 1733 1755 1732C1755 1732 1755 1731 1755 1730C1755 1729 1755 1728 1755 1727C1756 1726 1756 1726 1757 1725C1758 1724 1759 1724 1759 1724C1760 1723 1761 1723 1762 1723C1763 1723 1764 1723 1765 1724C1766 1724 1767 1724 1767 1725C1768 1726 1769 1726 1769 1727C1769 1728 1770 1729 1770 1730Z"/>
<path fill="#111111" d="M1559 1726C1559 1727 1558 1728 1558 1729C1558 1730 1557 1731 1556 1731C1556 1732 1555 1733 1554 1733C1553 1733 1552 1733 1551 1733C1550 1733 1549 1733 1548 1733C1547 1733 1547 1732 1546 1731C1545 1731 1545 1730 1544 1729C1544 1728 1544 1727 1544 1726C1544 1725 1544 1724 1544 1723C1545 1722 1545 1721 1546 1721C1547 1720 1547 1720 1548 1719C1549 1719 1550 1719 1551 1719C1552 1719 1553 1719 1554 1719C1555 1720 1556 1720 1556 1721C1557 1721 1558 1722 1558 1723C1558 1724 1559 1725 1559 1726Z"/>
<path fill="#111111" d="M1370 1587C1370 1588 1370 1589 1369 1589C1369 1590 1369 1590 1368 1591C1368 1591 1367 1592 1366 1592C1366 1592 1365 1592 1364 1592C1364 1592 1363 1592 1362 1592C1362 1592 1361 1591 1361 1591C1360 1590 1360 1590 1360 1589C1359 1589 1359 1588 1359 1587C1359 1587 1359 1586 1360 1585C1360 1585 1360 1584 1361 1583C1361 1583 1362 1583 1362 1582C1363 1582 1364 1582 1364 1582C1365 1582 1366 1582 1366 1582C1367 1583 1368 1583 1368 1583C1369 1584 1369 1585 1369 1585C1370 1586 1370 1587 1370 1587Z"/>
<path fill="none" stroke="#111" stroke-width="1.4" stroke-linejoin="round" d="M1421 1291L1400 1303L1379 1319L1354 1339L1309 1381L1300 1388L1280 1399L1272 1405L1264 1414L1259 1425L1257 1437L1259 1448L1263 1458L1274 1475L1276 1480L1278 1486L1277 1500L1272 1538L1270 1561L1271 1581L1274 1601L1281 1620L1291 1637L1297 1645L1304 1652L1318 1664M1347 1320L1327 1339L1293 1374L1267 1399L1259 1409L1254 1420L1251 1431L1251 1444L1253 1454L1259 1475L1260 1489L1257 1544L1258 1568L1261 1592L1264 1604L1268 1615L1273 1626L1279 1637L1286 1647L1292 1654L1301 1663L1309 1669L1317 1675L1328 1680L1349 1688L1361 1691L1373 1692M1290 1359L1266 1387L1256 1401L1248 1416L1244 1431L1244 1447L1247 1486L1245 1534L1246 1559L1247 1575L1250 1589L1257 1614L1267 1636L1274 1646L1281 1656L1297 1672L1306 1679L1316 1686L1327 1691L1338 1696L1362 1703L1387 1707L1420 1709M1225 1423L1220 1450L1217 1493L1217 1529L1219 1561L1224 1589L1232 1614L1242 1639L1254 1659L1270 1678L1288 1697L1310 1712L1333 1725L1357 1734L1384 1742L1412 1747L1454 1753M1205 1470L1203 1505L1203 1537L1207 1567L1212 1595L1221 1622L1232 1646L1247 1670L1263 1690L1282 1708L1303 1724L1326 1738L1352 1749L1379 1758L1406 1764L1436 1769L1480 1773M1524 1267L1496 1273L1471 1280L1445 1291L1420 1304L1398 1318L1376 1334L1317 1386L1305 1393L1281 1403L1274 1407L1268 1413L1264 1420L1261 1427L1260 1435L1261 1443L1264 1451L1268 1458L1285 1475L1287 1481L1288 1487L1287 1501L1277 1547L1276 1561L1276 1575M1526 1329L1504 1335L1481 1343L1461 1353L1440 1365L1423 1376L1405 1389L1348 1437L1338 1444L1329 1449L1325 1450L1322 1449L1319 1446L1315 1435L1309 1427L1301 1421L1291 1418L1285 1418L1280 1421L1275 1425L1274 1428L1273 1434L1274 1438L1277 1443L1280 1446L1286 1447L1290 1446L1294 1444L1296 1441L1297 1437L1296 1431L1292 1427L1288 1425M1526 1388L1501 1397L1478 1409L1453 1423L1430 1439L1339 1513L1329 1523L1321 1532L1314 1542L1309 1551L1304 1564L1301 1576L1301 1590L1303 1602L1307 1613L1313 1624L1321 1633L1330 1640L1341 1646L1353 1649L1365 1649L1377 1647L1388 1642L1398 1636L1406 1627L1412 1616M1531 1468L1512 1476L1499 1481L1487 1483L1465 1484L1451 1487L1444 1491L1436 1498L1431 1504L1423 1518L1418 1524L1408 1527L1378 1529L1362 1532L1352 1536L1345 1540L1337 1546L1331 1551L1325 1559L1321 1566L1318 1574L1317 1582L1316 1590L1317 1598L1319 1606L1323 1613L1327 1619L1333 1625L1340 1629L1347 1632L1355 1634L1363 1634L1371 1632L1379 1629L1385 1624L1390 1618L1394 1610L1395 1604L1396 1596L1395 1590L1392 1583L1388 1578L1382 1573L1377 1570L1369 1568L1363 1568L1355 1569L1350 1572L1344 1577L1340 1582M1352 1452L1336 1467L1326 1480L1312 1504L1300 1530L1293 1549L1290 1567L1289 1585L1291 1601L1294 1611L1298 1620L1303 1629L1308 1635L1315 1642L1321 1647L1330 1653L1337 1656L1347 1659L1355 1661L1363 1661L1373 1661L1381 1659L1390 1656L1400 1652L1408 1647L1416 1640L1423 1633L1428 1624L1432 1615L1435 1605L1436 1595L1435 1585L1433 1577L1429 1568L1425 1562L1419 1556L1411 1550L1402 1545L1392 1542L1382 1541L1372 1541M1232 1511L1232 1543L1234 1569L1239 1593L1246 1616L1257 1638L1269 1657L1283 1674L1300 1688L1313 1697L1329 1706L1346 1713L1363 1718L1393 1724L1449 1731L1469 1734L1485 1739L1515 1756L1530 1761L1538 1762L1546 1762L1554 1760L1560 1758M1189 1580L1196 1608L1206 1634L1218 1660L1233 1684L1251 1706L1271 1726L1294 1743L1318 1758L1343 1771L1371 1781L1401 1789L1433 1794L1467 1797L1503 1796L1533 1792L1545 1790L1557 1786M1594 1243L1564 1243L1534 1245L1504 1250L1476 1257L1448 1268L1422 1280L1396 1295L1371 1312L1345 1335L1302 1377L1270 1402L1264 1408L1260 1414L1257 1422L1255 1428L1254 1434L1254 1442L1257 1454L1267 1478L1269 1486L1269 1494M1603 1285L1583 1284L1563 1285L1543 1287L1523 1290L1503 1294L1484 1300L1465 1307L1446 1316L1423 1328L1400 1344L1377 1362L1342 1392L1329 1402L1322 1405L1316 1406L1298 1406L1290 1408L1282 1410L1275 1414L1270 1420L1267 1426L1266 1432L1266 1438L1268 1444L1271 1449L1275 1453L1282 1458L1289 1460L1297 1461L1305 1459L1310 1455L1313 1450L1314 1444L1313 1438L1310 1431M1589 1348L1557 1351L1525 1357L1495 1367L1466 1381L1438 1398L1410 1418L1369 1454L1342 1481L1323 1505L1308 1529L1298 1551L1294 1571L1293 1581L1293 1591L1295 1601L1298 1610L1302 1620L1307 1628L1314 1636L1321 1643M1612 1396L1584 1397L1554 1403L1525 1412L1496 1425L1471 1438L1446 1453L1431 1463L1394 1491L1346 1520L1336 1527L1328 1534L1322 1542L1316 1550L1311 1559L1308 1569L1306 1579L1306 1589L1307 1599L1309 1606L1313 1616L1318 1622L1324 1630L1331 1635L1340 1640L1347 1642L1357 1644L1365 1644M1299 1591L1301 1603L1304 1612L1310 1623L1316 1631L1325 1639L1334 1644L1345 1649L1355 1651L1369 1651L1381 1648L1394 1642L1403 1634L1412 1623L1417 1612L1419 1600L1418 1588L1415 1578L1411 1571L1406 1565L1399 1560L1392 1556L1385 1553L1375 1552L1367 1552L1357 1554L1349 1557L1341 1563L1336 1569L1332 1576L1329 1583L1328 1591L1329 1599L1333 1609L1338 1615L1344 1620L1352 1622L1362 1623L1370 1620L1376 1616L1381 1609L1383 1603L1383 1599L1383 1593L1382 1590L1378 1584L1376 1582L1368 1578L1362 1577L1358 1577L1351 1580L1347 1585L1345 1588L1344 1596M1369 1504L1352 1514L1339 1523L1328 1533L1319 1544L1312 1556L1308 1567L1305 1581L1305 1593L1307 1603L1311 1613L1316 1621L1322 1629L1330 1636L1339 1640L1349 1644L1357 1645L1369 1644L1380 1641L1391 1635L1398 1628L1405 1618L1409 1608L1410 1596L1408 1586L1403 1576L1396 1568L1386 1561L1375 1558L1362 1558L1351 1562L1341 1569L1335 1577L1333 1583L1332 1589L1332 1595L1333 1601L1335 1606L1339 1611L1347 1617L1352 1619L1358 1620L1364 1619L1370 1616L1375 1612L1378 1607L1380 1602L1380 1597M1238 1575L1243 1599L1250 1620L1260 1640L1273 1658L1288 1675L1305 1689L1324 1700L1344 1709L1364 1715L1384 1719L1406 1722L1450 1726L1470 1730L1487 1737L1511 1751L1522 1757L1533 1760L1543 1761L1555 1758L1564 1754L1572 1747L1577 1739L1581 1729L1582 1717L1580 1707L1575 1698M1208 1646L1222 1671L1238 1694L1257 1716L1279 1736L1304 1754L1330 1768L1358 1780L1387 1789L1421 1796L1457 1800L1495 1800L1529 1796L1553 1790L1564 1786L1573 1781L1582 1776L1591 1768L1608 1751M1219 1720L1236 1740L1257 1759L1277 1776L1301 1791L1326 1805L1351 1816L1378 1825L1404 1831L1432 1836L1460 1837L1488 1836L1514 1833L1540 1827L1563 1819L1585 1808L1607 1795M1689 1285L1664 1277L1638 1271L1612 1267L1586 1266L1560 1266L1534 1269L1508 1273L1483 1280L1463 1287L1445 1295L1427 1304L1408 1315L1391 1327L1373 1341L1331 1378L1320 1387L1308 1394L1287 1402L1280 1405L1270 1412L1264 1421M1665 1345L1638 1339L1612 1336L1583 1335L1557 1337L1531 1341L1504 1349L1479 1358L1454 1371L1430 1386L1404 1406L1353 1451L1335 1468L1329 1476L1322 1486L1307 1514L1297 1537L1291 1558M1672 1403L1648 1398L1622 1395L1596 1396L1570 1399L1544 1405L1517 1414L1492 1426L1463 1442L1436 1459L1394 1491L1345 1520L1333 1530L1323 1540L1316 1550L1311 1559L1308 1568L1306 1578L1306 1588L1307 1598L1309 1608L1314 1617M1373 1670L1385 1669L1398 1665L1412 1660L1424 1653L1435 1644L1447 1633L1456 1622L1463 1610L1468 1599L1470 1589L1471 1581L1471 1565L1472 1559L1483 1537L1485 1529L1485 1523L1485 1517L1482 1512L1476 1504L1471 1500L1467 1499L1461 1498L1457 1499L1452 1501L1449 1503L1445 1508L1443 1511L1442 1517L1443 1521L1446 1527L1449 1529L1455 1532L1459 1532L1463 1531L1468 1528L1471 1523L1472 1517L1470 1511L1465 1507L1459 1505M1294 1624L1304 1639L1318 1651L1331 1660L1349 1665L1367 1667L1385 1665L1402 1660L1418 1651L1429 1642L1439 1632L1446 1620L1451 1609L1454 1597L1455 1587L1454 1577L1451 1561L1451 1555L1452 1553L1455 1551L1466 1545L1472 1541L1478 1534L1480 1529L1481 1523L1481 1519L1480 1513L1478 1510L1474 1505L1471 1503L1463 1500L1457 1500L1453 1502L1447 1507L1445 1512L1444 1516L1445 1520L1447 1524L1451 1528L1455 1529L1461 1529L1466 1526L1469 1521L1470 1517L1468 1511L1466 1508M1276 1589L1279 1604L1285 1620L1293 1634L1303 1646L1315 1657L1329 1665L1344 1671L1360 1674L1372 1675L1386 1674L1400 1671L1413 1667L1437 1655L1480 1628L1489 1624L1497 1622L1505 1622L1515 1624L1526 1628L1550 1639L1561 1644L1573 1647L1589 1648L1617 1648L1643 1646L1665 1640L1674 1636L1683 1631M1258 1615L1265 1629L1272 1642L1281 1655L1291 1665L1301 1675L1313 1683L1325 1690L1340 1696L1360 1702L1379 1705L1402 1707L1450 1709L1462 1710L1472 1713L1481 1716L1490 1722L1509 1742L1517 1749L1528 1754L1538 1756L1548 1756L1556 1754L1563 1750L1569 1745L1574 1736L1576 1728L1577 1720L1575 1712L1571 1703L1565 1698L1556 1693L1548 1692L1540 1694L1533 1697L1528 1703L1524 1713M1257 1684L1266 1695L1278 1706L1291 1716L1304 1726L1318 1734L1332 1741L1347 1748L1364 1754L1393 1763L1427 1769L1505 1776L1531 1777L1546 1775L1557 1772L1568 1767L1578 1760L1585 1753L1592 1743L1598 1732L1608 1708L1616 1696L1622 1691L1630 1684L1656 1669M1240 1756L1262 1776L1287 1794L1313 1810L1340 1823L1368 1833L1398 1841L1428 1846L1458 1848L1488 1847L1516 1843L1544 1836L1568 1827L1592 1816L1614 1802L1637 1785L1664 1761M1750 1329L1724 1314L1698 1302L1671 1293L1644 1286L1614 1281L1585 1279L1557 1280L1529 1283L1503 1289L1478 1296L1454 1306L1430 1318L1411 1330L1393 1342L1373 1359L1338 1390L1328 1397L1321 1401M1744 1406L1722 1392L1697 1379L1672 1370L1645 1363L1618 1360L1590 1359L1562 1361L1534 1367L1511 1374L1487 1383L1463 1395L1439 1411L1412 1431L1377 1462L1348 1488L1329 1508M1731 1443L1712 1431L1691 1422L1670 1416L1648 1412L1626 1410L1602 1411L1578 1414L1554 1420L1535 1427L1516 1435L1460 1462L1437 1475L1412 1495L1402 1502L1391 1507L1361 1520L1347 1527L1335 1535L1325 1545L1317 1557L1312 1568M1742 1484L1730 1474L1717 1464L1703 1457L1686 1450L1670 1446L1654 1445L1638 1445L1620 1447L1600 1451L1579 1459L1561 1468L1526 1488L1511 1494L1503 1496L1497 1496L1467 1489L1459 1490L1454 1491L1445 1496L1440 1500L1437 1505L1432 1516L1430 1534L1428 1537L1424 1538L1420 1538L1386 1534L1375 1534L1367 1536L1356 1539L1347 1543L1337 1550L1330 1558M1708 1475L1695 1469L1682 1464L1668 1462L1654 1461L1640 1462L1626 1465L1612 1469L1600 1475L1586 1484L1573 1494L1562 1505L1550 1519L1539 1534L1532 1548L1527 1559L1526 1571L1528 1583L1534 1594L1543 1605L1555 1616L1568 1625L1581 1631L1596 1636L1612 1639L1628 1640L1644 1640L1660 1637L1673 1632L1686 1625L1697 1616L1706 1606L1712 1595M1308 1652L1321 1662L1338 1670L1355 1674L1374 1675L1384 1675L1396 1673L1417 1666L1437 1657L1477 1633L1486 1629L1496 1627L1506 1627L1516 1629L1528 1633L1555 1645L1571 1649L1587 1650L1609 1650L1629 1648L1645 1646L1661 1642L1676 1636L1688 1629L1699 1620L1708 1609L1716 1597L1720 1584L1723 1572M1447 1689L1461 1689L1471 1690L1481 1692L1488 1696L1493 1700L1496 1705L1507 1729L1514 1739L1520 1745L1525 1748L1533 1751L1539 1752L1549 1752L1558 1749L1566 1742L1571 1733L1573 1723L1571 1714L1565 1705L1560 1702L1556 1700L1550 1699L1546 1699L1542 1700L1537 1702L1532 1706L1529 1711L1527 1717L1527 1721L1528 1727L1531 1733L1535 1737L1539 1739L1545 1740L1549 1740L1554 1737L1557 1735L1560 1729L1560 1723L1557 1718L1554 1715L1548 1714L1542 1716L1539 1721L1538 1725M1284 1685L1300 1698L1318 1710L1338 1720L1361 1728L1379 1733L1399 1737L1471 1747L1486 1751L1523 1763L1535 1765L1545 1765L1558 1762L1569 1756L1578 1747L1584 1737L1587 1727L1588 1717L1587 1705L1581 1680L1582 1674L1585 1670L1591 1666L1601 1662L1640 1653L1658 1648M1299 1818L1324 1831L1350 1842L1377 1851L1405 1857L1433 1861L1461 1863L1489 1862L1516 1858L1539 1853L1560 1846L1581 1838L1601 1828L1622 1815L1641 1801L1660 1785L1695 1755L1706 1746L1713 1742L1718 1739L1724 1739L1728 1740M1798 1383L1775 1363L1750 1345L1724 1330L1699 1318L1670 1308L1641 1300L1611 1296L1582 1295L1552 1296L1524 1300L1497 1307L1470 1317L1444 1329L1420 1343L1397 1359L1370 1381M1792 1464L1773 1443L1754 1425L1731 1408L1706 1394L1680 1384L1653 1376L1625 1372L1595 1371L1568 1373L1541 1378L1514 1387L1487 1398L1463 1411L1439 1427L1416 1444L1377 1476M1781 1518L1770 1497L1756 1479L1739 1462L1721 1449L1701 1439L1678 1431L1654 1426L1630 1425L1612 1426L1592 1429L1572 1434L1553 1441L1496 1466L1459 1477L1448 1482L1436 1490L1418 1509L1413 1512L1408 1515L1398 1519L1369 1525M1760 1583L1760 1569L1758 1555L1755 1541L1750 1528L1743 1516L1735 1504L1725 1494L1716 1486L1703 1479L1692 1474L1681 1471L1667 1468L1655 1468L1641 1469L1627 1473L1614 1478L1600 1486L1587 1496L1575 1509L1566 1523L1559 1537L1555 1551L1555 1565L1557 1579L1563 1592L1573 1605L1585 1616L1599 1624L1614 1629L1632 1633L1648 1632L1664 1629M1737 1536L1733 1527L1728 1519L1716 1505L1701 1494L1692 1490L1684 1487L1675 1485L1664 1484L1654 1484L1646 1485L1637 1488L1629 1491L1620 1496L1614 1501L1606 1507L1600 1515L1594 1524L1591 1531L1588 1541L1587 1549L1587 1559L1588 1567L1590 1577L1594 1584L1598 1591L1605 1598L1611 1603L1620 1609L1627 1612L1637 1615L1649 1616L1661 1614L1673 1611L1682 1606L1691 1598L1698 1591L1702 1582L1706 1572L1707 1560L1705 1550L1700 1539L1694 1531L1684 1524L1674 1521L1664 1520L1655 1523M1636 1464L1622 1468L1609 1473L1596 1479L1585 1487L1574 1496L1563 1508L1553 1521L1544 1534L1539 1545L1535 1557L1534 1567L1534 1575L1537 1585L1542 1594L1547 1602L1556 1611L1570 1622L1584 1629L1602 1635L1619 1638L1638 1639L1656 1636L1673 1631L1687 1623L1695 1617L1701 1611L1710 1598L1716 1583L1719 1567L1719 1559L1717 1551L1712 1538L1708 1531L1703 1525L1692 1516M1409 1754L1476 1762L1515 1769L1532 1771L1544 1770L1554 1768L1563 1765L1572 1760L1582 1750L1589 1738L1594 1724L1599 1696L1602 1689L1608 1683L1614 1678L1621 1674L1663 1655L1685 1643L1695 1636L1702 1630L1710 1621L1716 1613L1722 1602L1726 1591L1729 1579L1730 1569L1729 1557L1727 1547L1723 1537L1719 1528M1348 1766L1373 1775L1399 1782L1427 1787L1455 1789L1489 1790L1521 1789L1543 1786L1563 1779L1578 1771L1592 1759L1603 1746L1621 1720L1635 1705L1649 1693L1686 1665L1705 1648L1716 1635L1724 1624L1730 1611L1736 1598M1366 1844L1389 1851L1413 1855L1437 1858L1459 1859L1484 1858L1506 1856L1530 1852L1551 1846L1570 1839L1587 1831L1603 1823L1620 1812L1649 1790L1697 1747L1712 1737L1718 1735L1724 1735L1742 1743L1752 1745L1760 1745L1766 1743L1769 1740L1772 1737L1773 1733L1773 1729L1773 1725L1771 1722L1768 1719L1764 1717M1761 1333L1742 1322L1723 1311L1703 1302L1684 1295L1662 1288L1643 1283L1621 1280L1601 1278L1578 1277L1558 1278L1536 1280L1516 1284L1497 1288L1477 1294L1459 1302L1438 1311M1824 1519L1811 1492L1797 1468L1779 1446L1759 1426L1736 1409L1710 1394L1684 1383L1655 1374L1627 1370L1597 1368L1568 1370L1539 1376L1511 1384L1484 1396L1457 1411L1429 1430M1794 1610L1793 1580L1792 1566L1789 1552L1781 1527L1775 1514L1769 1504L1761 1492L1754 1483L1744 1472L1735 1464L1725 1457L1713 1450L1702 1444L1689 1439L1667 1434L1645 1431L1623 1431L1599 1435L1581 1439L1562 1446L1512 1468L1499 1474L1486 1477L1460 1482L1450 1485L1443 1489M1698 1654L1714 1636L1727 1618L1735 1599L1737 1589L1739 1579L1739 1569L1739 1559L1735 1541L1731 1532L1726 1523L1720 1515L1714 1509L1707 1503L1698 1497L1689 1493L1679 1490L1669 1489L1659 1489L1649 1490L1639 1493L1630 1497L1621 1502L1614 1508L1607 1516L1601 1524L1597 1533L1594 1543L1593 1553L1594 1563L1596 1571L1599 1579L1604 1587L1609 1593L1617 1600L1624 1604L1633 1608L1643 1610L1653 1611L1663 1609L1671 1607L1680 1603L1686 1598L1693 1591L1698 1584M1656 1558L1659 1562M1499 1761L1523 1767L1539 1768L1547 1768L1555 1766L1562 1763L1569 1759L1575 1754L1581 1747L1585 1741L1588 1733L1591 1719L1593 1689L1595 1683L1598 1678L1605 1673L1612 1670L1659 1652L1672 1647L1683 1641L1694 1633L1703 1625L1711 1615L1718 1605L1723 1594L1726 1585L1728 1573L1728 1562L1726 1550L1723 1541L1718 1532L1713 1523L1706 1516L1698 1510L1689 1505L1679 1502L1669 1500L1659 1500L1649 1502L1640 1506M1446 1790L1486 1792L1525 1790L1539 1788L1550 1785L1562 1781L1571 1776L1583 1768L1594 1757L1604 1747L1623 1721L1635 1707L1649 1695L1686 1667L1705 1649L1719 1632L1730 1613L1737 1594L1740 1576L1740 1566L1739 1556L1735 1538L1730 1529L1725 1520L1719 1513L1713 1507M1452 1861L1483 1861L1513 1857L1542 1850L1571 1841L1600 1827L1629 1808L1654 1788L1697 1751L1710 1741L1717 1738L1723 1737L1727 1738L1740 1743L1748 1746L1756 1746L1764 1744L1769 1741L1772 1738L1774 1732L1774 1728L1773 1724L1769 1719L1764 1717L1760 1716L1756 1717L1752 1719L1750 1724L1750 1730L1752 1734L1755 1736M1472 1904L1508 1901L1526 1898L1544 1895L1577 1885L1594 1878L1610 1870L1638 1855L1665 1836L1687 1818L1723 1785L1735 1775L1745 1769L1764 1760L1772 1754L1778 1749L1782 1742L1784 1734L1785 1726L1784 1718L1781 1711L1777 1704L1768 1693L1765 1687L1764 1677L1766 1661M1857 1536L1847 1507L1835 1482L1821 1457L1805 1434L1786 1413L1765 1394L1742 1378L1716 1362L1690 1351L1661 1341L1633 1336L1605 1332L1575 1332L1547 1335L1519 1341L1492 1350M1831 1631L1830 1599L1827 1568L1820 1539L1810 1512L1797 1487L1780 1464L1761 1443L1740 1425L1716 1410L1703 1404L1688 1398L1661 1390L1631 1385L1601 1384L1570 1386L1541 1393L1512 1402M1597 1675L1604 1670L1613 1666L1649 1655L1665 1649L1679 1642L1691 1634L1705 1622L1714 1609L1722 1595L1726 1579L1727 1569L1727 1559L1725 1549L1722 1540L1717 1531L1711 1522L1704 1515L1696 1509L1687 1505L1677 1502L1667 1501L1659 1501L1649 1503L1640 1507L1631 1512L1625 1517L1618 1525L1614 1532L1611 1541L1610 1549L1610 1560L1612 1567L1616 1577L1621 1583L1627 1589L1635 1594L1645 1598L1653 1599L1663 1598L1670 1596L1679 1592L1686 1587M1585 1762L1597 1749L1617 1718L1628 1704L1644 1691L1690 1658L1702 1647L1713 1635L1723 1621L1731 1604L1736 1589L1738 1573L1738 1559L1735 1545L1730 1532L1722 1520L1713 1509L1701 1501L1689 1494L1675 1491L1661 1490L1647 1492L1634 1496L1623 1502L1612 1511L1604 1523L1598 1535L1595 1547M1543 1804L1559 1799L1572 1793L1584 1786L1597 1777L1612 1764L1650 1727L1693 1687L1709 1669L1723 1651L1734 1632L1742 1612L1746 1598L1748 1586L1749 1574L1749 1562L1747 1550L1743 1538L1738 1527L1733 1518L1726 1509L1718 1500L1708 1493L1699 1488L1688 1483L1676 1480L1664 1479L1654 1479M1641 1830L1668 1809L1708 1774L1719 1765L1726 1761L1731 1759L1753 1756L1765 1752L1770 1748L1774 1744L1777 1739L1779 1733L1779 1727L1778 1721L1775 1716L1770 1710L1765 1706L1759 1704L1752 1702L1742 1700L1739 1698L1738 1692L1740 1684L1755 1638L1761 1612L1764 1588L1763 1564L1761 1550L1758 1539L1753 1527L1748 1516L1740 1505L1732 1496L1723 1487L1713 1480M1532 1903L1561 1896L1588 1887L1614 1875L1640 1860L1661 1847L1681 1831L1738 1779L1748 1772L1769 1760L1775 1755L1779 1750L1784 1743L1786 1737L1787 1732L1787 1723L1786 1718L1783 1710L1772 1688L1771 1683L1770 1676L1772 1664L1779 1615L1781 1596L1780 1578M1859 1565L1853 1541L1846 1518L1837 1496L1827 1476L1814 1455L1801 1437L1786 1421L1770 1406L1753 1392L1733 1378L1713 1367L1691 1357L1670 1350L1646 1344L1623 1340L1600 1338M1809 1747L1812 1736L1815 1722L1821 1669L1824 1633L1824 1603L1822 1575L1816 1549L1808 1524L1798 1500L1783 1476L1766 1456L1746 1438L1725 1423L1702 1411L1675 1401L1647 1395L1619 1392M1760 1796L1781 1772L1790 1759L1797 1744L1801 1730L1802 1718L1802 1684L1806 1634L1807 1605L1806 1589L1805 1573L1802 1557L1798 1543L1789 1519L1777 1496L1761 1475L1744 1458L1724 1443L1701 1431L1677 1422L1651 1417M1682 1830L1737 1780L1748 1772L1768 1761L1776 1754L1781 1748L1784 1741L1786 1735L1787 1727L1787 1721L1785 1713L1781 1706L1773 1692L1771 1686L1770 1680L1771 1666L1779 1618L1781 1592L1780 1576L1778 1562L1775 1548L1771 1534L1765 1520L1757 1506L1747 1493L1737 1482L1725 1472L1713 1464L1701 1458L1685 1452M1641 1865L1659 1853L1679 1838L1700 1820L1741 1781L1774 1757L1780 1752L1783 1747L1788 1735L1789 1727L1788 1717L1784 1708L1777 1691L1775 1679L1775 1667L1781 1627L1783 1605L1783 1581L1780 1557L1773 1533L1764 1513L1758 1503L1751 1493L1735 1477"/>
<path fill="none" stroke="#111" stroke-width="1.3" d="M1356 1342L1348 1344L1351 1337M1270 1461L1271 1469L1264 1465M1288 1626L1289 1634L1282 1629M1291 1381L1284 1383L1286 1376M1261 1534L1258 1541L1254 1533M1326 1676L1331 1682L1323 1682M1248 1427L1244 1434L1241 1427M1256 1596L1254 1603L1249 1598M1371 1701L1377 1706L1369 1708M1220 1505L1217 1512L1213 1505M1262 1664L1264 1671L1257 1668M1405 1742L1412 1747L1404 1749M1209 1553L1206 1560L1202 1553M1279 1700L1282 1708L1274 1706M1431 1765L1438 1769L1430 1772M1447 1294L1439 1294L1443 1288M1310 1395L1302 1394L1308 1388M1285 1526L1280 1532L1278 1525M1451 1363L1443 1363L1447 1356M1315 1440L1313 1432L1320 1436M1454 1427L1446 1428L1450 1421M1323 1534L1316 1538L1318 1530M1374 1644L1382 1645L1377 1651M1453 1491L1445 1491L1449 1484M1322 1575L1317 1581L1315 1573M1382 1576L1377 1570L1385 1570M1308 1520L1302 1525L1302 1517M1347 1656L1354 1660L1346 1663M1416 1558L1413 1551L1421 1553M1242 1592L1241 1600L1236 1594M1349 1710L1355 1716L1347 1717M1513 1751L1518 1757L1510 1758M1220 1656L1221 1664L1214 1660M1342 1767L1348 1773L1340 1773M1507 1792L1515 1794L1508 1799M1512 1252L1505 1250L1511 1245M1363 1324L1355 1326L1358 1319M1259 1445L1257 1453L1252 1447M1521 1294L1514 1292L1520 1287M1374 1370L1366 1372L1369 1364M1288 1457L1295 1461L1288 1464M1509 1366L1501 1365L1507 1359M1370 1458L1363 1461L1365 1453M1298 1600L1297 1608L1291 1602M1532 1413L1524 1412L1529 1406M1387 1499L1379 1500L1384 1493M1322 1624L1326 1631L1318 1629M1349 1647L1356 1651L1349 1654M1374 1555L1367 1552L1374 1548M1378 1587L1374 1580L1382 1581M1314 1561L1308 1566L1307 1558M1401 1618L1407 1613L1408 1621M1345 1613L1351 1619L1343 1620M1271 1650L1272 1658L1265 1654M1416 1720L1423 1724L1416 1727M1570 1743L1577 1739L1576 1747M1257 1712L1260 1719L1253 1717M1404 1789L1410 1794L1402 1796M1568 1780L1576 1779L1572 1786M1281 1774L1285 1781L1277 1780M1436 1832L1443 1836L1436 1839M1597 1797L1605 1796L1601 1803M1608 1271L1601 1267L1609 1264M1445 1299L1437 1299L1441 1293M1307 1399L1299 1397L1305 1392M1584 1338L1576 1335L1583 1331M1427 1393L1420 1394L1423 1387M1312 1512L1306 1518L1305 1510M1590 1400L1583 1397L1589 1393M1436 1463L1429 1465L1432 1458M1311 1569L1307 1576L1304 1568M1443 1633L1450 1629L1448 1637M1454 1502L1446 1506L1448 1498M1360 1665L1368 1667L1361 1671M1448 1550L1456 1550L1452 1556M1318 1655L1323 1662L1315 1661M1471 1629L1479 1629L1475 1635M1635 1643L1643 1646L1636 1650M1309 1677L1314 1683L1306 1683M1473 1709L1479 1715L1471 1716M1561 1700L1556 1693L1564 1693M1323 1733L1327 1739L1319 1739M1486 1771L1492 1775L1485 1778M1612 1695L1620 1692L1617 1700M1307 1802L1312 1809L1304 1808M1468 1844L1475 1847L1468 1851M1624 1790L1632 1789L1628 1796M1674 1297L1668 1292L1676 1290M1508 1291L1500 1290L1506 1284M1363 1373L1355 1375L1358 1367M1669 1373L1663 1368L1671 1366M1505 1380L1497 1379L1502 1373M1367 1475L1359 1478L1362 1470M1654 1416L1647 1412L1654 1409M1492 1450L1484 1450L1489 1444M1345 1532L1337 1534L1341 1527M1670 1450L1663 1446L1670 1443M1511 1498L1504 1496L1510 1491M1373 1537L1366 1536L1372 1531M1629 1468L1621 1467L1627 1461M1532 1584L1533 1592L1526 1587M1676 1627L1684 1626L1679 1633M1385 1671L1393 1673L1386 1678M1544 1637L1549 1643L1541 1643M1699 1614L1707 1611L1705 1619M1511 1729L1513 1737L1506 1733M1531 1728L1534 1735L1526 1733M1356 1723L1362 1729L1354 1730M1521 1760L1528 1764L1520 1767M1608 1657L1616 1658L1610 1663M1376 1847L1382 1852L1375 1854M1542 1848L1550 1849L1544 1855M1684 1760L1691 1758L1688 1765M1729 1337L1725 1330L1733 1331M1568 1299L1561 1296L1568 1292M1412 1353L1404 1354L1408 1347M1729 1411L1725 1405L1733 1405M1569 1377L1561 1374L1568 1370M1418 1447L1410 1449L1414 1441M1727 1458L1723 1451L1731 1452M1568 1440L1560 1439L1565 1433M1418 1514L1410 1514L1415 1508M1734 1508L1731 1501L1739 1503M1588 1500L1581 1503L1583 1495M1615 1626L1622 1631L1614 1633M1676 1489L1669 1484L1677 1482M1602 1590L1605 1598L1597 1595M1696 1539L1694 1531L1701 1535M1568 1507L1561 1510L1562 1503M1598 1631L1605 1636L1597 1638M1716 1557L1717 1549L1723 1555M1492 1761L1499 1766L1491 1768M1606 1680L1613 1678L1610 1685M1726 1576L1730 1569L1733 1577M1429 1783L1436 1788L1428 1790M1588 1758L1596 1755L1594 1762M1708 1639L1716 1636L1714 1643M1447 1855L1454 1859L1447 1862M1608 1815L1616 1815L1611 1821M1748 1742L1756 1745L1749 1749M1687 1299L1681 1294L1689 1293M1521 1286L1513 1284L1519 1279M1779 1451L1777 1444L1784 1446M1634 1374L1627 1370L1635 1367M1473 1406L1465 1407L1469 1400M1779 1531L1779 1523L1785 1528M1653 1435L1646 1431L1653 1429M1492 1480L1484 1478L1491 1473M1735 1583L1739 1576L1742 1584M1633 1499L1625 1499L1630 1493M1657 1608L1665 1609L1659 1614M1574 1751L1581 1747L1580 1754M1679 1639L1687 1638L1683 1645M1687 1508L1681 1503L1689 1502M1528 1786L1536 1788L1529 1793M1656 1685L1664 1683L1661 1691M1734 1550L1736 1543L1741 1549M1533 1849L1541 1851L1535 1856M1677 1764L1684 1762L1681 1769M1552 1888L1560 1890L1555 1895M1697 1805L1704 1802L1701 1810M1762 1685L1764 1678L1769 1684M1821 1463L1819 1455L1826 1459M1694 1356L1689 1350L1696 1349M1529 1343L1522 1341L1528 1336M1818 1550L1820 1542L1825 1548M1722 1419L1718 1412L1726 1413M1561 1392L1553 1390L1559 1385M1672 1642L1680 1641L1676 1648M1692 1512L1687 1505L1695 1505M1640 1593L1646 1598L1639 1600M1634 1695L1642 1693L1638 1700M1735 1571L1738 1563L1742 1570M1622 1508L1614 1510L1617 1503M1611 1760L1619 1757L1616 1765M1727 1637L1733 1633L1733 1641M1701 1492L1696 1486L1704 1486M1702 1774L1710 1772L1707 1779M1738 1679L1744 1673L1745 1681M1744 1518L1743 1510L1750 1514M1609 1874L1617 1873L1612 1880M1743 1771L1751 1770L1746 1777M1774 1627L1778 1621L1781 1629M1829 1488L1829 1480L1836 1485M1713 1371L1708 1365L1716 1365M1818 1665L1822 1658L1825 1666M1794 1502L1794 1494L1800 1498M1666 1403L1660 1398L1668 1396M1798 1726L1802 1719L1805 1727M1798 1558L1800 1550L1805 1556M1698 1433L1692 1427L1700 1427M1741 1772L1749 1771L1745 1778M1774 1629L1778 1623L1781 1630M1728 1478L1724 1471L1732 1472M1704 1811L1711 1809L1708 1817M1771 1683L1775 1676L1778 1683M1763 1518L1762 1510L1769 1514"/>
<path fill="none" stroke="#111" stroke-width="6" stroke-linecap="round" d="M1731 1377C1718 1373 1681 1360 1651 1357C1621 1354 1584 1357 1551 1360C1518 1363 1478 1369 1451 1373C1424 1378 1404 1381 1391 1387C1378 1392 1376 1396 1371 1407C1367 1417 1366 1437 1364 1450C1363 1463 1364 1475 1361 1483C1358 1492 1354 1495 1344 1500C1335 1505 1321 1510 1307 1515C1292 1520 1272 1521 1259 1530C1245 1538 1233 1551 1225 1567C1218 1582 1215 1604 1214 1622C1214 1641 1220 1669 1222 1678"/>
<path fill="none" stroke="#111" stroke-width="11" stroke-linecap="round" d="M1211 1697C1223 1708 1261 1746 1284 1764C1308 1782 1329 1793 1351 1804C1373 1815 1393 1824 1418 1830C1443 1837 1479 1844 1501 1844C1523 1844 1536 1838 1551 1830C1567 1823 1583 1810 1594 1797C1606 1784 1612 1772 1618 1754C1623 1735 1625 1707 1628 1687C1631 1668 1631 1651 1634 1637C1638 1623 1646 1615 1651 1604C1657 1593 1665 1576 1668 1570"/>
<path fill="none" stroke="#111" stroke-width="6" stroke-linecap="round" d="M1311 1604C1312 1612 1312 1640 1318 1654C1323 1668 1333 1676 1344 1687C1356 1698 1369 1707 1384 1720C1399 1734 1418 1757 1434 1770C1451 1784 1468 1797 1484 1804C1501 1810 1526 1809 1534 1810"/>
<path fill="none" stroke="#111" stroke-width="8" stroke-linecap="round" d="M1504 1570C1504 1582 1502 1618 1501 1637C1500 1657 1498 1672 1498 1687C1498 1703 1498 1719 1501 1730C1504 1742 1511 1753 1518 1757C1525 1762 1537 1762 1544 1757C1552 1753 1558 1735 1561 1730"/>
<path fill="none" stroke="#111" stroke-width="8" stroke-linecap="round" d="M1584 1550C1593 1543 1618 1517 1634 1507C1651 1497 1671 1491 1684 1490C1698 1489 1711 1493 1718 1500C1724 1507 1725 1522 1724 1533C1724 1545 1716 1561 1714 1567"/>
<path fill="none" stroke="#111" stroke-width="4" stroke-linecap="round" d="M1731 1377C1736 1381 1753 1387 1762 1400C1771 1413 1779 1437 1784 1456C1789 1474 1792 1493 1792 1511C1792 1530 1789 1551 1784 1567C1779 1582 1766 1598 1762 1604"/>
<path fill="none" stroke="#111" stroke-width="3" stroke-linecap="round" d="M1418 1541C1420 1533 1423 1504 1429 1493C1434 1481 1444 1471 1451 1471C1459 1471 1469 1482 1473 1493C1478 1504 1476 1530 1477 1537"/>
<path fill="none" stroke="#111" stroke-width="3" stroke-linecap="round" d="M1325 1441C1324 1445 1323 1458 1318 1463C1313 1469 1303 1475 1296 1474C1288 1474 1278 1467 1273 1459C1269 1451 1268 1435 1270 1426C1272 1417 1278 1410 1284 1408C1291 1405 1301 1407 1307 1411C1312 1416 1316 1430 1318 1433"/>
</g>
<circle cx="1521.5" cy="1570.5" r="336.5" fill="none" stroke="#1a1a1a" stroke-width="1.7"/>
<clipPath id="c5"><circle cx="2251" cy="1526.5" r="380"/></clipPath>
<g clip-path="url(#c5)">
<circle cx="2251" cy="1526" r="382" fill="#4fa5d8"/>
<path fill="#68c1b5" d="M1871 1293C1883 1245 1913 1316 1934 1322C1955 1328 1972 1329 1996 1330C2021 1332 2052 1330 2080 1330C2108 1331 2139 1329 2163 1334C2188 1340 2213 1350 2226 1364C2238 1378 2235 1398 2238 1418C2242 1437 2245 1456 2247 1481C2248 1505 2250 1536 2247 1564C2243 1592 2233 1623 2226 1648C2219 1672 2216 1693 2205 1710C2195 1728 2184 1745 2163 1752C2142 1759 2108 1755 2080 1752C2052 1749 2024 1742 1996 1731C1968 1721 1935 1710 1913 1689C1890 1668 1870 1672 1863 1606C1856 1540 1859 1340 1871 1293Z"/>
<path fill="#68c1b5" d="M2289 1347C2301 1336 2330 1335 2351 1334C2372 1334 2389 1341 2414 1343C2438 1344 2470 1344 2497 1343C2525 1341 2557 1332 2581 1334C2605 1336 2633 1286 2644 1355C2654 1425 2657 1689 2644 1752C2630 1815 2591 1736 2560 1731C2529 1726 2487 1726 2456 1723C2424 1719 2400 1719 2372 1710C2344 1701 2307 1686 2289 1668C2270 1651 2267 1637 2264 1606C2260 1575 2266 1515 2268 1481C2270 1446 2273 1419 2276 1397C2280 1375 2276 1357 2289 1347Z"/>
<path fill="#68c1b5" d="M2218 1163C2222 1158 2259 1166 2268 1172C2276 1177 2273 1192 2268 1197C2263 1201 2247 1206 2238 1201C2230 1195 2213 1168 2218 1163Z"/>
<path fill="#68c1b5" d="M2343 1188C2346 1181 2381 1181 2393 1184C2405 1188 2417 1201 2414 1209C2410 1217 2384 1233 2372 1230C2360 1227 2339 1196 2343 1188Z"/>
<path fill="#68c1b5" d="M2489 1180C2493 1175 2513 1181 2518 1188C2524 1195 2526 1217 2522 1222C2519 1227 2503 1224 2497 1217C2492 1211 2486 1185 2489 1180Z"/>
<path fill="#68c1b5" d="M2038 1293C2043 1288 2067 1294 2071 1301C2076 1308 2072 1330 2067 1334C2062 1339 2047 1337 2042 1330C2037 1323 2033 1298 2038 1293Z"/>
<path fill="#68c1b5" d="M1913 1731C1923 1728 1958 1742 1975 1752C1993 1762 2014 1778 2017 1794C2021 1810 2007 1843 1996 1848C1986 1853 1968 1836 1955 1823C1941 1810 1920 1788 1913 1773C1906 1758 1902 1735 1913 1731Z"/>
<path fill="#68c1b5" d="M2005 1773C2009 1764 2048 1775 2059 1785C2069 1796 2072 1826 2067 1836C2062 1845 2040 1850 2030 1840C2019 1829 2000 1782 2005 1773Z"/>
<path fill="#68c1b5" d="M2518 1773C2528 1766 2567 1760 2581 1765C2595 1769 2605 1788 2602 1798C2598 1808 2573 1822 2560 1823C2547 1824 2529 1815 2522 1806C2515 1798 2509 1780 2518 1773Z"/>
<path fill="#68c1b5" d="M2372 1798C2376 1788 2403 1785 2414 1790C2424 1794 2438 1813 2435 1823C2431 1833 2403 1852 2393 1848C2383 1844 2369 1808 2372 1798Z"/>
<path fill="#68c1b5" d="M2268 1272C2274 1268 2303 1277 2309 1284C2316 1291 2316 1310 2309 1314C2303 1317 2279 1312 2272 1305C2265 1298 2261 1275 2268 1272Z"/>
<path fill="#67bc6f" d="M1904 1355C1919 1332 1950 1344 1975 1343C2001 1341 2031 1345 2059 1347C2087 1349 2118 1350 2142 1355C2167 1361 2190 1366 2205 1380C2220 1394 2225 1415 2230 1439C2235 1462 2236 1494 2234 1522C2232 1550 2225 1581 2218 1606C2210 1630 2204 1653 2188 1668C2172 1684 2147 1694 2122 1698C2096 1701 2066 1696 2038 1689C2010 1683 1977 1674 1955 1660C1932 1646 1916 1636 1904 1606C1893 1576 1888 1522 1888 1481C1888 1439 1890 1378 1904 1355Z"/>
<path fill="#67bc6f" d="M2289 1380C2305 1359 2341 1359 2372 1355C2403 1352 2445 1355 2476 1359C2508 1364 2538 1367 2560 1380C2582 1394 2597 1412 2606 1439C2615 1466 2617 1512 2614 1543C2612 1575 2605 1604 2589 1627C2573 1650 2547 1669 2518 1681C2489 1693 2445 1699 2414 1698C2383 1696 2352 1688 2330 1673C2309 1657 2293 1638 2284 1606C2275 1574 2275 1518 2276 1481C2277 1443 2273 1401 2289 1380Z"/>
<path fill="#5db43f" d="M1934 1405C1945 1382 1972 1385 1996 1380C2021 1376 2055 1378 2080 1380C2104 1383 2124 1387 2142 1397C2161 1407 2179 1421 2188 1439C2197 1456 2197 1481 2197 1501C2197 1522 2194 1545 2188 1564C2183 1583 2178 1602 2163 1614C2149 1627 2125 1636 2101 1639C2076 1642 2042 1636 2017 1631C1993 1625 1969 1624 1955 1606C1940 1588 1933 1556 1929 1522C1926 1489 1923 1429 1934 1405Z"/>
<path fill="#5db43f" d="M2309 1439C2322 1426 2348 1419 2372 1414C2396 1409 2428 1407 2456 1410C2483 1412 2518 1419 2539 1430C2560 1442 2573 1462 2581 1481C2589 1499 2593 1522 2589 1543C2586 1564 2575 1588 2560 1606C2545 1623 2522 1639 2497 1648C2473 1657 2440 1662 2414 1660C2387 1658 2357 1651 2339 1635C2320 1619 2308 1588 2301 1564C2294 1540 2296 1510 2297 1489C2298 1468 2297 1451 2309 1439Z"/>
<path fill="#93c63d" d="M2046 1493C2046 1497 2046 1501 2044 1504C2043 1508 2041 1511 2039 1514C2037 1516 2034 1519 2031 1520C2028 1522 2025 1522 2021 1522C2018 1522 2015 1522 2012 1520C2009 1519 2006 1516 2004 1514C2001 1511 1999 1508 1998 1504C1997 1501 1996 1497 1996 1493C1996 1489 1997 1485 1998 1482C1999 1478 2001 1475 2004 1472C2006 1470 2009 1468 2012 1466C2015 1465 2018 1464 2021 1464C2025 1464 2028 1465 2031 1466C2034 1468 2037 1470 2039 1472C2041 1475 2043 1478 2044 1482C2046 1485 2046 1489 2046 1493Z"/>
<path fill="#93c63d" d="M2167 1476C2167 1480 2167 1483 2166 1486C2165 1489 2163 1492 2161 1494C2159 1496 2157 1498 2155 1500C2152 1501 2149 1501 2147 1501C2144 1501 2141 1501 2139 1500C2136 1498 2134 1496 2132 1494C2130 1492 2128 1489 2127 1486C2126 1483 2126 1480 2126 1476C2126 1473 2126 1470 2127 1467C2128 1464 2130 1461 2132 1459C2134 1456 2136 1454 2139 1453C2141 1452 2144 1451 2147 1451C2149 1451 2152 1452 2155 1453C2157 1454 2159 1456 2161 1459C2163 1461 2165 1464 2166 1467C2167 1470 2167 1473 2167 1476Z"/>
<path fill="#93c63d" d="M2514 1518C2514 1527 2513 1537 2511 1545C2509 1554 2506 1562 2502 1568C2498 1575 2493 1580 2488 1584C2483 1587 2478 1589 2472 1589C2467 1589 2461 1587 2456 1584C2451 1580 2447 1575 2443 1568C2439 1562 2436 1554 2434 1545C2432 1537 2431 1527 2431 1518C2431 1509 2432 1499 2434 1491C2436 1483 2439 1474 2443 1468C2447 1462 2451 1456 2456 1453C2461 1449 2467 1447 2472 1447C2478 1447 2483 1449 2488 1453C2493 1456 2498 1462 2502 1468C2506 1474 2509 1483 2511 1491C2513 1499 2514 1509 2514 1518Z"/>
<path fill="#d6de3c" d="M2497 1522C2497 1528 2496 1534 2495 1540C2495 1545 2493 1551 2492 1555C2490 1559 2489 1563 2487 1565C2485 1567 2483 1568 2481 1568C2479 1568 2476 1567 2475 1565C2473 1563 2471 1559 2469 1555C2468 1551 2467 1545 2466 1540C2465 1534 2465 1528 2465 1522C2465 1516 2465 1510 2466 1505C2467 1499 2468 1494 2469 1490C2471 1486 2473 1482 2475 1480C2476 1478 2479 1476 2481 1476C2483 1476 2485 1478 2487 1480C2489 1482 2490 1486 2492 1490C2493 1494 2495 1499 2495 1505C2496 1510 2497 1516 2497 1522Z"/>
<path fill="#3a58a9" d="M2122 1176C2124 1167 2140 1168 2147 1172C2153 1175 2158 1188 2159 1197C2160 1205 2156 1217 2151 1222C2146 1226 2135 1229 2130 1222C2125 1214 2119 1184 2122 1176Z"/>
<path fill="#3a58a9" d="M2180 1209C2185 1204 2199 1201 2205 1205C2211 1208 2215 1224 2213 1230C2212 1236 2203 1242 2197 1243C2190 1243 2179 1240 2176 1234C2173 1229 2175 1214 2180 1209Z"/>
<path fill="#3a58a9" d="M2138 1268C2143 1263 2162 1261 2172 1263C2181 1266 2193 1273 2197 1280C2200 1287 2198 1301 2193 1305C2187 1309 2172 1308 2163 1305C2155 1302 2147 1295 2142 1288C2138 1282 2133 1272 2138 1268Z"/>
<path fill="#3a58a9" d="M2163 1330C2169 1325 2194 1325 2205 1326C2216 1327 2225 1332 2230 1339C2236 1345 2241 1359 2238 1364C2236 1368 2225 1365 2213 1364C2202 1362 2180 1361 2172 1355C2163 1350 2158 1335 2163 1330Z"/>
<path fill="#3a58a9" d="M1946 1284C1952 1278 1975 1277 1984 1280C1992 1283 1997 1294 1996 1301C1996 1308 1987 1319 1980 1322C1972 1325 1956 1324 1950 1318C1945 1311 1941 1291 1946 1284Z"/>
<path fill="#3a58a9" d="M1896 1355C1902 1350 1927 1347 1934 1351C1940 1355 1940 1375 1934 1380C1927 1386 1902 1389 1896 1385C1890 1380 1890 1361 1896 1355Z"/>
<path fill="#3a58a9" d="M2064 1263C2064 1264 2064 1266 2063 1267C2063 1268 2062 1269 2061 1269C2060 1270 2059 1271 2058 1271C2057 1272 2056 1272 2055 1272C2054 1272 2052 1272 2051 1271C2050 1271 2049 1270 2048 1269C2047 1269 2047 1268 2046 1267C2046 1266 2046 1264 2046 1263C2046 1262 2046 1261 2046 1260C2047 1259 2047 1258 2048 1258C2049 1257 2050 1256 2051 1256C2052 1255 2054 1255 2055 1255C2056 1255 2057 1255 2058 1256C2059 1256 2060 1257 2061 1258C2062 1258 2063 1259 2063 1260C2064 1261 2064 1262 2064 1263Z"/>
<path fill="#3a58a9" d="M2443 1268C2443 1269 2443 1271 2442 1272C2441 1274 2440 1275 2439 1276C2437 1278 2436 1279 2434 1279C2432 1280 2430 1280 2428 1280C2427 1280 2425 1280 2423 1279C2421 1279 2419 1278 2418 1276C2417 1275 2416 1274 2415 1272C2414 1271 2414 1269 2414 1268C2414 1266 2414 1264 2415 1263C2416 1261 2417 1260 2418 1259C2419 1258 2421 1257 2423 1256C2425 1255 2427 1255 2428 1255C2430 1255 2432 1255 2434 1256C2436 1257 2437 1258 2439 1259C2440 1260 2441 1261 2442 1263C2443 1264 2443 1266 2443 1268Z"/>
<path fill="#3a58a9" d="M2322 1234C2322 1235 2322 1236 2321 1237C2320 1238 2319 1239 2318 1240C2317 1241 2316 1242 2314 1242C2313 1242 2311 1243 2309 1243C2308 1243 2306 1242 2305 1242C2303 1242 2302 1241 2301 1240C2299 1239 2298 1238 2298 1237C2297 1236 2297 1235 2297 1234C2297 1233 2297 1232 2298 1231C2298 1230 2299 1229 2301 1228C2302 1228 2303 1227 2305 1226C2306 1226 2308 1226 2309 1226C2311 1226 2313 1226 2314 1226C2316 1227 2317 1228 2318 1228C2319 1229 2320 1230 2321 1231C2322 1232 2322 1233 2322 1234Z"/>
<path fill="#3a58a9" d="M2248 1247C2248 1248 2247 1249 2247 1250C2247 1250 2246 1251 2245 1252C2244 1253 2243 1253 2242 1254C2241 1254 2240 1254 2238 1254C2237 1254 2236 1254 2235 1254C2234 1253 2233 1253 2232 1252C2231 1251 2230 1250 2230 1250C2230 1249 2229 1248 2229 1247C2229 1246 2230 1245 2230 1244C2230 1243 2231 1242 2232 1241C2233 1241 2234 1240 2235 1240C2236 1239 2237 1239 2238 1239C2240 1239 2241 1239 2242 1240C2243 1240 2244 1241 2245 1241C2246 1242 2247 1243 2247 1244C2247 1245 2248 1246 2248 1247Z"/>
<path fill="#3a58a9" d="M2445 1195C2445 1196 2445 1197 2444 1198C2443 1199 2441 1200 2440 1201C2438 1202 2436 1203 2434 1203C2431 1203 2429 1204 2426 1204C2424 1204 2421 1203 2419 1203C2417 1203 2415 1202 2413 1201C2411 1200 2410 1199 2409 1198C2408 1197 2408 1196 2408 1195C2408 1193 2408 1192 2409 1191C2410 1190 2411 1189 2413 1188C2415 1187 2417 1186 2419 1186C2421 1186 2424 1185 2426 1185C2429 1185 2431 1186 2434 1186C2436 1186 2438 1187 2440 1188C2441 1189 2443 1190 2444 1191C2445 1192 2445 1193 2445 1195Z"/>
<path fill="#3a58a9" d="M2522 1259C2522 1260 2522 1261 2521 1262C2521 1263 2520 1264 2519 1265C2518 1266 2516 1267 2515 1267C2513 1267 2511 1268 2510 1268C2508 1268 2507 1267 2505 1267C2504 1267 2502 1266 2501 1265C2500 1264 2499 1263 2498 1262C2498 1261 2497 1260 2497 1259C2497 1258 2498 1257 2498 1256C2499 1255 2500 1254 2501 1253C2502 1253 2504 1252 2505 1252C2507 1251 2508 1251 2510 1251C2511 1251 2513 1251 2515 1252C2516 1252 2518 1253 2519 1253C2520 1254 2521 1255 2521 1256C2522 1257 2522 1258 2522 1259Z"/>
<path fill="#3a58a9" d="M2248 1529C2248 1531 2247 1533 2247 1535C2246 1537 2245 1538 2244 1540C2243 1541 2241 1542 2239 1543C2238 1544 2236 1544 2234 1544C2233 1544 2231 1544 2229 1543C2228 1542 2226 1541 2225 1540C2224 1538 2223 1537 2222 1535C2221 1533 2221 1531 2221 1529C2221 1527 2221 1524 2222 1523C2223 1521 2224 1519 2225 1517C2226 1516 2228 1515 2229 1514C2231 1513 2233 1513 2234 1513C2236 1513 2238 1513 2239 1514C2241 1515 2243 1516 2244 1517C2245 1519 2246 1521 2247 1523C2247 1524 2248 1527 2248 1529Z"/>
<path fill="#3a58a9" d="M2205 1673C2211 1667 2227 1662 2234 1664C2241 1667 2239 1683 2247 1689C2254 1696 2273 1695 2280 1702C2287 1709 2291 1723 2289 1731C2286 1739 2276 1746 2268 1748C2259 1749 2248 1744 2238 1739C2229 1735 2220 1730 2213 1723C2207 1716 2202 1706 2201 1698C2199 1689 2199 1678 2205 1673Z"/>
<path fill="#3a58a9" d="M2289 1731C2294 1723 2319 1721 2330 1723C2342 1724 2354 1731 2360 1739C2365 1748 2369 1765 2364 1773C2359 1781 2341 1785 2330 1785C2319 1785 2304 1782 2297 1773C2290 1764 2283 1739 2289 1731Z"/>
<path fill="#3a58a9" d="M2410 1714C2415 1710 2435 1706 2443 1710C2451 1714 2458 1733 2456 1739C2454 1746 2438 1752 2431 1752C2423 1752 2413 1746 2410 1739C2406 1733 2404 1719 2410 1714Z"/>
<path fill="#3a58a9" d="M2577 1660C2581 1654 2600 1651 2606 1656C2612 1661 2614 1683 2610 1689C2606 1696 2586 1698 2581 1694C2575 1689 2573 1666 2577 1660Z"/>
<path fill="#3a58a9" d="M2105 1794C2105 1795 2105 1795 2104 1796C2104 1797 2104 1798 2103 1798C2102 1799 2102 1799 2101 1800C2100 1800 2099 1800 2099 1800C2098 1800 2097 1800 2096 1800C2095 1799 2095 1799 2094 1798C2094 1798 2093 1797 2093 1796C2092 1795 2092 1795 2092 1794C2092 1793 2092 1792 2093 1791C2093 1791 2094 1790 2094 1789C2095 1789 2095 1788 2096 1788C2097 1788 2098 1787 2099 1787C2099 1787 2100 1788 2101 1788C2102 1788 2102 1789 2103 1789C2104 1790 2104 1791 2104 1791C2105 1792 2105 1793 2105 1794Z"/>
<path fill="#111111" d="M2096 1499C2096 1500 2096 1500 2096 1501C2096 1501 2095 1502 2095 1502C2095 1502 2094 1503 2094 1503C2093 1503 2093 1503 2092 1503C2092 1503 2091 1503 2091 1503C2090 1503 2090 1502 2090 1502C2089 1502 2089 1501 2089 1501C2089 1500 2089 1500 2089 1499C2089 1499 2089 1498 2089 1498C2089 1497 2089 1497 2090 1497C2090 1496 2090 1496 2091 1496C2091 1496 2092 1496 2092 1496C2093 1496 2093 1496 2094 1496C2094 1496 2095 1496 2095 1497C2095 1497 2096 1497 2096 1498C2096 1498 2096 1499 2096 1499Z"/>
<path fill="#111111" d="M2407 1564C2407 1565 2407 1565 2407 1566C2407 1566 2406 1566 2406 1567C2406 1567 2405 1567 2405 1568C2404 1568 2404 1568 2403 1568C2403 1568 2402 1568 2402 1568C2402 1567 2401 1567 2401 1567C2400 1566 2400 1566 2400 1566C2400 1565 2400 1565 2400 1564C2400 1564 2400 1563 2400 1563C2400 1562 2400 1562 2401 1561C2401 1561 2402 1561 2402 1561C2402 1560 2403 1560 2403 1560C2404 1560 2404 1560 2405 1561C2405 1561 2406 1561 2406 1561C2406 1562 2407 1562 2407 1563C2407 1563 2407 1564 2407 1564Z"/>
<path fill="none" stroke="#111" stroke-width="1.4" stroke-linejoin="round" d="M2095 1500L2118 1500L2138 1500L2156 1498L2172 1494L2184 1489L2196 1482L2205 1475L2214 1464L2224 1447L2234 1421L2267 1307L2276 1279L2286 1251L2298 1224L2310 1199L2323 1175L2336 1154M2095 1500L2169 1523L2186 1530L2198 1536L2206 1544L2213 1553L2215 1564L2215 1578L2214 1591L2210 1609L2198 1651L2182 1694L2163 1735L2143 1771L2121 1803L2097 1833L2070 1861M2095 1501L2119 1517L2137 1531L2150 1544L2159 1557L2166 1571L2169 1587L2170 1605L2167 1623L2160 1649L2149 1679L2135 1708L2117 1737L2097 1765L2077 1790L2053 1814L2029 1835M2094 1502L2109 1518L2121 1535L2130 1551L2135 1566L2138 1582L2138 1600L2135 1618L2129 1638L2120 1661L2108 1683L2093 1706L2075 1729L2057 1750L2036 1771L2013 1790L1991 1805M2094 1502L2103 1520L2109 1537L2113 1552L2114 1568L2114 1584L2110 1602L2105 1619L2097 1636L2086 1656L2073 1675L2057 1694L2040 1712L2021 1729L2001 1744L1981 1759L1959 1771M2093 1502L2097 1517L2099 1533L2099 1549L2097 1565L2093 1580L2087 1597L2078 1614L2069 1629L2056 1645L2042 1660L2028 1675L2010 1689L1992 1703L1972 1715L1952 1725L1931 1735M2092 1502L2092 1518L2090 1534L2087 1547L2082 1562L2075 1576L2066 1590L2057 1603L2045 1616L2032 1629L2016 1642L2001 1653L1984 1664L1966 1674L1948 1683L1929 1691L1909 1697M2092 1502L2088 1515L2084 1528L2078 1540L2070 1554L2062 1565L2051 1577L2040 1588L2026 1600L1997 1619L1965 1636L1931 1649L1893 1658M2091 1502L2085 1514L2077 1525L2059 1546L2037 1565L2012 1581L1981 1596L1949 1607L1916 1615L1882 1619M2090 1502L2073 1519L2052 1536L2026 1551L1999 1562L1968 1571L1937 1577L1905 1580L1873 1581M2090 1501L2069 1514L2045 1526L2019 1535L1990 1542L1961 1546L1931 1547L1901 1546L1870 1542M2090 1501L2067 1509L2042 1515L2015 1519L1986 1521L1958 1520L1929 1518L1900 1513L1871 1505M2089 1500L2065 1503L2038 1504L2010 1503L1981 1499L1952 1494L1925 1487L1899 1478L1874 1468M2089 1499L2063 1496L2033 1491L2005 1485L1978 1477L1953 1468L1928 1457L1903 1444L1882 1432M2089 1498L2058 1487L2030 1477L2005 1466L1980 1454L1956 1441L1935 1427L1913 1412L1893 1396M2090 1498L2028 1460L1987 1431M2090 1497L2001 1413M2091 1497L2068 1463L2018 1398M2091 1496L2085 1478L2074 1455L2037 1387M2092 1496L2089 1474L2083 1448L2074 1420L2058 1379M2093 1496L2095 1472L2094 1445L2090 1415L2081 1375M2094 1497L2098 1484L2102 1471L2107 1444L2107 1415L2104 1376M2094 1497L2102 1486L2109 1474L2114 1462L2119 1449L2123 1434L2125 1418L2128 1382M2095 1498L2106 1487L2116 1478L2124 1467L2131 1455L2137 1443L2143 1428L2147 1410L2151 1392M2095 1498L2109 1491L2120 1484L2131 1476L2140 1468L2149 1458L2156 1446L2163 1434L2168 1422L2175 1400L2182 1374L2199 1272L2208 1228L2220 1184L2234 1145M2095 1499L2113 1495L2128 1490L2142 1484L2154 1477L2165 1469L2175 1460L2184 1449L2191 1437L2200 1417L2209 1391L2235 1282L2249 1234L2265 1189L2284 1147M2406 1564L2433 1566L2463 1569L2492 1574L2518 1581L2545 1589L2570 1598L2595 1609L2619 1622M2406 1565L2437 1573L2465 1582L2493 1592L2518 1603L2542 1615L2566 1629L2589 1643L2609 1658M2406 1565L2468 1598L2515 1627L2537 1643L2557 1658L2576 1674L2594 1692M2406 1566L2473 1620L2510 1653L2546 1689L2562 1708L2576 1726M2405 1567L2425 1591L2479 1653L2504 1683L2532 1721L2554 1759M2405 1567L2425 1604L2472 1680L2492 1715L2512 1754L2527 1790M2404 1567L2410 1591L2420 1619L2460 1711L2476 1751L2487 1786L2496 1819M2403 1567L2405 1594L2410 1625L2417 1656L2438 1731L2448 1769L2456 1809L2461 1845M2403 1567L2400 1582L2398 1600L2397 1618L2398 1637L2401 1673L2413 1752L2417 1790L2420 1831L2421 1868M2402 1567L2394 1585L2389 1603L2385 1623L2382 1645L2381 1686L2383 1771L2383 1809L2381 1850L2377 1887M2401 1566L2389 1584L2378 1605L2370 1626L2363 1650L2357 1693L2349 1784L2345 1822L2338 1863L2330 1898M2401 1566L2383 1582L2367 1601L2354 1623L2343 1648L2336 1670L2330 1694L2313 1788L2304 1831L2293 1870L2280 1907M2401 1565L2375 1579L2364 1587L2354 1596L2344 1606L2336 1617L2328 1628L2321 1642L2311 1663L2302 1689L2276 1786L2262 1829L2247 1870L2229 1907M2400 1565L2383 1569L2366 1575L2351 1581L2339 1588L2328 1595L2318 1604L2308 1614L2299 1627L2287 1647L2276 1672L2240 1775L2221 1821L2200 1864L2178 1901M2400 1564L2378 1564L2358 1566L2340 1568L2322 1573L2307 1579L2295 1585L2284 1594L2275 1604L2263 1620L2252 1643L2209 1748L2185 1800L2172 1824L2157 1847L2143 1868L2128 1888M2400 1563L2343 1551L2287 1542L2271 1540L2260 1541L2253 1542L2247 1546L2241 1553L2237 1563L2213 1637L2200 1673L2184 1711L2167 1746L2148 1780L2127 1813L2105 1841L2080 1868M2401 1563L2363 1543L2338 1527L2321 1512L2314 1503L2309 1495M2401 1562L2375 1538L2364 1526L2356 1515L2348 1504L2344 1493L2340 1483L2337 1469M2402 1562L2391 1547L2383 1534L2377 1521L2372 1509L2368 1496L2366 1482L2365 1469L2365 1455M2402 1561L2396 1547L2391 1532L2388 1519L2387 1505L2386 1491L2387 1478L2389 1464L2393 1449M2403 1561L2400 1546L2399 1532L2400 1519L2401 1505L2403 1492L2408 1476L2419 1449M2403 1561L2405 1546L2407 1532L2414 1506L2420 1493L2427 1479L2444 1455M2404 1561L2413 1536L2426 1512L2443 1488L2466 1465M2405 1561L2419 1539L2437 1518L2459 1498L2485 1480M2405 1562L2424 1543L2446 1526L2471 1510L2500 1497M2406 1562L2428 1548L2453 1535L2480 1525L2511 1517M2406 1563L2431 1553L2458 1546L2484 1541L2514 1538L2544 1537L2573 1539L2602 1543L2631 1549M2406 1563L2433 1559L2460 1557L2487 1557L2517 1559L2546 1563L2573 1569L2602 1577L2627 1586"/>
<path fill="none" stroke="#111" stroke-width="1.3" d="M2176 1489L2184 1489L2178 1495M2251 1348L2257 1342L2258 1350M2312 1188L2318 1184L2318 1192M2175 1522L2181 1528L2173 1529M2194 1672L2188 1677L2187 1669M2111 1821L2104 1824L2106 1816M2161 1552L2161 1560L2155 1555M2134 1716L2127 1720L2128 1712M2139 1571L2137 1579L2133 1572M2081 1729L2073 1732L2075 1724M2118 1582L2113 1588L2111 1580M2030 1726L2022 1728L2025 1721M2095 1585L2089 1590L2089 1582M1983 1712L1976 1713L1980 1706M2074 1583L2068 1587L2069 1579M1942 1689L1934 1688L1940 1682M2056 1577L2048 1580L2051 1572M2039 1567L2031 1568L2036 1561M2026 1554L2018 1554L2023 1548M2016 1539L2008 1537L2014 1532M2009 1523L2002 1520L2009 1516M2006 1506L2000 1502L2007 1499M2007 1489L2001 1483L2009 1482M2011 1472L2005 1466L2013 1466M2018 1457L2014 1450L2022 1451M2027 1443L2024 1436L2032 1438M2039 1432L2038 1424L2045 1428M2053 1423L2053 1415L2059 1420M2069 1417L2070 1409L2076 1415M2086 1415L2088 1407L2093 1413M2104 1416L2107 1408L2111 1415M2122 1421L2126 1414L2129 1421M2138 1430L2144 1424L2145 1432M2154 1443L2160 1439L2160 1447M2194 1280L2199 1274L2201 1282M2167 1463L2175 1460L2172 1468M2225 1307L2230 1301L2232 1309M2489 1570L2496 1575L2488 1577M2487 1586L2492 1592L2484 1593M2481 1602L2485 1609L2477 1608M2473 1615L2476 1623L2468 1620M2462 1627L2464 1635L2456 1632M2449 1637L2450 1645L2443 1640M2435 1644L2434 1652L2428 1646M2419 1648L2417 1656L2412 1650M2460 1813L2457 1821L2453 1814M2402 1649L2400 1657L2396 1650M2423 1818L2420 1825L2416 1818M2386 1647L2382 1654L2379 1647M2386 1817L2382 1824L2379 1816M2369 1641L2364 1647L2362 1639M2350 1809L2345 1816L2343 1809M2354 1632L2348 1637L2347 1629M2315 1796L2310 1802L2308 1795M2339 1618L2332 1622L2333 1614M2282 1776L2277 1782L2275 1774M2328 1600L2320 1602L2323 1595M2253 1748L2247 1754L2246 1746M2320 1577L2312 1577L2317 1571M2228 1710L2222 1715L2222 1707M2152 1862L2145 1866L2146 1858M2319 1550L2312 1546L2320 1544M2216 1636L2211 1642L2210 1634M2145 1791L2139 1795L2140 1787M2328 1522L2325 1515L2332 1517M2344 1502L2344 1494L2350 1499M2362 1488L2366 1480L2369 1487M2383 1480L2388 1474L2390 1481M2403 1478L2409 1473L2410 1481M2423 1480L2430 1476L2428 1484M2440 1486L2448 1483L2445 1491M2456 1496L2464 1494L2460 1501M2469 1508L2477 1508L2472 1514M2479 1522L2486 1523L2480 1529M2485 1537L2493 1540L2486 1544M2489 1554L2496 1558L2489 1561"/>
<path fill="none" stroke="#111" stroke-width="4" stroke-linecap="round" d="M2067 1197C2068 1204 2065 1230 2071 1243C2078 1255 2093 1261 2105 1272C2117 1282 2129 1296 2142 1305C2156 1314 2171 1320 2184 1326C2197 1332 2213 1332 2222 1339C2231 1346 2235 1355 2238 1368C2242 1381 2241 1399 2241 1418C2241 1437 2239 1465 2238 1481C2238 1497 2238 1508 2238 1514"/>
<path fill="none" stroke="#111" stroke-width="1.4" stroke-linecap="round" d="M2172 1233C2178 1239 2197 1262 2209 1271C2222 1279 2228 1283 2247 1286C2266 1288 2300 1285 2322 1286C2344 1286 2363 1284 2378 1289C2394 1294 2403 1306 2416 1316C2428 1325 2444 1335 2454 1346C2463 1356 2472 1363 2472 1380C2473 1397 2465 1423 2456 1447C2446 1471 2422 1503 2414 1522C2405 1541 2406 1555 2405 1562"/>
<path fill="none" stroke="#111" stroke-width="1.4" stroke-linecap="round" d="M2232 1353C2241 1353 2266 1353 2284 1353C2303 1353 2325 1350 2341 1353C2356 1356 2367 1361 2378 1372C2390 1383 2404 1400 2410 1418C2416 1436 2414 1457 2414 1481C2413 1504 2408 1547 2406 1560"/>
<path fill="none" stroke="#111" stroke-width="1.4" stroke-linecap="round" d="M2273 1154C2275 1162 2276 1188 2284 1203C2293 1217 2313 1228 2322 1240C2331 1253 2328 1267 2341 1278C2353 1289 2381 1295 2397 1304C2413 1314 2425 1323 2435 1334C2445 1346 2455 1355 2457 1372C2459 1389 2455 1415 2447 1439C2440 1462 2421 1494 2414 1514C2407 1534 2407 1552 2406 1560"/>
<path fill="none" stroke="#111" stroke-width="1.4" stroke-linecap="round" d="M2330 1158C2331 1165 2337 1187 2337 1203C2337 1219 2326 1238 2330 1252C2333 1266 2345 1277 2360 1286C2374 1294 2400 1295 2416 1304C2432 1314 2449 1328 2457 1342C2466 1356 2468 1373 2468 1391C2468 1408 2463 1427 2456 1447C2448 1468 2430 1495 2422 1514C2414 1533 2409 1553 2406 1561"/>
<path fill="none" stroke="#111" stroke-width="1.4" stroke-linecap="round" d="M2405 1188C2403 1197 2395 1225 2397 1240C2399 1255 2407 1269 2416 1278C2425 1287 2444 1287 2454 1297C2463 1306 2468 1320 2472 1334C2477 1348 2482 1362 2481 1380C2479 1399 2473 1423 2464 1447C2455 1471 2436 1503 2426 1522C2417 1541 2410 1555 2407 1562"/>
<path fill="none" stroke="#111" stroke-width="1.4" stroke-linecap="round" d="M2457 1203C2457 1212 2451 1242 2454 1259C2456 1276 2466 1290 2472 1304C2478 1319 2486 1331 2489 1347C2492 1362 2492 1379 2489 1397C2486 1415 2482 1434 2472 1456C2463 1477 2441 1509 2431 1526C2420 1544 2412 1556 2408 1562"/>
<path fill="none" stroke="#111" stroke-width="1.4" stroke-linecap="round" d="M1995 1240C1994 1250 1991 1281 1991 1297C1991 1312 1990 1322 1995 1334C2000 1347 2011 1359 2021 1372C2032 1385 2047 1391 2059 1410C2071 1428 2087 1470 2093 1485C2098 1499 2092 1495 2092 1497"/>
<path fill="none" stroke="#111" stroke-width="1.4" stroke-linecap="round" d="M2038 1234C2037 1243 2030 1268 2030 1284C2030 1301 2033 1319 2038 1334C2043 1350 2051 1359 2059 1376C2067 1394 2078 1419 2084 1439C2090 1459 2091 1488 2092 1497"/>
<path fill="none" stroke="#111" stroke-width="1.4" stroke-linecap="round" d="M1946 1322C1945 1330 1933 1359 1938 1372C1943 1385 1960 1387 1975 1397C1991 1407 2014 1419 2030 1430C2046 1442 2061 1453 2071 1464C2082 1475 2088 1492 2091 1497"/>
<path fill="none" stroke="#111" stroke-width="1.4" stroke-linecap="round" d="M2105 1222C2108 1230 2117 1255 2122 1272C2126 1288 2130 1304 2130 1322C2130 1340 2126 1361 2122 1380C2117 1400 2110 1419 2105 1439C2100 1458 2095 1488 2093 1497"/>
<path fill="none" stroke="#111" stroke-width="1.4" stroke-linecap="round" d="M2138 1197C2142 1206 2154 1234 2163 1251C2173 1268 2190 1279 2197 1297C2204 1314 2209 1336 2205 1355C2201 1375 2186 1396 2172 1414C2158 1432 2134 1450 2122 1464C2109 1478 2099 1492 2094 1498"/>
<path fill="none" stroke="#111" stroke-width="4" stroke-linecap="round" d="M2247 1585C2242 1592 2225 1612 2218 1627C2210 1641 2205 1658 2201 1673C2196 1687 2191 1700 2190 1714C2190 1729 2191 1749 2197 1760C2203 1772 2216 1775 2226 1785C2236 1796 2245 1806 2255 1823C2265 1840 2280 1879 2284 1890"/>
<path fill="none" stroke="#111" stroke-width="5" d="M2278 1748C2277 1750 2277 1752 2276 1753C2275 1755 2274 1756 2273 1758C2272 1759 2270 1760 2269 1761C2267 1762 2265 1763 2263 1764C2262 1764 2260 1764 2258 1765C2256 1765 2254 1765 2252 1764C2250 1764 2248 1763 2246 1763C2244 1762 2242 1761 2241 1760C2239 1758 2238 1757 2237 1756C2236 1754 2235 1753 2234 1751C2233 1749 2233 1747 2232 1746C2232 1744 2232 1742 2233 1740C2233 1739 2233 1737 2234 1736C2235 1734 2236 1732 2237 1731C2239 1730 2240 1729 2242 1728C2243 1727 2245 1726 2247 1725C2249 1725 2251 1724 2253 1724C2255 1724 2257 1724 2259 1725C2261 1725 2263 1726 2264 1726C2266 1727 2268 1728 2269 1729C2271 1731 2272 1732 2274 1733C2275 1735 2276 1736 2277 1738C2277 1740 2278 1741 2278 1743C2278 1745 2278 1747 2278 1748Z"/>
<path fill="none" stroke="#111" stroke-width="2" d="M2272 1747C2272 1749 2272 1750 2271 1751C2271 1752 2270 1753 2269 1754C2268 1755 2267 1756 2266 1756C2265 1757 2263 1758 2262 1758C2261 1758 2259 1759 2258 1759C2256 1759 2255 1759 2254 1758C2252 1758 2251 1758 2249 1757C2248 1757 2247 1756 2246 1755C2245 1754 2243 1753 2243 1752C2242 1751 2241 1750 2241 1749C2240 1748 2240 1747 2239 1745C2239 1744 2239 1743 2240 1742C2240 1740 2240 1739 2241 1738C2241 1737 2242 1736 2243 1735C2244 1734 2245 1733 2246 1733C2247 1732 2249 1731 2250 1731C2251 1731 2253 1730 2254 1730C2256 1730 2257 1730 2258 1730C2260 1731 2261 1731 2263 1732C2264 1732 2265 1733 2266 1734C2267 1735 2269 1736 2269 1737C2270 1738 2271 1739 2271 1740C2272 1741 2272 1742 2273 1744C2273 1745 2273 1746 2272 1747Z"/>
<path fill="none" stroke="#111" stroke-width="1.5" d="M2268 1747C2267 1748 2267 1748 2267 1749C2266 1750 2266 1750 2265 1751C2265 1752 2264 1752 2263 1753C2263 1753 2262 1753 2261 1754C2260 1754 2259 1754 2258 1754C2257 1754 2256 1754 2255 1754C2254 1754 2253 1754 2253 1753C2252 1753 2251 1752 2250 1752C2249 1751 2249 1751 2248 1750C2248 1749 2247 1749 2247 1748C2246 1747 2246 1746 2246 1745C2246 1745 2246 1744 2246 1743C2246 1742 2247 1741 2247 1741C2247 1740 2248 1739 2248 1739C2249 1738 2250 1738 2250 1737C2251 1737 2252 1736 2253 1736C2254 1736 2255 1736 2256 1736C2257 1736 2258 1736 2258 1736C2259 1736 2260 1736 2261 1737C2262 1737 2263 1737 2264 1738C2264 1739 2265 1739 2266 1740C2266 1740 2267 1741 2267 1742C2267 1743 2267 1744 2268 1744C2268 1745 2268 1746 2268 1747Z"/>
<path fill="none" stroke="#111" stroke-width="1.5" d="M2263 1746C2263 1747 2263 1747 2263 1747C2262 1748 2262 1748 2262 1748C2262 1749 2261 1749 2261 1749C2261 1749 2260 1750 2260 1750C2259 1750 2259 1750 2258 1750C2258 1750 2257 1750 2257 1750C2256 1750 2256 1750 2256 1749C2255 1749 2255 1749 2254 1749C2254 1748 2254 1748 2253 1748C2253 1748 2253 1747 2253 1747C2252 1746 2252 1746 2252 1746C2252 1745 2252 1745 2252 1744C2252 1744 2253 1744 2253 1743C2253 1743 2253 1743 2253 1742C2254 1742 2254 1742 2254 1741C2255 1741 2255 1741 2256 1741C2256 1741 2257 1741 2257 1741C2258 1741 2258 1741 2258 1741C2259 1741 2259 1741 2260 1741C2260 1741 2261 1742 2261 1742C2261 1742 2262 1742 2262 1743C2262 1743 2263 1743 2263 1744C2263 1744 2263 1745 2263 1745C2263 1745 2263 1746 2263 1746Z"/>
<path fill="none" stroke="#111" stroke-width="3" stroke-linecap="round" d="M2289 1760C2296 1761 2316 1762 2330 1765C2344 1767 2358 1767 2372 1773C2386 1778 2407 1794 2414 1798"/>
</g>
<circle cx="2251" cy="1526.5" r="379.5" fill="none" stroke="#1a1a1a" stroke-width="1.7"/>
<clipPath id="c6"><circle cx="880.5" cy="2566.5" r="293"/></clipPath>
<g clip-path="url(#c6)">
<circle cx="880" cy="2566" r="295" fill="#4fa5d8"/>
<path fill="#68c1b5" d="M1166 2566C1166 2603 1159 2642 1145 2676C1131 2710 1108 2743 1083 2769C1057 2794 1024 2817 990 2831C956 2845 917 2852 880 2852C844 2852 805 2845 771 2831C737 2817 704 2794 678 2769C653 2743 630 2710 616 2676C602 2642 595 2603 595 2566C595 2530 602 2491 616 2457C630 2423 653 2390 678 2364C704 2339 737 2316 771 2302C805 2288 844 2281 880 2281C917 2281 956 2288 990 2302C1024 2316 1057 2339 1083 2364C1108 2390 1131 2423 1145 2457C1159 2491 1166 2530 1166 2566Z"/>
<path fill="#4fa5d8" d="M800 2293C811 2278 854 2282 877 2280C901 2278 918 2280 942 2283C965 2286 1006 2287 1019 2299C1032 2311 1021 2337 1019 2354C1017 2371 1014 2390 1006 2402C999 2415 985 2422 974 2428C963 2434 952 2429 942 2441C931 2453 918 2478 913 2499C907 2519 912 2549 909 2563C907 2577 902 2580 897 2583C891 2585 885 2584 877 2579C870 2575 859 2570 852 2557C844 2543 838 2519 832 2499C827 2478 823 2456 819 2434C816 2413 813 2394 810 2370C806 2346 789 2308 800 2293Z"/>
<path fill="#4fa5d8" d="M755 2740C759 2731 768 2722 781 2718C793 2714 814 2712 829 2715C844 2717 860 2723 871 2731C882 2739 890 2751 893 2763C897 2775 896 2793 890 2802C885 2810 874 2812 861 2814C848 2817 827 2817 813 2814C798 2812 784 2808 774 2802C765 2795 758 2786 755 2776C752 2766 751 2750 755 2740Z"/>
<path fill="#67bc6f" d="M594 2483C598 2451 607 2449 620 2434C632 2420 651 2409 668 2396C685 2383 708 2368 723 2357C737 2346 747 2328 755 2331C762 2335 765 2363 768 2380C771 2397 770 2417 774 2434C779 2452 787 2467 794 2483C800 2499 811 2512 813 2531C815 2550 811 2577 806 2595C802 2614 796 2629 787 2644C779 2658 767 2672 755 2682C743 2693 731 2700 716 2708C702 2717 684 2732 668 2734C652 2736 632 2736 620 2718C607 2700 598 2667 594 2628C590 2589 590 2515 594 2483Z"/>
<path fill="#5db43f" d="M600 2499C605 2473 615 2456 626 2441C637 2426 652 2422 668 2409C684 2395 709 2373 723 2360C737 2348 745 2331 752 2335C759 2338 761 2364 765 2380C768 2395 767 2411 771 2428C775 2445 782 2462 787 2480C792 2497 798 2512 800 2531C802 2550 800 2577 797 2595C794 2614 789 2630 781 2644C773 2657 759 2668 748 2676C738 2684 727 2685 716 2692C706 2699 695 2712 684 2718C673 2723 664 2729 652 2724C640 2720 622 2714 613 2692C604 2671 599 2628 597 2595C595 2563 596 2525 600 2499Z"/>
<path fill="#67bc6f" d="M665 2660C671 2655 692 2655 700 2660C709 2665 719 2684 716 2692C714 2700 693 2708 684 2708C675 2708 665 2700 662 2692C658 2684 658 2665 665 2660Z"/>
<path fill="#67bc6f" d="M1022 2370C1032 2364 1054 2364 1070 2370C1087 2377 1105 2393 1119 2409C1133 2425 1146 2444 1154 2467C1163 2490 1168 2520 1170 2547C1172 2574 1171 2601 1167 2628C1163 2655 1156 2687 1148 2708C1140 2730 1132 2740 1119 2756C1106 2773 1087 2795 1070 2805C1054 2814 1038 2817 1022 2814C1006 2812 988 2801 974 2789C959 2776 945 2759 935 2740C926 2722 918 2700 916 2676C914 2652 917 2619 922 2595C928 2572 937 2559 948 2538C959 2516 979 2488 990 2467C1001 2445 1007 2425 1013 2409C1018 2393 1013 2377 1022 2370Z"/>
<path fill="#5db43f" d="M1038 2370C1049 2364 1073 2372 1087 2380C1100 2388 1109 2404 1119 2418C1129 2433 1140 2448 1148 2467C1155 2485 1161 2510 1164 2531C1167 2553 1168 2574 1167 2595C1166 2617 1163 2638 1157 2660C1152 2681 1144 2705 1135 2724C1126 2743 1116 2762 1103 2773C1089 2783 1070 2788 1054 2789C1038 2789 1019 2784 1006 2776C993 2768 984 2754 974 2740C964 2726 956 2708 948 2692C941 2676 930 2663 929 2644C928 2625 934 2598 942 2579C949 2561 963 2550 974 2531C985 2512 998 2485 1006 2467C1014 2448 1017 2434 1022 2418C1028 2402 1028 2377 1038 2370Z"/>
<path fill="#67bc6f" d="M1064 2595C1072 2588 1093 2584 1103 2589C1112 2594 1121 2613 1122 2628C1123 2642 1118 2668 1109 2676C1101 2683 1079 2680 1070 2673C1062 2666 1059 2647 1058 2634C1057 2621 1057 2603 1064 2595Z"/>
<path fill="#93c63d" d="M765 2518C765 2524 764 2529 762 2534C760 2539 757 2544 754 2548C751 2552 747 2555 743 2557C739 2559 734 2560 729 2560C725 2560 720 2559 716 2557C711 2555 707 2552 704 2548C701 2544 698 2539 696 2534C695 2529 694 2524 694 2518C694 2513 695 2507 696 2502C698 2497 701 2492 704 2489C707 2485 711 2482 716 2480C720 2477 725 2476 729 2476C734 2476 739 2477 743 2480C747 2482 751 2485 754 2489C757 2492 760 2497 762 2502C764 2507 765 2513 765 2518Z"/>
<path fill="#d6de3c" d="M748 2518C748 2521 748 2525 747 2527C746 2530 745 2533 743 2535C741 2537 739 2539 737 2541C734 2542 732 2542 729 2542C727 2542 724 2542 722 2541C720 2539 717 2537 716 2535C714 2533 712 2530 711 2527C710 2525 710 2521 710 2518C710 2515 710 2512 711 2509C712 2506 714 2503 716 2501C717 2499 720 2497 722 2496C724 2495 727 2494 729 2494C732 2494 734 2495 737 2496C739 2497 741 2499 743 2501C745 2503 746 2506 747 2509C748 2512 748 2515 748 2518Z"/>
<path fill="#f2a130" d="M742 2515C742 2517 742 2519 741 2521C740 2523 739 2525 738 2526C737 2528 736 2529 734 2530C733 2531 731 2531 729 2531C728 2531 726 2531 724 2530C723 2529 721 2528 720 2526C719 2525 718 2523 717 2521C717 2519 716 2517 716 2515C716 2513 717 2511 717 2509C718 2507 719 2505 720 2504C721 2502 723 2501 724 2500C726 2499 728 2499 729 2499C731 2499 733 2499 734 2500C736 2501 737 2502 738 2504C739 2505 740 2507 741 2509C742 2511 742 2513 742 2515Z"/>
<path fill="#93c63d" d="M1077 2583C1077 2587 1076 2592 1074 2596C1072 2600 1068 2604 1065 2608C1061 2611 1056 2614 1051 2615C1046 2617 1040 2618 1035 2618C1030 2618 1024 2617 1019 2615C1014 2614 1009 2611 1005 2608C1002 2604 998 2600 996 2596C994 2592 993 2587 993 2583C993 2578 994 2573 996 2569C998 2565 1002 2561 1005 2558C1009 2554 1014 2552 1019 2550C1024 2548 1030 2547 1035 2547C1040 2547 1046 2548 1051 2550C1056 2552 1061 2554 1065 2558C1068 2561 1072 2565 1074 2569C1076 2573 1077 2578 1077 2583Z"/>
<path fill="#d6de3c" d="M1054 2589C1054 2592 1054 2594 1053 2596C1052 2599 1050 2601 1048 2603C1046 2604 1043 2606 1040 2607C1038 2608 1035 2608 1032 2608C1029 2608 1026 2608 1023 2607C1021 2606 1018 2604 1016 2603C1014 2601 1012 2599 1011 2596C1010 2594 1009 2592 1009 2589C1009 2587 1010 2584 1011 2582C1012 2579 1014 2577 1016 2575C1018 2574 1021 2572 1023 2571C1026 2570 1029 2570 1032 2570C1035 2570 1038 2570 1040 2571C1043 2572 1046 2574 1048 2575C1050 2577 1052 2579 1053 2582C1054 2584 1054 2587 1054 2589Z"/>
<path fill="#3a58a9" d="M890 2460C894 2452 903 2448 909 2447C916 2446 927 2448 932 2454C937 2459 941 2470 942 2480C943 2489 942 2501 938 2509C935 2516 929 2522 922 2525C915 2527 903 2526 897 2521C890 2517 886 2506 885 2496C884 2485 886 2468 890 2460Z"/>
<path fill="#111111" d="M732 2547C732 2548 732 2549 732 2550C731 2551 730 2552 730 2553C729 2554 728 2554 726 2555C725 2555 724 2555 723 2555C721 2555 720 2555 719 2555C718 2554 717 2554 716 2553C715 2552 714 2551 714 2550C713 2549 713 2548 713 2547C713 2546 713 2545 714 2544C714 2543 715 2542 716 2541C717 2541 718 2540 719 2540C720 2539 721 2539 723 2539C724 2539 725 2539 726 2540C728 2540 729 2541 730 2541C730 2542 731 2543 732 2544C732 2545 732 2546 732 2547Z"/>
<path fill="#111111" d="M1056 2586C1056 2586 1056 2587 1055 2587C1055 2587 1054 2588 1053 2588C1052 2588 1051 2588 1050 2588C1049 2588 1047 2587 1046 2587C1045 2586 1044 2586 1043 2585C1042 2585 1041 2584 1041 2583C1040 2583 1040 2582 1040 2581C1039 2581 1039 2580 1039 2580C1040 2579 1040 2578 1041 2578C1041 2578 1042 2578 1043 2577C1044 2577 1045 2577 1046 2578C1047 2578 1048 2578 1049 2578C1051 2579 1052 2579 1053 2580C1054 2580 1054 2581 1055 2582C1056 2582 1056 2583 1056 2584C1057 2584 1057 2585 1056 2586Z"/>
<path fill="none" stroke="#111" stroke-width="1.4" stroke-linejoin="round" d="M1172 2579L1151 2574L1129 2570L1104 2566L1075 2563L1066 2564L1059 2565L1053 2568L1048 2573M1167 2620L1135 2602L1078 2574L1071 2572L1064 2571L1057 2572L1052 2573M1156 2661L1139 2643L1098 2605L1078 2585L1072 2581L1066 2578L1061 2576L1056 2576M1140 2699L1092 2625L1073 2592L1069 2586L1065 2583L1057 2579M1119 2734L1082 2643L1076 2625L1071 2604L1068 2596L1064 2588L1058 2582M1092 2767L1068 2662L1064 2634L1064 2601L1062 2593L1058 2585M1062 2795L1059 2762L1052 2695L1050 2667L1050 2651L1052 2637L1054 2625L1058 2610L1059 2603L1059 2594L1057 2587M1027 2818L1029 2781L1029 2704L1032 2671L1034 2653L1039 2638L1043 2627L1051 2611L1054 2603L1056 2596L1055 2589M990 2837L996 2795L1005 2709L1008 2688L1012 2671L1017 2654L1024 2640L1032 2626L1044 2612L1048 2606L1052 2598L1053 2591M951 2849L956 2827L962 2802L980 2707L985 2686L991 2668L1000 2649L1010 2634L1021 2623L1038 2610L1043 2605L1049 2598L1051 2592M910 2857L919 2832L927 2803L948 2721L954 2699L962 2678L970 2660L981 2642L988 2634L995 2627L1004 2621L1011 2616L1031 2608L1038 2604L1045 2598L1049 2592M868 2858L881 2829L894 2796L904 2766L922 2705L930 2682L938 2663L947 2646L955 2636L962 2628L971 2621L980 2615L990 2611L1002 2607L1012 2605L1026 2603L1033 2601L1041 2598L1047 2592M827 2853L844 2822L858 2790L874 2749L896 2679L903 2657L913 2635L919 2626L924 2619L933 2610L941 2604L951 2599L963 2596L975 2594L989 2593L1001 2594L1019 2597L1027 2597L1038 2596L1045 2592M786 2842L805 2815L821 2785L835 2753L848 2719L859 2678L867 2640L869 2624L870 2610L870 2600L868 2589L866 2581L861 2573L854 2566L845 2560L832 2552L811 2542L776 2526L758 2520L749 2518L740 2518L732 2519L725 2522L720 2527L715 2532L713 2539L713 2544M748 2826L767 2803L783 2778L798 2750L810 2723L820 2694L826 2667L829 2642L829 2630L828 2620L826 2608L822 2596L817 2585L810 2574L802 2563L791 2551L778 2540L767 2531L759 2527L751 2523L743 2522L734 2523L726 2525L720 2530L716 2535L714 2542M713 2805L731 2786L747 2765L761 2743L774 2720L785 2696L792 2672L797 2650L798 2629L798 2616L797 2604L794 2592L790 2580L785 2567L779 2557L772 2546L766 2538L759 2533L753 2529L745 2526L738 2526L729 2527L723 2530L718 2535L716 2540M680 2778L699 2762L716 2744L731 2725L744 2706L755 2686L764 2665L770 2645L775 2624L777 2602L775 2581L771 2562L768 2554L764 2546L758 2539L753 2535L747 2531L740 2529L733 2529L726 2531L720 2535L717 2539M652 2748L671 2734L687 2721L703 2705L717 2689L730 2670L741 2652L750 2633L757 2615L762 2597L764 2579L764 2563L760 2552L757 2545L752 2540L747 2536L742 2534L735 2532L730 2532L725 2534L721 2537M629 2713L646 2704L664 2693L680 2680L696 2667L711 2652L724 2637L735 2621L745 2605L753 2589L757 2575L757 2565L755 2555L753 2548L750 2544L746 2540L741 2537L737 2535L731 2535L726 2535L723 2537M610 2676L627 2670L645 2663L662 2654L679 2645L696 2633L712 2621L725 2609L736 2598L744 2587L749 2577L751 2567L751 2558L749 2553L747 2548L742 2541L737 2539L734 2537L729 2537L725 2538M598 2637L615 2634L632 2631L649 2626L668 2621L686 2614L702 2607L716 2600L726 2593L734 2586L740 2579L744 2572L745 2563L745 2554L741 2546L736 2541L729 2539M590 2596L625 2598L662 2597L694 2594L706 2592L716 2589L724 2585L731 2579L736 2573L739 2566L740 2558L739 2551L735 2545L731 2542M589 2554L622 2565L660 2576L685 2582L703 2583L712 2582L718 2579L726 2575L731 2570L735 2564L736 2557L736 2550L733 2546M594 2513L623 2533L666 2560L683 2570L694 2574L703 2575L710 2575L717 2573L723 2570L728 2566L731 2561L733 2555L732 2549M605 2472L671 2548L681 2558L688 2563L694 2566L701 2568L708 2569L715 2569L721 2566L725 2563L730 2558L731 2553M621 2434L654 2494L677 2540L685 2551L690 2556L695 2560L702 2563L709 2565L716 2565L721 2563L725 2560L728 2556M642 2399L667 2474L673 2496L681 2530L685 2541L689 2547L693 2553L699 2557L703 2560L710 2562L715 2562L721 2560L725 2558M669 2366L680 2434L684 2460L686 2486L686 2523L689 2535L691 2542L694 2546L698 2552L702 2555L707 2558L712 2559L717 2559L722 2558M699 2338L703 2419L703 2451L700 2479L693 2517L692 2529L693 2536L695 2541L698 2547L702 2551L706 2554L710 2557L716 2558L721 2557M734 2315L727 2408L723 2443L719 2458L715 2472L711 2485L700 2511L698 2517L697 2524L697 2531L697 2537L699 2542L701 2546L705 2550L709 2554L713 2556L717 2556M771 2296L764 2329L752 2402L748 2423L743 2440L738 2454L732 2469L724 2483L706 2509L703 2515L701 2522L700 2529L700 2534L701 2539L703 2544L708 2551L713 2554L716 2555M810 2284L799 2321L778 2402L772 2422L765 2440L757 2456L747 2471L736 2484L714 2507L709 2514L705 2522L703 2532L704 2541L708 2549L714 2553M851 2276L835 2319L806 2402L799 2420L793 2434L780 2456L773 2465L765 2473L749 2487L722 2506L717 2510L712 2516L707 2525L706 2530L706 2536L707 2544L710 2549L713 2551M893 2275L882 2297L871 2321L833 2414L823 2433L814 2448L807 2458L799 2467L790 2475L782 2482L773 2488L763 2492L729 2507L723 2510L718 2515L712 2523L709 2528L708 2533L708 2542L710 2547L713 2549M934 2280L919 2305L904 2333L891 2360L868 2412L858 2432L848 2451L837 2465L829 2474L820 2482L810 2489L799 2495L789 2498L777 2502L739 2508L731 2511L725 2514L717 2521L714 2526L711 2530L710 2539L711 2544L712 2547M975 2291L956 2316L940 2343L921 2379L893 2442L884 2461L872 2480L861 2494L851 2502L842 2507L831 2511L819 2514L806 2515L794 2516L747 2512L740 2513L733 2515L724 2519L720 2523L716 2527L713 2531L712 2536L712 2541L712 2545M1013 2307L994 2330L976 2356L960 2383L946 2412L934 2445L924 2477L919 2504L918 2516L918 2525L920 2535L922 2540L926 2545L933 2552L944 2558L957 2564L994 2579L1019 2591L1026 2593L1033 2593L1039 2593L1043 2591M1048 2328L1031 2346L1016 2365L1002 2385L990 2407L979 2429L972 2450L967 2471L965 2488L966 2504L969 2520L975 2534L984 2547L999 2565L1018 2583L1024 2587L1029 2589L1035 2590L1041 2590M1081 2355L1065 2369L1050 2384L1037 2400L1026 2416L1016 2433L1008 2450L1003 2467L999 2483L997 2500L998 2516L1001 2531L1006 2548L1015 2567L1020 2576L1025 2581L1029 2584L1034 2587L1039 2588M1109 2385L1095 2396L1081 2407L1069 2420L1059 2432L1048 2446L1040 2459L1033 2473L1028 2486L1023 2503L1020 2521L1019 2538L1021 2556L1022 2566L1026 2574L1031 2581L1036 2584L1039 2585M1132 2420L1119 2428L1107 2436L1086 2454L1076 2464L1066 2474L1058 2486L1051 2497L1044 2510L1038 2524L1033 2539L1029 2555L1029 2564L1030 2571L1033 2577L1038 2582M1151 2457L1127 2468L1106 2481L1085 2497L1067 2514L1050 2534L1043 2546L1038 2553L1036 2560L1035 2567L1036 2574L1038 2579M1163 2496L1140 2503L1118 2510L1097 2520L1076 2532L1056 2546L1047 2555L1043 2561L1041 2566L1040 2571L1040 2576M1171 2537L1146 2538L1122 2541L1096 2546L1068 2553L1059 2557L1051 2562L1046 2568L1043 2575"/>
<path fill="none" stroke="#111" stroke-width="1.3" d="M1090 2568L1083 2564L1091 2561M1092 2585L1087 2579L1095 2579M1094 2606L1091 2599L1099 2601M1092 2631L1091 2623L1098 2628M1084 2659L1085 2651L1091 2656M1070 2687L1072 2679L1077 2685M1050 2713L1053 2705L1057 2712M1026 2735L1029 2728L1033 2736M997 2754L1001 2747L1004 2755M965 2768L970 2762L972 2769M1029 2613L1037 2611L1033 2618M931 2777L936 2771L937 2778M997 2621L1005 2620L1001 2627M895 2780L901 2774L902 2782M962 2624L970 2622L967 2629M859 2777L865 2772L866 2780M920 2618L928 2615L925 2623M824 2769L830 2764L831 2772M867 2607L870 2600L874 2607M742 2521L734 2519L740 2514M791 2756L797 2751L797 2759M818 2596L818 2588L825 2593M760 2738L767 2733L766 2741M786 2579L786 2571L792 2576M733 2716L740 2712L739 2719M767 2558L766 2550L773 2555M711 2691L718 2687L717 2695M750 2541L745 2535L753 2535M694 2664L702 2661L699 2669M683 2638L691 2637L687 2643M677 2614L685 2615L679 2620M673 2593L680 2596L673 2600M669 2574L675 2579L668 2581M665 2555L669 2562L661 2562M662 2532L664 2540L657 2537M663 2505L664 2513L657 2508M672 2476L670 2484L665 2478M686 2447L684 2455L679 2448M706 2421L703 2428L699 2421M731 2398L727 2404L724 2397M760 2378L755 2385L753 2377M703 2535L702 2543L697 2537M792 2364L787 2370L785 2362M713 2512L707 2517L707 2509M826 2355L820 2361L819 2353M739 2499L731 2500L735 2493M862 2352L856 2357L855 2349M770 2493L762 2493L767 2487M898 2354L892 2359L892 2351M805 2496L797 2495L803 2489M934 2362L928 2367L928 2359M847 2509L839 2508L844 2502M968 2376L962 2381L962 2373M922 2534L923 2542L916 2538M1001 2395L994 2399L994 2391M990 2549L992 2557L985 2554M1029 2418L1022 2423L1023 2415M1022 2574L1025 2581L1017 2579M1053 2445L1046 2449L1047 2441M1071 2474L1064 2477L1066 2470M1083 2503L1076 2505L1078 2498M1088 2529L1080 2530L1085 2523M1090 2551L1082 2549L1088 2544"/>
<path fill="none" stroke="#111" stroke-width="3" stroke-linecap="round" d="M758 2850C762 2844 772 2828 781 2814C790 2801 803 2783 813 2769C823 2755 831 2744 839 2731C847 2718 855 2707 861 2692C867 2678 870 2660 874 2644C878 2628 882 2604 884 2595"/>
<path fill="none" stroke="#111" stroke-width="1.5" stroke-linecap="round" d="M748 2847C753 2841 764 2824 774 2811C784 2798 800 2782 810 2768C819 2753 825 2738 832 2724C839 2711 847 2699 852 2686C856 2672 860 2651 861 2644"/>
<path fill="none" stroke="#111" stroke-width="1.5" stroke-linecap="round" d="M768 2851C772 2846 783 2831 790 2818C798 2804 805 2785 814 2771C824 2757 836 2746 845 2734C854 2722 864 2712 871 2699C878 2685 883 2668 887 2653C891 2639 895 2619 897 2612"/>
<path fill="none" stroke="#111" stroke-width="1.5" stroke-linecap="round" d="M777 2853C781 2848 793 2834 800 2821C807 2807 808 2785 817 2772C825 2759 841 2751 852 2740C862 2730 872 2721 880 2708C889 2696 899 2673 903 2666"/>
<path fill="none" stroke="#111" stroke-width="1.5" stroke-linecap="round" d="M739 2842C744 2836 756 2821 768 2808C779 2795 798 2781 808 2766C818 2751 820 2733 826 2718C831 2703 839 2690 842 2676C845 2662 845 2641 845 2634"/>
</g>
<circle cx="880.5" cy="2566.5" r="292.5" fill="none" stroke="#1a1a1a" stroke-width="1.7"/>
<clipPath id="c7"><circle cx="1521.5" cy="2522.5" r="337"/></clipPath>
<g clip-path="url(#c7)">
<circle cx="1522" cy="2522" r="339" fill="#4fa5d8"/>
<path fill="#67bc6f" d="M1852 2522C1852 2565 1843 2610 1827 2649C1811 2688 1785 2727 1755 2756C1726 2786 1687 2812 1648 2828C1609 2844 1564 2853 1522 2853C1479 2853 1434 2844 1395 2828C1356 2812 1317 2786 1288 2756C1258 2727 1232 2688 1216 2649C1200 2610 1191 2565 1191 2522C1191 2480 1200 2435 1216 2396C1232 2357 1258 2318 1288 2289C1317 2259 1356 2233 1395 2217C1434 2201 1479 2192 1522 2192C1564 2192 1609 2201 1648 2217C1687 2233 1726 2259 1755 2289C1785 2318 1811 2357 1827 2396C1843 2435 1852 2480 1852 2522Z"/>
<path fill="#68c1b5" d="M1222 2297C1238 2268 1265 2253 1296 2237C1326 2222 1370 2211 1407 2204C1444 2197 1481 2196 1518 2197C1555 2197 1592 2200 1629 2208C1666 2216 1709 2229 1740 2245C1771 2261 1796 2283 1814 2304C1833 2325 1845 2310 1851 2371C1857 2431 1857 2605 1851 2667C1845 2729 1833 2716 1814 2741C1796 2766 1771 2797 1740 2815C1709 2833 1666 2842 1629 2848C1592 2855 1555 2853 1518 2852C1481 2851 1444 2852 1407 2845C1370 2837 1325 2825 1296 2808C1266 2790 1245 2771 1229 2741C1213 2711 1205 2667 1199 2630C1193 2593 1192 2556 1192 2519C1192 2482 1194 2445 1199 2408C1204 2371 1205 2325 1222 2297Z"/>
<path fill="#4fa5d8" d="M1233 2304C1249 2277 1274 2263 1303 2248C1332 2234 1371 2222 1407 2215C1442 2208 1481 2207 1518 2208C1555 2208 1593 2211 1629 2219C1665 2227 1704 2240 1733 2256C1762 2271 1785 2291 1803 2311C1821 2332 1833 2344 1840 2378C1847 2413 1847 2474 1847 2519C1847 2564 1847 2613 1840 2648C1833 2684 1825 2704 1807 2730C1789 2756 1762 2786 1733 2804C1703 2822 1665 2831 1629 2837C1593 2843 1555 2842 1518 2841C1481 2840 1442 2841 1407 2834C1372 2826 1334 2813 1307 2797C1279 2780 1257 2761 1240 2734C1223 2706 1214 2666 1207 2630C1200 2594 1199 2556 1199 2519C1199 2482 1201 2443 1207 2408C1212 2372 1217 2331 1233 2304Z"/>
<path fill="#68c1b5" d="M1473 2489C1473 2503 1471 2519 1465 2532C1460 2545 1452 2558 1443 2568C1434 2578 1422 2586 1409 2592C1397 2597 1383 2600 1370 2600C1356 2600 1342 2597 1330 2592C1318 2586 1306 2578 1296 2568C1287 2558 1279 2545 1274 2532C1269 2519 1266 2503 1266 2489C1266 2475 1269 2460 1274 2447C1279 2434 1287 2421 1296 2411C1306 2401 1318 2392 1330 2387C1342 2381 1356 2378 1370 2378C1383 2378 1397 2381 1409 2387C1422 2392 1434 2401 1443 2411C1452 2421 1460 2434 1465 2447C1471 2460 1473 2475 1473 2489Z"/>
<path fill="#68c1b5" d="M1796 2534C1796 2551 1792 2569 1787 2585C1781 2600 1772 2616 1761 2628C1750 2640 1736 2650 1722 2657C1708 2663 1692 2667 1677 2667C1662 2667 1646 2663 1632 2657C1618 2650 1604 2640 1593 2628C1583 2616 1573 2600 1568 2585C1562 2569 1559 2551 1559 2534C1559 2517 1562 2498 1568 2483C1573 2467 1583 2451 1593 2439C1604 2427 1618 2417 1632 2410C1646 2404 1662 2400 1677 2400C1692 2400 1708 2404 1722 2410C1736 2417 1750 2427 1761 2439C1772 2451 1781 2467 1787 2483C1792 2498 1796 2517 1796 2534Z"/>
<path fill="#68c1b5" d="M1422 2297C1431 2285 1459 2285 1481 2282C1503 2279 1534 2276 1555 2278C1575 2281 1595 2286 1603 2297C1611 2307 1611 2329 1603 2341C1595 2353 1569 2363 1555 2371C1541 2379 1530 2389 1518 2389C1505 2389 1496 2377 1481 2371C1465 2364 1435 2364 1425 2352C1415 2340 1412 2308 1422 2297Z"/>
<path fill="#68c1b5" d="M1436 2574C1445 2567 1467 2565 1481 2567C1494 2569 1505 2578 1518 2585C1530 2593 1549 2598 1555 2611C1561 2625 1558 2653 1555 2667C1552 2681 1549 2692 1536 2697C1524 2701 1496 2701 1481 2697C1465 2692 1452 2681 1444 2667C1435 2653 1430 2627 1429 2611C1428 2596 1428 2582 1436 2574Z"/>
<path fill="#67bc6f" d="M1477 2363C1482 2354 1500 2364 1510 2371C1521 2377 1535 2389 1540 2400C1545 2411 1545 2429 1540 2437C1535 2445 1520 2450 1510 2448C1501 2447 1486 2440 1481 2426C1475 2412 1472 2373 1477 2363Z"/>
<path fill="#67bc6f" d="M1462 2487C1462 2499 1460 2512 1455 2523C1450 2534 1443 2544 1434 2553C1425 2561 1414 2568 1403 2573C1391 2577 1378 2580 1366 2580C1354 2580 1340 2577 1329 2573C1318 2568 1307 2561 1298 2553C1289 2544 1282 2534 1277 2523C1272 2512 1270 2499 1270 2487C1270 2476 1272 2463 1277 2452C1282 2441 1289 2430 1298 2422C1307 2414 1318 2406 1329 2402C1340 2397 1354 2395 1366 2395C1378 2395 1391 2397 1403 2402C1414 2406 1425 2414 1434 2422C1443 2430 1450 2441 1455 2452C1460 2463 1462 2476 1462 2487Z"/>
<path fill="#5db43f" d="M1447 2487C1447 2497 1445 2508 1441 2517C1437 2527 1431 2536 1424 2543C1416 2550 1407 2556 1397 2560C1388 2564 1376 2566 1366 2566C1356 2566 1344 2564 1335 2560C1325 2556 1316 2550 1308 2543C1301 2536 1295 2527 1291 2517C1287 2508 1284 2497 1284 2487C1284 2477 1287 2467 1291 2457C1295 2448 1301 2439 1308 2432C1316 2425 1325 2419 1335 2415C1344 2411 1356 2409 1366 2409C1376 2409 1388 2411 1397 2415C1407 2419 1416 2425 1424 2432C1431 2439 1437 2448 1441 2457C1445 2467 1447 2477 1447 2487Z"/>
<path fill="#93c63d" d="M1427 2491C1427 2499 1425 2507 1423 2514C1420 2521 1415 2528 1410 2533C1404 2538 1397 2543 1390 2546C1384 2549 1375 2550 1368 2550C1360 2550 1352 2549 1345 2546C1338 2543 1331 2538 1326 2533C1321 2528 1316 2521 1313 2514C1310 2507 1309 2499 1309 2491C1309 2483 1310 2475 1313 2468C1316 2461 1321 2454 1326 2449C1331 2444 1338 2439 1345 2436C1352 2433 1360 2432 1368 2432C1375 2432 1384 2433 1390 2436C1397 2439 1404 2444 1410 2449C1415 2454 1420 2461 1423 2468C1425 2475 1427 2483 1427 2491Z"/>
<path fill="#d6de3c" d="M1415 2491C1415 2498 1414 2505 1412 2511C1409 2517 1406 2523 1401 2528C1397 2532 1392 2536 1386 2539C1380 2541 1374 2543 1368 2543C1362 2543 1355 2541 1350 2539C1344 2536 1339 2532 1334 2528C1330 2523 1326 2517 1324 2511C1322 2505 1320 2498 1320 2491C1320 2484 1322 2477 1324 2471C1326 2465 1330 2459 1334 2454C1339 2450 1344 2446 1350 2443C1355 2441 1362 2439 1368 2439C1374 2439 1380 2441 1386 2443C1392 2446 1397 2450 1401 2454C1406 2459 1409 2465 1412 2471C1414 2477 1415 2484 1415 2491Z"/>
<path fill="#f2a130" d="M1397 2469C1400 2474 1402 2479 1403 2484C1404 2490 1404 2496 1403 2501C1402 2506 1400 2511 1397 2515C1395 2519 1391 2522 1387 2525C1383 2527 1378 2528 1373 2529C1368 2529 1363 2528 1358 2527C1353 2525 1348 2522 1344 2519C1340 2515 1336 2511 1333 2506C1330 2501 1328 2495 1327 2490C1326 2485 1326 2479 1327 2474C1328 2469 1330 2464 1333 2460C1336 2456 1340 2452 1344 2450C1348 2448 1353 2446 1358 2446C1362 2445 1368 2446 1373 2448C1378 2450 1383 2452 1387 2456C1391 2459 1395 2464 1397 2469Z"/>
<path fill="#e6522a" d="M1388 2468C1391 2472 1393 2476 1395 2480C1396 2484 1397 2488 1397 2492C1397 2496 1397 2500 1395 2503C1394 2507 1391 2510 1389 2512C1386 2515 1382 2516 1379 2517C1375 2518 1371 2518 1367 2517C1363 2517 1359 2515 1355 2513C1352 2510 1348 2507 1345 2504C1343 2501 1340 2497 1339 2493C1337 2489 1336 2484 1336 2480C1336 2476 1337 2472 1338 2469C1340 2466 1342 2462 1345 2460C1348 2458 1351 2456 1355 2455C1358 2454 1362 2454 1366 2455C1370 2456 1374 2458 1378 2460C1382 2462 1385 2465 1388 2468Z"/>
<path fill="#db2a27" d="M1373 2475C1373 2475 1374 2476 1374 2478C1374 2479 1374 2480 1374 2481C1374 2482 1373 2484 1372 2485C1371 2486 1370 2487 1369 2488C1368 2489 1367 2490 1366 2490C1364 2491 1363 2491 1362 2491C1361 2491 1359 2491 1358 2491C1357 2490 1356 2490 1356 2489C1355 2488 1354 2487 1354 2486C1354 2485 1354 2484 1354 2482C1355 2481 1355 2480 1356 2479C1357 2478 1358 2476 1359 2476C1360 2475 1361 2474 1363 2473C1364 2473 1365 2472 1366 2472C1368 2472 1369 2472 1370 2473C1371 2473 1372 2474 1373 2475Z"/>
<path fill="#67bc6f" d="M1762 2535C1762 2548 1760 2560 1755 2572C1751 2583 1743 2594 1735 2602C1727 2611 1716 2618 1705 2623C1694 2627 1681 2630 1670 2630C1658 2630 1645 2627 1634 2623C1623 2618 1613 2611 1604 2602C1596 2594 1589 2583 1584 2572C1580 2560 1577 2548 1577 2535C1577 2523 1580 2510 1584 2499C1589 2488 1596 2477 1604 2469C1613 2460 1623 2453 1634 2448C1645 2444 1658 2441 1670 2441C1681 2441 1694 2444 1705 2448C1716 2453 1727 2460 1735 2469C1743 2477 1751 2488 1755 2499C1760 2510 1762 2523 1762 2535Z"/>
<path fill="#5db43f" d="M1752 2535C1752 2546 1750 2558 1746 2568C1742 2578 1735 2588 1728 2595C1720 2603 1711 2609 1701 2613C1691 2618 1680 2620 1670 2620C1659 2620 1648 2618 1638 2613C1628 2609 1619 2603 1611 2595C1604 2588 1598 2578 1594 2568C1590 2558 1587 2546 1587 2535C1587 2525 1590 2513 1594 2503C1598 2493 1604 2483 1611 2476C1619 2468 1628 2462 1638 2457C1648 2453 1659 2451 1670 2451C1680 2451 1691 2453 1701 2457C1711 2462 1720 2468 1728 2476C1735 2483 1742 2493 1746 2503C1750 2513 1752 2525 1752 2535Z"/>
<path fill="#93c63d" d="M1731 2537C1731 2545 1729 2553 1726 2561C1723 2568 1719 2576 1713 2582C1708 2587 1701 2592 1694 2595C1687 2599 1679 2600 1671 2600C1664 2600 1656 2599 1649 2595C1642 2592 1635 2587 1630 2582C1624 2576 1620 2568 1617 2561C1614 2553 1612 2545 1612 2537C1612 2528 1614 2520 1617 2512C1620 2505 1624 2497 1630 2492C1635 2486 1642 2481 1649 2478C1656 2475 1664 2473 1671 2473C1679 2473 1687 2475 1694 2478C1701 2481 1708 2486 1713 2492C1719 2497 1723 2505 1726 2512C1729 2520 1731 2528 1731 2537Z"/>
<path fill="#d6de3c" d="M1721 2537C1721 2544 1720 2551 1718 2558C1715 2565 1711 2571 1707 2576C1702 2581 1697 2586 1691 2588C1685 2591 1678 2592 1671 2592C1665 2592 1658 2591 1652 2588C1646 2586 1641 2581 1636 2576C1632 2571 1628 2565 1625 2558C1623 2551 1621 2544 1621 2537C1621 2529 1623 2522 1625 2515C1628 2509 1632 2502 1636 2497C1641 2492 1646 2488 1652 2485C1658 2482 1665 2481 1671 2481C1678 2481 1685 2482 1691 2485C1697 2488 1702 2492 1707 2497C1711 2502 1715 2509 1718 2515C1720 2522 1721 2529 1721 2537Z"/>
<path fill="#f2a130" d="M1713 2537C1713 2543 1711 2549 1709 2555C1707 2561 1704 2566 1701 2571C1697 2575 1692 2579 1687 2581C1682 2583 1677 2585 1671 2585C1666 2585 1661 2583 1656 2581C1651 2579 1646 2575 1642 2571C1639 2566 1636 2561 1634 2555C1631 2549 1630 2543 1630 2537C1630 2530 1631 2524 1634 2518C1636 2512 1639 2507 1642 2503C1646 2498 1651 2494 1656 2492C1661 2490 1666 2488 1671 2488C1677 2488 1682 2490 1687 2492C1692 2494 1697 2498 1701 2503C1704 2507 1707 2512 1709 2518C1711 2524 1713 2530 1713 2537Z"/>
<path fill="#e6522a" d="M1702 2537C1702 2542 1701 2547 1700 2551C1698 2555 1696 2559 1693 2562C1690 2565 1687 2568 1683 2569C1680 2571 1675 2572 1671 2572C1668 2572 1663 2571 1660 2569C1656 2568 1653 2565 1650 2562C1647 2559 1645 2555 1643 2551C1642 2547 1641 2542 1641 2537C1641 2533 1642 2528 1643 2524C1645 2520 1647 2516 1650 2513C1653 2510 1656 2507 1660 2505C1663 2503 1668 2503 1671 2503C1675 2503 1680 2503 1683 2505C1687 2507 1690 2510 1693 2513C1696 2516 1698 2520 1700 2524C1701 2528 1702 2533 1702 2537Z"/>
<path fill="#5db43f" d="M1199 2408C1201 2377 1201 2386 1207 2389C1212 2392 1229 2405 1233 2426C1236 2448 1229 2488 1229 2519C1229 2550 1235 2590 1233 2611C1230 2633 1220 2655 1214 2648C1209 2642 1202 2614 1199 2574C1197 2534 1198 2439 1199 2408Z"/>
<path fill="#3a58a9" d="M1477 2230C1483 2225 1505 2221 1518 2219C1531 2216 1539 2215 1555 2215C1570 2216 1592 2216 1610 2223C1629 2229 1650 2241 1666 2252C1681 2263 1692 2277 1703 2289C1713 2302 1723 2316 1729 2326C1735 2337 1741 2345 1740 2352C1739 2360 1729 2369 1721 2371C1714 2373 1705 2368 1696 2363C1686 2358 1677 2346 1666 2341C1655 2336 1640 2339 1629 2334C1618 2328 1609 2317 1599 2308C1590 2298 1587 2287 1573 2278C1560 2269 1533 2257 1518 2252C1502 2247 1488 2252 1481 2248C1474 2245 1471 2235 1477 2230Z"/>
<path fill="#3a58a9" d="M1647 2393C1650 2385 1662 2379 1673 2382C1685 2385 1713 2403 1718 2411C1723 2419 1713 2427 1703 2430C1693 2432 1668 2432 1659 2426C1649 2420 1645 2400 1647 2393Z"/>
<path fill="#3a58a9" d="M1768 2467C1770 2459 1780 2462 1784 2471C1788 2479 1792 2502 1792 2519C1792 2535 1788 2563 1784 2571C1781 2579 1771 2576 1770 2567C1768 2558 1774 2535 1773 2519C1773 2502 1766 2475 1768 2467Z"/>
<path fill="#3a58a9" d="M1322 2674C1324 2666 1332 2660 1340 2663C1348 2667 1361 2685 1370 2697C1378 2708 1388 2722 1392 2734C1396 2745 1398 2758 1396 2763C1393 2768 1385 2767 1377 2763C1369 2760 1356 2750 1347 2741C1339 2732 1330 2722 1325 2711C1321 2700 1319 2682 1322 2674Z"/>
<path fill="#3a58a9" d="M1647 2641C1653 2637 1672 2637 1684 2637C1697 2638 1716 2640 1721 2645C1727 2650 1725 2663 1718 2667C1710 2671 1688 2668 1677 2667C1666 2666 1656 2664 1651 2660C1646 2655 1642 2645 1647 2641Z"/>
<path fill="#3a58a9" d="M1688 2722C1691 2717 1706 2714 1710 2719C1715 2723 1717 2743 1714 2748C1711 2754 1696 2756 1692 2752C1688 2748 1685 2728 1688 2722Z"/>
<path fill="#3a58a9" d="M1518 2730C1523 2726 1540 2730 1547 2734C1555 2737 1563 2747 1562 2752C1561 2757 1547 2763 1540 2763C1533 2764 1522 2761 1518 2756C1514 2750 1513 2734 1518 2730Z"/>
<path fill="#3a58a9" d="M1607 2637C1612 2635 1635 2640 1644 2645C1652 2650 1659 2662 1659 2667C1658 2672 1648 2676 1640 2674C1632 2673 1616 2666 1610 2660C1605 2653 1601 2640 1607 2637Z"/>
<path fill="#111111" d="M1577 2718C1577 2719 1576 2720 1575 2720C1574 2721 1572 2722 1571 2722C1570 2722 1568 2722 1567 2722C1566 2722 1564 2721 1563 2720C1562 2720 1561 2719 1560 2718C1559 2717 1558 2715 1558 2714C1557 2713 1557 2711 1557 2710C1557 2709 1558 2708 1558 2707C1559 2705 1560 2704 1561 2704C1562 2703 1563 2703 1564 2702C1566 2702 1567 2702 1569 2702C1570 2703 1571 2703 1573 2704C1574 2704 1575 2705 1576 2707C1577 2708 1578 2709 1578 2710C1578 2711 1579 2713 1579 2714C1578 2715 1578 2717 1577 2718Z"/>
<path fill="none" stroke="#111" stroke-width="1.4" stroke-linejoin="round" d="M1261 2308L1253 2331L1247 2354L1242 2378L1240 2402L1240 2427L1241 2449L1245 2471L1251 2490L1258 2509L1267 2527L1279 2544L1292 2559L1307 2572L1322 2583L1338 2591L1357 2598M1333 2243L1321 2259L1311 2275L1301 2290L1293 2306L1286 2323L1279 2340L1274 2358L1270 2375L1267 2393L1265 2409L1264 2427L1265 2444L1267 2460L1270 2476L1274 2491L1279 2504L1287 2519L1295 2532L1306 2545L1316 2555L1329 2564L1341 2571L1354 2576L1368 2580L1384 2582L1398 2582L1412 2580L1426 2576L1438 2570L1448 2563L1459 2553L1466 2543M1213 2386L1212 2412L1213 2439L1217 2465L1223 2488L1231 2511L1242 2533L1255 2553L1269 2571L1282 2583L1296 2595L1310 2605L1328 2615L1347 2623L1368 2630L1387 2635L1429 2644L1444 2648L1454 2653L1460 2657L1466 2663L1470 2670M1189 2468L1194 2489L1200 2509L1207 2527L1216 2545L1227 2563L1239 2579L1252 2594L1266 2609L1280 2620L1295 2631L1310 2641L1326 2649L1356 2662L1415 2683L1435 2692L1446 2699L1456 2708L1481 2734M1202 2632L1224 2656L1248 2677L1274 2696L1304 2714L1330 2726L1356 2736L1436 2763L1488 2781M1384 2215L1363 2236L1344 2257L1327 2282L1312 2306L1299 2334L1290 2360L1283 2388L1279 2414L1278 2440L1280 2464L1285 2488L1293 2509L1304 2528L1317 2543L1333 2556L1351 2565M1493 2188L1475 2197L1457 2207L1440 2217L1426 2228L1412 2240L1397 2253L1384 2266L1371 2282L1358 2298L1347 2314L1337 2332L1327 2350L1319 2368L1312 2387L1307 2404L1303 2422L1300 2440L1300 2456L1301 2472L1303 2486L1307 2500L1313 2513L1321 2525L1330 2535L1341 2544L1354 2551L1367 2556L1379 2558L1393 2558L1405 2556L1418 2551L1428 2544M1523 2272L1495 2288L1468 2306L1439 2328L1404 2358L1376 2384L1358 2404L1344 2423L1334 2441L1331 2452L1328 2464L1328 2476L1329 2487L1332 2498L1336 2507L1343 2517L1350 2525L1360 2532L1369 2535L1379 2538L1389 2538L1399 2536L1408 2532L1416 2526L1423 2519L1427 2512L1429 2506L1430 2498L1430 2492L1428 2484L1426 2479L1421 2472L1417 2468L1410 2464L1404 2462L1396 2462L1390 2463L1382 2466L1378 2470L1374 2475L1372 2481M1362 2272L1344 2296L1328 2324L1314 2353L1304 2381L1297 2409L1293 2437L1293 2461L1295 2473L1297 2485L1303 2504L1313 2522L1319 2530L1326 2537L1340 2549L1349 2554L1358 2558L1376 2562L1386 2563L1394 2562L1404 2561L1412 2559L1421 2554L1429 2549L1437 2542L1444 2535L1449 2526L1453 2517L1455 2507L1455 2497L1454 2487L1451 2477L1446 2468L1441 2462L1433 2455L1425 2450L1415 2447L1407 2446M1265 2331L1259 2351L1255 2368L1252 2386L1251 2404L1250 2423L1251 2441L1253 2459L1257 2475L1261 2490L1267 2505L1274 2520L1283 2533L1292 2546L1302 2557L1314 2567L1326 2575L1342 2583L1359 2589L1377 2593L1395 2594L1414 2593L1431 2589L1448 2582L1462 2573L1474 2562L1483 2549L1491 2533L1494 2517L1495 2501L1492 2487L1486 2474L1476 2461M1194 2441L1198 2465L1203 2487L1211 2510L1220 2530L1230 2550L1243 2568L1257 2585L1273 2601L1285 2611L1300 2622L1314 2630L1330 2639L1360 2651L1419 2670L1440 2679L1449 2686L1458 2695L1466 2704L1492 2738L1501 2748L1511 2756L1522 2764L1536 2769L1549 2772L1561 2772M1213 2659L1228 2673L1244 2687L1261 2699L1279 2711L1299 2722L1318 2732L1341 2742L1364 2750L1482 2786L1501 2791L1517 2794L1537 2796L1555 2796L1573 2793L1588 2787M1483 2187L1458 2200L1436 2215L1414 2232L1394 2249L1376 2268L1358 2290L1343 2312L1329 2337L1317 2362L1308 2387L1302 2412L1298 2436L1297 2458L1300 2481L1305 2500L1313 2516M1602 2195L1582 2198L1564 2202L1544 2208L1527 2214L1509 2222L1492 2230L1476 2239L1459 2250L1445 2260L1429 2273L1414 2287L1400 2301L1387 2316L1373 2334L1349 2369L1340 2384L1331 2401L1325 2415L1320 2431L1316 2445L1315 2459L1315 2473L1316 2485L1320 2498L1324 2510L1331 2520L1339 2529L1348 2537L1359 2543L1370 2547L1382 2549M1653 2305L1633 2308L1613 2312L1594 2318L1573 2326L1543 2339L1474 2374L1452 2383L1403 2402L1390 2408L1378 2415L1367 2423L1358 2432L1350 2441L1345 2452L1341 2463L1339 2475L1340 2488L1343 2497L1348 2506L1354 2514L1361 2521L1369 2525L1378 2527L1386 2528L1396 2527L1404 2523L1412 2517L1417 2511L1420 2502L1421 2494L1419 2484L1415 2477L1407 2471L1399 2468M1336 2550L1351 2558L1366 2563L1382 2565L1396 2565L1412 2561L1424 2556L1437 2546L1447 2535L1453 2525L1456 2515L1458 2503L1458 2493L1455 2481L1451 2472L1445 2464L1438 2457L1426 2449L1413 2445L1399 2445L1391 2446L1385 2448L1378 2452L1373 2456L1368 2462L1365 2467L1362 2475L1361 2481L1362 2489L1364 2495L1368 2502L1374 2507L1382 2510L1388 2510L1396 2508L1401 2505L1405 2498L1406 2493L1406 2489L1404 2485L1402 2482L1398 2479L1395 2478L1391 2478L1387 2479L1384 2482M1462 2353L1396 2393L1374 2407L1364 2417L1354 2427L1347 2437L1341 2448L1338 2457L1335 2467L1335 2477L1336 2487L1338 2497L1343 2506L1348 2514L1354 2520L1366 2528L1374 2530L1379 2531L1388 2532L1394 2531L1405 2527L1415 2520L1421 2510L1423 2504L1424 2498L1424 2488L1422 2482L1419 2477L1411 2470L1406 2467L1400 2466L1390 2466L1383 2470L1377 2476L1374 2483L1375 2489L1376 2493L1378 2496L1381 2499L1385 2500L1389 2501L1393 2500L1397 2496M1245 2389L1244 2407L1244 2425L1245 2444L1248 2462L1252 2479L1257 2495L1263 2510L1270 2524L1279 2538L1289 2550L1300 2562L1311 2571L1324 2580L1337 2587L1350 2592L1366 2597L1386 2600L1406 2600L1426 2598L1443 2593L1458 2587L1472 2578L1484 2567L1493 2554L1501 2538L1506 2520L1507 2504L1505 2490L1502 2483L1498 2476L1489 2463L1475 2451L1460 2441M1202 2499L1208 2516L1214 2531L1223 2547L1231 2561L1242 2576L1253 2588L1264 2600L1276 2611L1289 2620L1302 2630L1330 2645L1360 2657L1418 2677L1429 2682L1439 2687L1449 2694L1460 2704L1486 2735L1497 2747L1508 2756L1518 2763L1532 2769L1546 2773L1560 2773L1574 2771L1587 2766L1599 2759L1609 2749L1617 2737M1201 2628L1223 2652L1248 2675L1274 2694L1304 2711L1330 2724L1356 2734L1433 2760L1501 2785L1521 2789L1539 2792L1555 2792L1571 2789L1586 2784L1601 2777L1612 2768L1623 2757M1264 2740L1286 2753L1312 2765L1338 2776L1365 2785L1396 2793L1432 2800L1470 2807L1502 2810L1524 2811L1542 2811L1560 2808L1576 2804L1591 2798L1605 2791L1618 2781L1630 2770M1589 2192L1564 2198L1539 2205L1514 2214L1492 2225L1471 2237L1449 2251L1428 2268L1409 2285L1389 2308L1370 2331L1353 2356L1337 2383L1326 2406L1319 2427L1314 2447L1313 2467M1694 2233L1660 2231L1625 2233L1592 2238L1558 2247L1526 2260L1496 2276L1467 2295L1437 2318L1400 2353L1366 2388L1356 2400L1346 2413L1339 2425L1334 2436L1329 2449L1326 2463L1325 2475L1327 2487L1330 2499L1335 2510L1342 2520L1350 2527M1691 2287L1659 2288L1627 2292L1596 2299L1565 2310L1528 2327L1456 2367L1400 2396L1383 2406L1370 2416L1359 2425L1350 2436L1344 2446L1340 2458L1337 2470L1337 2482L1339 2494L1343 2503L1350 2513L1358 2521L1369 2527L1379 2530L1391 2530L1401 2527L1411 2521L1418 2513M1293 2515L1304 2532L1316 2545L1332 2558L1347 2567L1365 2572L1383 2575L1401 2574L1417 2571L1431 2564L1443 2556L1453 2546L1460 2534L1466 2521L1468 2507L1468 2493L1464 2479L1459 2470L1454 2462L1447 2454L1440 2449L1432 2444L1422 2441L1412 2439L1404 2439L1394 2440L1387 2443L1378 2448L1371 2453L1365 2460L1361 2468L1359 2475L1358 2483L1360 2493L1364 2500L1371 2508L1378 2511L1386 2513L1394 2512L1401 2508L1406 2501L1408 2496L1408 2490L1406 2484L1402 2480L1396 2477L1390 2477L1385 2480L1382 2485M1324 2401L1317 2420L1313 2438L1311 2454L1311 2470L1313 2486L1317 2500L1324 2514L1332 2526L1342 2536L1352 2542L1365 2548L1377 2551L1389 2551L1401 2550L1412 2545L1423 2539L1430 2532L1435 2526L1439 2519L1442 2511L1443 2501L1443 2493L1442 2485L1439 2478L1435 2471L1431 2466L1421 2459L1410 2454L1398 2453L1386 2456L1378 2461L1371 2469L1367 2478L1367 2488L1369 2494L1371 2498L1375 2502L1378 2504L1386 2506L1392 2506L1397 2503L1401 2498L1403 2495L1403 2489L1401 2485L1396 2481L1392 2480M1251 2494L1258 2511L1266 2525L1276 2541L1286 2553L1297 2565L1310 2575L1323 2584L1337 2592L1352 2598L1368 2602L1384 2605L1400 2606L1418 2605L1434 2603L1450 2599L1465 2594L1479 2586L1490 2576L1501 2562L1510 2546L1517 2527L1520 2511L1520 2497L1519 2491L1516 2484L1512 2477L1508 2470L1495 2457L1478 2446L1458 2436L1441 2430L1423 2426L1407 2426L1391 2429M1233 2511L1240 2526L1248 2540L1257 2554L1265 2565L1276 2577L1287 2586L1298 2595L1311 2604L1332 2616L1355 2625L1382 2632L1438 2644L1451 2648L1461 2655L1468 2662L1473 2671L1488 2713L1493 2724L1498 2733L1506 2742L1513 2749L1521 2756L1529 2761L1545 2766L1553 2767L1561 2767L1569 2766L1577 2764L1584 2761L1591 2757L1598 2753L1603 2747L1608 2740L1612 2733L1615 2726L1616 2718L1617 2710L1617 2702M1226 2601L1242 2619L1262 2637L1282 2653L1305 2667L1324 2677L1345 2686L1407 2710L1427 2719L1450 2731L1489 2758L1504 2767L1523 2775L1540 2780L1553 2781L1563 2780L1575 2778L1584 2775L1595 2770L1603 2764L1611 2757L1617 2749L1622 2740L1626 2731L1629 2721L1631 2709L1631 2699L1629 2687L1626 2676L1621 2664M1232 2695L1259 2716L1288 2734L1319 2749L1353 2762L1402 2777L1476 2795L1512 2801L1526 2802L1540 2803L1552 2802L1564 2800L1576 2797L1586 2794L1597 2789L1605 2783L1613 2777L1622 2769L1629 2761L1636 2752L1642 2741L1647 2730L1650 2718L1652 2708L1653 2686M1665 2217L1641 2217L1617 2219L1593 2223L1571 2228L1548 2235L1527 2243L1505 2253L1484 2265L1464 2279L1443 2295L1424 2312L1403 2332L1380 2357L1361 2381L1347 2400L1336 2420M1778 2303L1753 2298L1724 2294L1692 2293L1662 2295L1634 2299L1608 2304L1581 2313L1555 2323L1528 2336L1463 2371L1395 2402L1381 2410L1368 2419L1359 2428L1351 2437L1345 2447L1341 2457L1339 2468L1338 2478L1339 2488L1342 2498M1784 2331L1777 2329L1767 2327L1756 2327L1746 2328L1730 2330L1663 2344L1638 2351L1613 2359L1590 2368L1541 2391L1514 2401L1501 2404L1485 2407L1436 2410L1418 2412L1400 2416L1385 2421L1376 2426L1370 2431L1358 2442L1354 2449L1350 2456L1347 2464L1345 2472L1345 2480L1346 2488L1348 2495L1350 2501L1355 2508L1360 2514L1367 2518L1372 2521M1401 2612L1429 2612L1459 2608L1471 2605L1481 2601L1488 2598L1494 2593L1502 2586L1508 2578L1523 2552L1542 2509L1546 2496L1547 2488L1547 2484L1544 2478L1540 2474L1532 2468L1506 2452L1477 2438L1457 2430L1437 2425L1419 2423L1401 2425L1389 2428L1380 2432L1371 2438L1364 2445L1358 2453L1353 2462L1351 2471L1350 2480L1351 2490L1354 2499L1360 2507L1368 2514L1377 2518L1385 2519L1395 2518L1402 2515M1285 2550L1295 2560L1305 2570L1317 2578L1327 2585L1338 2590L1351 2595L1365 2599L1379 2602L1393 2603L1409 2604L1423 2602L1437 2600L1450 2596L1462 2591L1472 2585L1480 2579L1487 2572L1494 2565L1499 2556L1505 2545L1510 2534L1513 2524L1514 2515L1515 2504L1513 2490L1510 2483L1506 2476L1495 2462L1479 2449L1467 2442L1456 2436L1445 2432L1433 2429L1421 2427L1411 2427L1401 2428L1391 2430L1382 2434L1373 2439L1366 2446L1359 2454L1355 2463L1352 2473L1352 2483L1353 2491M1274 2551L1289 2568L1306 2582L1323 2593L1343 2603L1364 2610L1386 2614L1408 2616L1434 2616L1485 2612L1495 2610L1502 2606L1506 2602L1512 2594L1536 2547L1548 2526L1554 2518L1560 2512L1565 2509L1570 2506L1580 2504L1586 2505L1594 2507L1603 2510L1625 2521L1644 2529L1659 2534L1671 2536M1507 2689L1506 2699L1507 2711L1510 2722L1515 2731L1522 2741L1530 2748L1538 2753L1548 2756L1562 2758L1574 2756L1585 2751L1594 2743L1602 2734L1606 2722L1607 2710L1606 2698L1601 2687L1592 2676L1583 2669L1571 2664L1559 2663L1547 2665L1538 2669L1529 2677L1523 2687L1519 2699L1519 2711L1522 2723L1528 2733L1537 2742L1547 2748L1559 2750L1569 2750L1579 2747L1587 2741L1594 2734L1598 2725L1600 2715L1599 2705L1596 2695L1590 2687L1583 2680L1574 2676L1564 2674L1554 2676L1545 2680L1537 2686L1532 2695M1560 2672L1550 2674L1543 2678L1535 2685L1530 2693L1528 2701L1527 2711L1529 2721L1533 2730L1540 2737L1549 2743L1558 2745L1567 2745L1576 2743L1583 2738L1590 2731L1594 2724L1595 2716L1595 2708L1592 2698L1587 2692L1579 2685L1572 2682L1564 2681L1556 2683L1548 2686L1542 2691L1538 2698L1535 2707L1535 2715L1538 2725L1543 2731L1550 2736L1557 2739L1563 2740L1571 2739L1577 2737L1583 2732L1587 2727L1589 2722L1590 2716L1589 2708L1587 2702L1584 2697L1579 2693L1572 2689L1566 2688L1560 2689L1554 2691L1549 2694L1544 2700L1542 2706L1541 2714L1543 2722L1546 2727L1551 2731L1556 2734L1562 2736L1568 2735L1574 2734L1577 2732L1581 2727L1584 2722L1586 2716L1586 2712L1584 2706L1581 2701L1576 2697L1571 2695L1565 2694L1559 2695L1554 2698L1551 2700M1266 2715L1297 2733L1330 2749L1366 2762L1411 2775L1479 2792L1513 2799L1529 2800L1543 2801L1557 2799L1571 2797L1583 2793L1594 2788L1604 2782L1614 2775L1623 2766L1631 2757L1637 2747L1643 2734L1649 2715L1651 2695L1650 2675L1645 2635L1645 2614M1739 2264L1715 2261L1691 2258L1667 2258L1644 2259L1620 2262L1598 2266L1577 2272L1554 2280L1535 2288L1516 2298L1496 2309L1474 2323L1390 2385L1373 2400L1358 2414M1790 2318L1774 2313L1756 2310L1738 2309L1714 2308L1688 2310L1664 2312L1640 2316L1618 2321L1595 2328L1570 2337L1501 2370L1477 2381L1456 2388L1413 2401L1396 2408L1385 2413L1375 2419L1365 2427L1358 2434M1812 2351L1802 2344L1794 2339L1784 2335L1777 2333L1769 2331L1758 2331L1748 2332L1738 2334L1702 2344L1655 2356L1631 2364L1603 2375L1549 2402L1536 2407L1524 2410L1508 2413L1492 2415L1442 2414L1423 2414L1407 2417L1394 2420L1384 2424L1377 2428L1369 2433L1363 2439L1358 2445L1353 2452L1350 2459L1348 2467M1807 2361L1800 2354L1792 2348L1785 2344L1777 2341L1770 2339L1761 2339L1753 2340L1746 2343L1733 2349L1714 2364L1703 2370L1692 2375L1655 2390L1630 2403L1618 2410L1605 2420L1569 2453L1562 2457L1554 2459L1544 2459L1532 2456L1474 2434L1447 2426L1433 2423L1419 2422L1407 2423L1395 2425L1384 2430L1375 2435L1367 2441L1360 2449L1355 2457L1351 2467L1350 2477L1350 2485M1605 2756L1610 2750L1616 2742L1620 2735L1623 2725L1625 2717L1626 2707L1625 2697L1623 2687L1617 2670L1606 2653L1594 2640L1567 2615L1560 2605L1557 2598L1555 2592L1556 2584L1557 2576L1563 2563L1571 2551L1582 2542L1593 2537L1600 2534L1608 2534L1625 2535L1657 2537L1671 2537M1519 2772L1532 2776L1546 2779L1560 2779L1574 2777L1587 2772L1600 2765L1609 2757L1618 2746L1624 2733L1628 2720L1629 2706L1628 2690L1624 2676L1617 2661L1610 2649L1594 2624L1587 2611L1585 2604L1584 2598L1584 2591L1585 2584L1588 2576L1594 2567L1601 2560L1609 2554L1618 2550L1628 2548L1662 2541L1671 2538M1477 2680L1486 2707L1493 2724L1502 2737L1513 2749L1521 2756L1528 2760L1543 2765L1551 2767L1559 2767L1567 2767L1575 2765L1584 2761L1591 2757L1599 2751L1605 2745L1609 2738L1613 2729L1616 2721L1617 2711L1617 2703L1615 2693L1612 2684L1607 2675L1601 2667L1594 2660L1586 2654L1578 2650L1571 2647L1563 2645L1555 2645L1547 2645L1539 2647L1533 2649L1528 2652L1522 2657L1513 2668L1509 2675L1506 2682L1504 2690L1504 2698L1504 2707L1506 2714L1508 2722L1512 2729L1516 2736L1522 2742L1528 2748L1535 2752L1548 2757L1556 2758L1564 2758L1578 2755L1585 2752L1591 2747L1597 2742L1601 2737M1604 2730L1607 2720L1608 2708L1606 2696L1600 2685L1593 2676L1583 2668L1572 2664L1560 2662L1548 2664L1539 2668L1531 2674L1524 2683L1520 2693L1518 2705L1519 2717L1524 2728L1530 2736L1536 2742L1542 2746L1550 2749L1560 2751L1568 2750L1576 2748L1583 2745L1591 2738L1596 2730L1599 2722L1601 2712L1600 2704L1596 2695L1591 2687L1583 2680L1574 2676L1564 2674L1554 2675L1547 2678L1540 2682L1533 2690L1529 2699L1528 2709L1529 2719L1533 2726L1537 2733L1543 2738L1550 2742L1558 2744L1566 2745L1574 2743L1581 2739L1587 2734L1592 2727L1594 2719L1595 2711L1593 2703L1588 2694L1582 2689M1320 2763L1358 2777L1399 2788L1457 2800L1503 2807L1531 2809L1557 2806L1569 2804L1581 2800L1592 2796L1601 2791L1611 2784L1619 2778L1626 2771L1634 2762L1646 2743L1651 2732L1655 2723L1658 2707L1660 2691L1659 2675L1656 2635L1657 2612L1658 2602L1662 2591L1672 2562M1752 2275L1730 2271L1708 2268L1686 2267L1666 2267L1643 2268L1623 2271L1601 2275L1582 2281L1565 2286L1546 2294L1512 2311L1481 2330L1407 2380M1795 2326L1782 2321L1770 2318L1756 2316L1742 2316L1718 2317L1687 2320L1663 2323L1643 2326L1616 2333L1589 2343L1565 2353L1514 2377L1489 2387L1466 2394L1423 2403L1405 2408M1827 2380L1805 2357L1798 2350L1791 2345L1782 2341L1774 2339L1766 2338L1758 2338L1748 2340L1739 2344L1711 2361L1700 2366L1657 2382L1634 2392L1610 2406L1569 2435L1560 2440L1550 2443L1536 2445L1520 2443L1504 2439L1460 2426L1434 2422L1422 2421L1410 2422L1398 2424L1388 2427M1821 2413L1815 2405L1810 2397L1798 2367L1793 2360L1787 2355L1782 2352L1776 2349L1766 2348L1756 2349L1751 2351L1746 2354L1738 2361L1733 2372L1731 2384L1731 2402L1730 2406L1728 2409L1724 2412L1719 2415L1687 2427L1671 2436L1663 2442L1656 2449L1650 2457L1645 2466L1642 2476L1641 2486L1641 2494L1644 2504L1649 2513L1655 2521L1662 2528L1670 2533M1446 2615L1489 2611L1496 2609L1503 2605L1507 2601L1512 2594L1536 2547L1548 2526L1554 2518L1560 2512L1565 2509L1570 2506L1580 2504L1586 2505L1594 2507L1603 2510L1625 2521L1644 2529L1659 2534L1671 2536M1548 2809L1566 2806L1581 2802L1596 2795L1610 2787L1622 2777L1633 2765L1643 2752L1651 2737L1658 2719L1660 2709L1661 2699L1661 2678L1658 2632L1659 2620L1660 2608L1664 2588L1678 2550L1679 2540M1476 2795L1504 2800L1526 2802L1546 2802L1566 2800L1586 2794L1602 2786L1616 2775L1629 2762L1637 2750L1645 2736L1649 2722L1652 2709L1653 2696L1653 2682L1648 2628L1648 2616L1650 2604L1653 2594L1657 2583L1674 2551L1678 2541M1427 2818L1465 2822L1500 2824L1530 2823L1556 2819L1579 2813L1601 2803L1620 2790L1629 2782L1637 2774L1650 2758L1662 2739L1671 2723L1675 2712L1676 2694L1673 2639L1673 2619L1675 2603L1682 2557L1682 2547L1681 2539M1558 2858L1575 2852L1590 2846L1606 2837L1620 2829L1633 2820L1647 2808L1679 2774L1687 2768L1695 2762L1713 2757L1720 2754L1728 2748L1733 2742L1736 2734L1736 2728L1734 2720L1730 2713L1725 2709L1718 2705L1697 2699L1694 2696L1691 2691L1689 2679L1686 2655L1685 2625L1685 2603M1806 2341L1794 2334L1782 2329L1771 2327L1758 2326L1736 2327L1677 2338L1643 2346L1614 2355L1588 2366L1539 2389L1514 2398L1488 2404L1454 2407M1855 2470L1841 2453L1816 2427L1807 2415L1803 2408L1801 2403L1798 2381L1796 2373L1789 2362L1782 2356L1773 2352L1763 2351L1753 2354L1745 2361L1740 2369L1738 2379L1739 2389L1744 2398L1750 2403L1758 2405L1766 2404L1773 2401L1780 2394L1783 2384L1784 2378L1783 2374L1780 2367L1775 2363L1771 2361L1767 2361L1763 2361L1758 2363L1755 2366L1753 2370L1752 2373L1752 2379L1755 2384L1761 2388L1765 2388L1769 2387L1773 2383L1776 2378L1775 2374M1853 2582L1845 2562L1834 2542L1822 2524L1809 2508L1795 2494L1779 2482L1763 2472L1746 2466L1736 2463L1728 2462L1718 2462L1710 2463L1700 2466L1693 2469L1686 2473L1679 2478L1674 2483L1669 2490L1666 2498L1665 2504L1664 2512L1665 2518L1668 2525L1671 2530M1820 2680L1818 2660L1816 2640L1811 2620L1805 2601L1798 2582L1789 2566L1779 2551L1769 2539L1755 2526L1742 2517L1730 2511L1716 2507L1702 2507L1690 2511L1685 2514L1681 2518L1677 2523L1676 2527M1738 2781L1748 2766L1754 2753L1758 2739L1759 2727L1759 2717L1758 2707L1743 2628L1737 2606L1731 2587L1725 2570L1718 2557L1711 2547L1703 2539L1694 2533L1685 2530M1694 2812L1734 2766L1742 2756L1746 2749L1749 2742L1750 2734L1751 2726L1750 2718L1747 2710L1737 2686L1733 2672L1721 2607L1716 2585L1712 2571L1707 2558L1700 2546L1693 2539L1685 2533M1499 2834L1525 2832L1549 2829L1570 2823L1591 2815L1612 2803L1631 2788L1645 2774L1669 2744L1676 2737L1680 2735L1684 2735L1699 2742L1708 2745L1714 2745L1720 2743L1725 2739L1727 2736L1728 2732L1728 2728L1727 2724L1724 2721L1721 2719L1717 2718L1713 2718L1709 2720L1706 2725L1706 2731L1708 2735L1711 2737M1859 2509L1848 2494L1836 2479L1822 2464L1795 2437L1786 2425L1784 2420L1783 2414L1785 2408L1789 2395L1791 2385L1789 2375L1785 2366L1777 2359L1770 2356L1763 2356L1760 2357L1753 2361L1749 2366L1747 2370L1746 2375L1746 2380L1748 2385L1750 2389L1756 2393L1760 2395L1766 2394L1770 2393L1775 2389L1778 2384L1779 2380L1779 2374L1778 2371L1773 2366L1768 2364L1762 2365L1759 2367L1756 2372L1756 2378L1760 2383L1764 2384M1859 2535L1843 2510L1824 2486L1804 2466L1765 2433L1760 2428L1756 2423L1756 2419L1757 2417L1774 2406L1781 2399L1784 2393L1786 2388L1786 2378L1784 2370L1780 2365L1775 2361L1770 2359L1764 2359L1758 2361L1753 2365L1750 2370L1750 2374L1750 2378L1752 2384L1755 2387L1758 2389L1764 2390L1768 2389L1771 2388L1774 2385L1776 2381L1777 2377L1776 2373L1773 2368M1845 2620L1839 2598L1832 2579L1823 2561L1813 2544L1800 2528L1788 2515L1774 2503L1759 2493L1742 2486L1726 2483L1710 2483L1696 2487L1689 2490L1684 2494L1679 2500L1675 2505L1673 2510L1671 2516L1671 2522L1672 2528M1808 2701L1808 2679L1806 2659L1803 2639L1799 2619L1793 2600L1785 2583L1777 2567L1768 2554L1756 2540L1742 2528L1730 2520L1719 2516L1705 2513L1693 2515L1684 2519L1680 2523L1677 2526M1791 2726L1793 2708L1793 2687L1791 2665L1789 2645L1784 2626L1779 2608L1773 2591L1765 2575L1755 2559L1744 2545L1734 2535L1724 2528L1711 2522L1699 2520L1689 2521L1684 2524L1680 2526"/>
<path fill="none" stroke="#111" stroke-width="1.3" d="M1245 2388L1240 2395L1238 2388M1285 2546L1287 2554L1280 2551M1293 2315L1287 2320L1287 2312M1274 2479L1273 2486L1268 2481M1390 2579L1398 2582L1391 2586M1221 2468L1220 2476L1214 2469M1312 2603L1317 2609L1309 2609M1219 2543L1220 2551L1213 2547M1343 2652L1348 2658L1340 2659M1265 2685L1269 2692L1261 2691M1418 2753L1424 2759L1416 2760M1333 2278L1326 2283L1327 2275M1281 2436L1278 2443L1274 2436M1425 2233L1417 2235L1420 2228M1324 2366L1318 2371L1317 2363M1325 2524L1327 2532L1320 2529M1456 2319L1448 2321L1452 2314M1339 2438L1333 2444L1332 2436M1416 2522L1423 2519L1421 2527M1322 2343L1316 2348L1316 2340M1308 2504L1308 2512L1301 2508M1440 2534L1447 2530L1446 2538M1254 2412L1250 2420L1247 2412M1313 2562L1317 2569L1309 2568M1466 2565L1473 2563L1470 2570M1219 2520L1218 2527L1212 2522M1333 2636L1338 2642L1330 2643M1480 2717L1482 2725L1474 2721M1279 2707L1284 2714L1276 2713M1436 2768L1442 2774L1434 2775M1416 2234L1408 2236L1411 2229M1319 2369L1313 2375L1312 2367M1523 2219L1515 2219L1520 2213M1389 2319L1382 2322L1384 2314M1317 2467L1315 2474L1310 2467M1574 2329L1566 2329L1571 2323M1419 2399L1411 2399L1417 2393M1362 2517L1366 2523L1358 2523M1414 2556L1422 2557L1417 2563M1399 2448L1391 2446L1397 2441M1393 2399L1385 2400L1389 2393M1370 2526L1377 2531L1369 2533M1381 2499L1389 2501L1383 2506M1253 2471L1251 2478L1246 2472M1357 2590L1363 2596L1355 2597M1497 2538L1503 2532L1504 2540M1242 2570L1244 2578L1237 2575M1381 2661L1386 2666L1378 2667M1516 2758L1521 2764L1513 2764M1263 2682L1267 2689L1259 2687M1417 2751L1422 2757L1414 2758M1578 2783L1586 2785L1580 2790M1339 2772L1345 2778L1337 2779M1504 2807L1511 2811L1504 2814M1512 2219L1504 2219L1509 2213M1381 2323L1374 2326L1376 2318M1612 2239L1604 2236L1611 2232M1460 2305L1452 2307L1455 2300M1343 2425L1336 2430L1336 2422M1610 2300L1602 2298L1609 2293M1457 2371L1449 2371L1454 2364M1339 2475L1337 2483L1332 2477M1354 2565L1360 2571L1352 2572M1463 2489L1465 2482L1470 2488M1363 2494L1365 2502L1358 2499M1315 2481L1314 2489L1308 2483M1434 2523L1439 2517L1440 2525M1378 2501L1384 2506L1376 2507M1298 2561L1301 2568L1293 2566M1453 2595L1461 2595L1455 2601M1497 2465L1495 2458L1502 2460M1282 2577L1285 2584L1277 2582M1435 2639L1441 2645L1433 2646M1540 2762L1546 2766L1539 2769M1289 2653L1294 2660L1286 2659M1443 2723L1448 2730L1440 2730M1593 2766L1601 2765L1597 2772M1303 2737L1307 2743L1299 2743M1463 2788L1470 2793L1462 2795M1620 2766L1627 2763L1625 2771M1584 2228L1576 2227L1582 2222M1436 2305L1429 2307L1432 2300M1696 2297L1689 2294L1696 2290M1534 2337L1526 2337L1531 2331M1383 2413L1375 2414L1379 2407M1703 2339L1696 2337L1702 2332M1544 2394L1536 2393L1542 2388M1380 2428L1372 2429L1376 2422M1481 2598L1489 2597L1485 2604M1522 2465L1517 2459L1525 2459M1369 2444L1362 2448L1363 2440M1354 2593L1360 2598L1352 2599M1500 2549L1506 2544L1506 2552M1430 2432L1423 2427L1431 2425M1340 2598L1346 2604L1338 2605M1502 2602L1509 2598L1508 2606M1620 2515L1625 2521L1617 2521M1544 2752L1551 2756L1544 2759M1555 2667L1548 2665L1554 2660M1594 2731L1598 2724L1600 2732M1539 2732L1543 2739L1535 2738M1538 2706L1535 2713L1531 2706M1544 2713L1543 2721L1538 2715M1341 2749L1346 2755L1338 2756M1504 2794L1510 2798L1503 2800M1641 2731L1646 2725L1648 2733M1657 2262L1649 2259L1656 2255M1498 2312L1490 2313L1494 2306M1708 2312L1701 2309L1708 2305M1546 2353L1538 2353L1543 2346M1389 2415L1381 2416L1385 2409M1736 2338L1728 2337L1734 2331M1576 2393L1568 2393L1573 2386M1410 2420L1402 2418L1408 2413M1735 2352L1727 2353L1731 2346M1591 2438L1583 2440L1586 2433M1432 2427L1425 2423L1433 2420M1617 2681L1618 2673L1624 2678M1581 2539L1589 2539L1584 2545M1596 2764L1603 2762L1600 2769M1586 2618L1587 2610L1592 2616M1517 2749L1522 2756L1514 2755M1606 2680L1605 2672L1612 2676M1510 2718L1510 2726L1504 2721M1571 2667L1565 2663L1572 2660M1580 2743L1587 2741L1584 2748M1534 2722L1535 2730L1528 2726M1400 2785L1406 2790L1398 2792M1566 2801L1574 2802L1568 2808M1656 2679L1659 2671L1663 2678M1670 2270L1662 2267L1669 2263M1510 2316L1502 2317L1506 2310M1714 2321L1706 2318L1713 2314M1552 2363L1544 2363L1549 2357M1761 2341L1753 2339L1759 2334M1608 2411L1601 2413L1604 2406M1449 2428L1442 2423L1450 2421M1774 2352L1767 2348L1775 2345M1661 2449L1654 2452L1655 2444M1513 2583L1520 2578L1519 2586M1639 2524L1645 2530L1637 2531M1620 2774L1627 2771L1625 2779M1655 2617L1659 2611L1662 2618M1558 2797L1565 2800L1559 2804M1649 2680L1652 2673L1656 2680M1510 2820L1517 2824L1510 2827M1652 2749L1659 2745L1658 2753M1674 2586L1678 2579L1681 2587M1629 2818L1637 2816L1634 2824M1723 2710L1717 2705L1725 2704M1727 2333L1719 2330L1726 2326M1566 2380L1558 2380L1563 2374M1799 2407L1801 2399L1806 2406M1771 2398L1778 2395L1776 2403M1810 2513L1807 2506L1814 2508M1671 2493L1666 2499L1664 2491M1801 2601L1802 2593L1808 2598M1684 2519L1678 2522L1679 2515M1754 2704L1756 2696L1760 2703M1706 2545L1702 2538L1710 2539M1744 2747L1749 2741L1751 2749M1712 2584L1714 2576L1719 2582M1579 2816L1587 2817L1581 2823M1713 2743L1721 2742L1718 2749M1802 2449L1800 2442L1807 2444M1760 2393L1768 2394L1762 2399M1806 2473L1803 2465L1811 2467M1758 2364L1751 2368L1752 2360M1810 2546L1808 2538L1815 2542M1677 2507L1672 2514L1670 2506M1796 2620L1797 2612L1802 2618M1688 2520L1680 2523L1683 2515M1785 2644L1787 2636L1792 2643M1692 2524L1684 2523L1689 2517"/>
<path fill="none" stroke="#111" stroke-width="6" stroke-linecap="round" d="M1370 2230C1360 2238 1333 2258 1314 2278C1296 2298 1272 2324 1259 2352C1245 2380 1238 2414 1233 2445C1228 2476 1228 2506 1229 2537C1230 2568 1232 2602 1240 2630C1248 2658 1262 2682 1277 2704C1293 2726 1311 2742 1333 2760C1354 2777 1382 2798 1407 2808C1431 2817 1456 2815 1481 2815C1505 2815 1542 2809 1555 2808"/>
<path fill="none" stroke="#111" stroke-width="5" stroke-linecap="round" d="M1629 2274C1638 2278 1669 2285 1684 2297C1700 2308 1710 2327 1721 2341C1733 2355 1746 2372 1751 2378"/>
<path fill="none" stroke="#111" stroke-width="5" d="M1631 2632C1635 2635 1638 2639 1641 2643C1643 2648 1645 2653 1646 2658C1647 2663 1648 2669 1647 2674C1647 2680 1646 2686 1644 2692C1642 2698 1639 2704 1636 2710C1633 2715 1629 2721 1625 2726C1621 2731 1616 2736 1611 2740C1606 2744 1601 2747 1595 2750C1590 2753 1584 2755 1578 2757C1573 2758 1567 2759 1562 2758C1556 2758 1551 2757 1546 2756C1542 2754 1537 2751 1534 2748C1530 2745 1527 2741 1524 2737C1522 2733 1520 2728 1519 2723C1518 2718 1518 2712 1518 2706C1518 2700 1520 2694 1521 2688C1523 2683 1526 2676 1529 2671C1532 2665 1536 2660 1540 2655C1544 2650 1549 2645 1554 2641C1559 2637 1565 2633 1570 2630C1576 2627 1581 2625 1587 2624C1593 2623 1598 2622 1604 2622C1609 2622 1614 2623 1619 2625C1623 2627 1628 2629 1631 2632Z"/>
<path fill="none" stroke="#111" stroke-width="1.5" d="M1625 2640C1628 2643 1631 2647 1633 2650C1635 2654 1637 2659 1638 2663C1639 2668 1639 2673 1639 2678C1638 2683 1637 2689 1635 2694C1634 2699 1631 2705 1629 2710C1626 2715 1622 2720 1618 2725C1615 2729 1610 2733 1606 2737C1601 2741 1596 2744 1591 2747C1586 2749 1581 2751 1576 2752C1571 2754 1566 2754 1561 2754C1557 2754 1552 2753 1548 2752C1544 2750 1540 2748 1537 2745C1533 2743 1531 2739 1528 2735C1526 2732 1525 2727 1524 2722C1523 2718 1523 2713 1523 2708C1523 2702 1524 2697 1526 2692C1528 2686 1530 2681 1533 2676C1536 2671 1539 2666 1543 2661C1547 2657 1551 2652 1556 2649C1560 2645 1565 2642 1570 2639C1575 2637 1580 2635 1585 2633C1590 2632 1595 2631 1600 2632C1605 2632 1609 2632 1614 2634C1618 2635 1622 2638 1625 2640Z"/>
<path fill="none" stroke="#111" stroke-width="1.5" d="M1618 2649C1621 2651 1624 2654 1626 2658C1627 2661 1629 2665 1630 2669C1630 2673 1631 2678 1630 2683C1630 2687 1629 2692 1628 2697C1626 2701 1624 2706 1621 2711C1619 2715 1616 2720 1612 2724C1609 2728 1605 2732 1601 2735C1597 2738 1593 2741 1588 2744C1584 2746 1579 2748 1575 2749C1570 2750 1566 2750 1562 2750C1557 2750 1553 2750 1550 2748C1546 2747 1543 2745 1540 2743C1537 2740 1534 2737 1532 2734C1530 2730 1529 2726 1528 2722C1527 2718 1527 2714 1527 2709C1528 2704 1529 2700 1530 2695C1532 2690 1534 2685 1536 2681C1539 2676 1542 2672 1545 2668C1549 2664 1553 2660 1557 2657C1561 2653 1565 2650 1570 2648C1574 2646 1579 2644 1583 2643C1587 2642 1592 2641 1596 2641C1600 2641 1605 2642 1608 2643C1612 2645 1615 2647 1618 2649Z"/>
<path fill="none" stroke="#111" stroke-width="1.5" d="M1612 2657C1614 2659 1617 2662 1618 2665C1620 2668 1621 2671 1622 2675C1623 2679 1623 2683 1622 2687C1622 2691 1621 2695 1620 2699C1619 2703 1617 2708 1615 2712C1612 2716 1610 2720 1607 2723C1604 2727 1600 2730 1597 2733C1593 2736 1589 2739 1585 2741C1581 2743 1577 2744 1573 2745C1569 2746 1565 2747 1562 2747C1558 2747 1554 2746 1551 2745C1548 2744 1545 2742 1542 2740C1540 2738 1538 2735 1536 2732C1534 2729 1533 2726 1532 2722C1531 2718 1531 2714 1532 2710C1532 2706 1533 2702 1534 2698C1535 2694 1537 2689 1540 2685C1542 2681 1545 2677 1548 2674C1551 2670 1554 2667 1558 2664C1561 2661 1565 2658 1569 2656C1573 2654 1577 2653 1581 2652C1585 2651 1589 2650 1592 2650C1596 2650 1600 2651 1603 2652C1606 2653 1609 2655 1612 2657Z"/>
<path fill="none" stroke="#111" stroke-width="3.5" d="M1606 2665C1608 2667 1610 2669 1611 2672C1613 2674 1614 2677 1615 2681C1615 2684 1615 2687 1615 2691C1615 2694 1614 2698 1613 2702C1612 2705 1610 2709 1608 2713C1606 2716 1604 2720 1601 2723C1599 2726 1596 2729 1593 2732C1589 2734 1586 2736 1583 2738C1579 2740 1576 2741 1572 2742C1569 2743 1565 2743 1562 2743C1559 2743 1555 2743 1553 2742C1550 2741 1547 2739 1545 2737C1542 2735 1541 2733 1539 2730C1538 2728 1536 2725 1536 2721C1535 2718 1535 2715 1535 2711C1535 2708 1536 2704 1537 2700C1539 2697 1540 2693 1542 2689C1544 2686 1546 2682 1549 2679C1552 2676 1555 2673 1558 2670C1561 2668 1564 2666 1568 2664C1571 2662 1575 2661 1578 2660C1582 2659 1585 2659 1589 2659C1592 2659 1595 2659 1598 2660C1601 2661 1603 2663 1606 2665Z"/>
<path fill="none" stroke="#111" stroke-width="1.5" d="M1599 2673C1601 2674 1603 2676 1604 2678C1605 2681 1606 2683 1607 2686C1607 2689 1607 2692 1607 2695C1607 2698 1606 2701 1605 2704C1604 2707 1603 2710 1601 2713C1600 2716 1598 2719 1595 2722C1593 2724 1591 2727 1588 2729C1585 2731 1583 2733 1580 2735C1577 2736 1574 2737 1571 2738C1568 2739 1565 2739 1562 2739C1559 2739 1557 2738 1554 2738C1552 2737 1550 2735 1548 2734C1546 2732 1544 2730 1543 2728C1542 2726 1541 2723 1540 2720C1539 2718 1539 2715 1540 2712C1540 2709 1540 2706 1541 2702C1542 2699 1544 2696 1545 2693C1547 2690 1549 2687 1551 2685C1553 2682 1556 2679 1559 2677C1561 2675 1564 2673 1567 2672C1570 2670 1573 2669 1576 2668C1579 2668 1582 2667 1585 2667C1587 2667 1590 2668 1592 2669C1595 2670 1597 2671 1599 2673Z"/>
<path fill="none" stroke="#111" stroke-width="1.5" d="M1593 2680C1595 2681 1596 2683 1597 2685C1598 2687 1599 2689 1600 2691C1600 2693 1600 2696 1600 2698C1600 2701 1600 2704 1599 2706C1598 2709 1597 2712 1595 2714C1594 2716 1592 2719 1591 2721C1589 2723 1587 2725 1584 2727C1582 2729 1580 2731 1577 2732C1575 2733 1572 2734 1570 2735C1568 2735 1565 2735 1563 2735C1560 2735 1558 2735 1556 2734C1554 2733 1552 2732 1550 2731C1549 2730 1547 2728 1546 2726C1545 2724 1544 2722 1544 2720C1543 2717 1543 2715 1543 2712C1544 2710 1544 2707 1545 2705C1546 2702 1547 2699 1548 2697C1550 2694 1551 2692 1553 2690C1555 2688 1557 2685 1559 2684C1562 2682 1564 2680 1566 2679C1569 2678 1571 2677 1574 2676C1576 2676 1579 2675 1581 2675C1583 2676 1586 2676 1588 2677C1590 2677 1592 2679 1593 2680Z"/>
<path fill="none" stroke="#111" stroke-width="2.5" d="M1588 2687C1589 2688 1590 2690 1591 2691C1592 2693 1592 2695 1593 2696C1593 2698 1593 2700 1593 2702C1593 2704 1593 2707 1592 2709C1592 2711 1591 2713 1590 2715C1589 2717 1587 2719 1586 2721C1584 2722 1583 2724 1581 2725C1579 2727 1577 2728 1575 2729C1573 2730 1571 2731 1569 2731C1567 2732 1565 2732 1563 2732C1561 2732 1559 2731 1558 2731C1556 2730 1555 2729 1553 2728C1552 2727 1551 2726 1550 2724C1549 2723 1548 2721 1548 2719C1547 2717 1547 2715 1547 2713C1548 2711 1548 2709 1549 2707C1549 2705 1550 2703 1551 2701C1552 2699 1554 2697 1555 2695C1557 2693 1558 2691 1560 2690C1562 2689 1564 2687 1566 2686C1568 2685 1570 2685 1572 2684C1574 2684 1576 2683 1578 2684C1579 2684 1581 2684 1583 2685C1585 2685 1586 2686 1588 2687Z"/>
<path fill="none" stroke="#111" stroke-width="1.5" d="M1582 2694C1583 2695 1584 2696 1585 2697C1586 2698 1586 2700 1587 2701C1587 2702 1587 2704 1587 2706C1587 2707 1587 2709 1586 2710C1586 2712 1585 2714 1584 2715C1583 2717 1582 2718 1581 2720C1580 2721 1579 2722 1577 2723C1576 2724 1575 2725 1573 2726C1572 2727 1570 2727 1568 2728C1567 2728 1565 2728 1564 2728C1562 2728 1561 2728 1560 2727C1558 2727 1557 2726 1556 2725C1555 2724 1554 2723 1554 2722C1553 2721 1552 2719 1552 2718C1552 2717 1552 2715 1552 2713C1552 2712 1552 2710 1552 2709C1553 2707 1554 2705 1554 2704C1555 2702 1556 2701 1557 2700C1558 2698 1560 2697 1561 2696C1563 2695 1564 2694 1566 2693C1567 2692 1569 2692 1570 2691C1572 2691 1573 2691 1575 2691C1576 2691 1578 2691 1579 2692C1580 2692 1581 2693 1582 2694Z"/>
<path fill="none" stroke="#111" stroke-width="2.5" d="M1578 2699C1579 2700 1580 2701 1580 2702C1581 2703 1581 2704 1581 2705C1582 2706 1582 2707 1582 2708C1582 2709 1581 2710 1581 2712C1581 2713 1580 2714 1580 2715C1579 2716 1578 2717 1578 2718C1577 2719 1576 2720 1575 2721C1574 2722 1573 2722 1572 2723C1571 2723 1569 2724 1568 2724C1567 2724 1566 2724 1565 2724C1564 2724 1563 2724 1562 2724C1561 2723 1560 2723 1559 2722C1558 2721 1558 2721 1557 2720C1556 2719 1556 2718 1556 2717C1555 2716 1555 2714 1555 2713C1555 2712 1556 2711 1556 2710C1556 2709 1557 2707 1557 2706C1558 2705 1559 2704 1559 2703C1560 2702 1561 2701 1562 2700C1563 2700 1564 2699 1565 2698C1567 2698 1568 2697 1569 2697C1570 2697 1571 2697 1572 2697C1573 2697 1574 2697 1575 2698C1576 2698 1577 2699 1578 2699Z"/>
</g>
<circle cx="1521.5" cy="2522.5" r="336.5" fill="none" stroke="#1a1a1a" stroke-width="1.7"/>
<clipPath id="c8"><circle cx="2251" cy="2478.5" r="380"/></clipPath>
<g clip-path="url(#c8)">
<circle cx="2251" cy="2478" r="382" fill="#68c1b5"/>
<path fill="#4fa5d8" d="M2071 2115C2091 2091 2169 2091 2188 2115C2208 2140 2208 2237 2188 2261C2169 2286 2091 2286 2071 2261C2052 2237 2052 2140 2071 2115Z"/>
<path fill="#4fa5d8" d="M1971 2224C1988 2213 2055 2213 2071 2224C2088 2234 2088 2276 2071 2286C2055 2297 1988 2297 1971 2286C1955 2276 1955 2234 1971 2224Z"/>
<path fill="#4fa5d8" d="M2264 2107C2282 2089 2354 2093 2372 2111C2390 2129 2390 2198 2372 2215C2354 2233 2282 2234 2264 2215C2245 2197 2245 2124 2264 2107Z"/>
<path fill="#4fa5d8" d="M2385 2174C2401 2160 2465 2176 2489 2190C2513 2204 2524 2236 2531 2257C2538 2279 2543 2310 2531 2320C2518 2330 2479 2323 2456 2316C2433 2308 2405 2298 2393 2274C2381 2250 2369 2188 2385 2174Z"/>
<path fill="#4fa5d8" d="M2234 2683C2248 2661 2297 2675 2330 2675C2364 2674 2406 2674 2435 2679C2464 2684 2494 2686 2506 2704C2518 2722 2518 2766 2506 2788C2494 2809 2464 2825 2435 2833C2406 2842 2362 2842 2330 2838C2299 2833 2263 2834 2247 2808C2231 2783 2220 2705 2234 2683Z"/>
<path fill="#4fa5d8" d="M1996 2658C2007 2646 2052 2646 2063 2658C2074 2671 2074 2721 2063 2733C2052 2746 2007 2746 1996 2733C1985 2721 1985 2671 1996 2658Z"/>
<path fill="#4fa5d8" d="M2071 2775C2081 2768 2120 2768 2130 2775C2140 2782 2140 2810 2130 2817C2120 2824 2081 2824 2071 2817C2062 2810 2062 2782 2071 2775Z"/>
<path fill="#4fa5d8" d="M2259 2485C2259 2489 2259 2494 2257 2498C2256 2501 2253 2505 2251 2508C2248 2511 2245 2514 2241 2516C2238 2517 2234 2518 2230 2518C2226 2518 2222 2517 2219 2516C2215 2514 2212 2511 2209 2508C2207 2505 2205 2501 2203 2498C2202 2494 2201 2489 2201 2485C2201 2481 2202 2476 2203 2472C2205 2468 2207 2464 2209 2461C2212 2458 2215 2456 2219 2454C2222 2452 2226 2451 2230 2451C2234 2451 2238 2452 2241 2454C2245 2456 2248 2458 2251 2461C2253 2464 2256 2468 2257 2472C2259 2476 2259 2481 2259 2485Z"/>
<path fill="#4fa5d8" d="M1879 2433C1884 2405 1899 2349 1904 2349C1910 2349 1914 2398 1913 2433C1911 2467 1902 2544 1896 2558C1890 2572 1882 2537 1879 2516C1877 2495 1875 2460 1879 2433Z"/>
<path fill="#4fa5d8" d="M2598 2516C2600 2495 2618 2467 2623 2474C2628 2481 2630 2537 2627 2558C2624 2579 2611 2607 2606 2600C2601 2593 2595 2537 2598 2516Z"/>
<path fill="#67bc6f" d="M1871 2316C1892 2258 1955 2298 1996 2295C2038 2292 2080 2297 2122 2299C2163 2301 2205 2305 2247 2307C2289 2310 2330 2311 2372 2316C2414 2320 2456 2327 2497 2332C2539 2338 2600 2298 2623 2349C2646 2401 2656 2589 2635 2641C2614 2694 2541 2659 2497 2662C2454 2666 2414 2664 2372 2662C2330 2661 2289 2652 2247 2654C2205 2656 2163 2673 2122 2675C2080 2676 2038 2668 1996 2662C1955 2657 1892 2699 1871 2641C1850 2584 1850 2373 1871 2316Z"/>
<path fill="#68c1b5" d="M2276 2485C2276 2492 2275 2499 2273 2506C2270 2512 2267 2518 2263 2523C2258 2528 2253 2532 2248 2535C2242 2538 2236 2539 2230 2539C2224 2539 2218 2538 2213 2535C2207 2532 2202 2528 2198 2523C2193 2518 2190 2512 2188 2506C2185 2499 2184 2492 2184 2485C2184 2478 2185 2470 2188 2464C2190 2458 2193 2451 2198 2446C2202 2441 2207 2437 2213 2435C2218 2432 2224 2430 2230 2430C2236 2430 2242 2432 2248 2435C2253 2437 2258 2441 2263 2446C2267 2451 2270 2458 2273 2464C2275 2470 2276 2478 2276 2485Z"/>
<path fill="#4fa5d8" d="M2255 2485C2255 2488 2254 2493 2253 2496C2252 2499 2250 2503 2248 2505C2246 2508 2243 2510 2240 2512C2237 2513 2233 2514 2230 2514C2227 2514 2223 2513 2221 2512C2218 2510 2215 2508 2212 2505C2210 2503 2208 2499 2207 2496C2206 2493 2205 2488 2205 2485C2205 2481 2206 2477 2207 2474C2208 2470 2210 2467 2212 2464C2215 2461 2218 2459 2221 2458C2223 2456 2227 2456 2230 2456C2233 2456 2237 2456 2240 2458C2243 2459 2246 2461 2248 2464C2250 2467 2252 2470 2253 2474C2254 2477 2255 2481 2255 2485Z"/>
<path fill="#5db43f" d="M1955 2349C1967 2338 1993 2330 2017 2324C2042 2318 2073 2314 2101 2316C2129 2318 2165 2324 2184 2337C2204 2349 2212 2368 2218 2391C2223 2414 2221 2446 2218 2474C2214 2502 2213 2538 2197 2558C2181 2577 2148 2587 2122 2591C2095 2595 2064 2590 2038 2583C2012 2576 1980 2568 1963 2549C1946 2531 1941 2501 1938 2474C1934 2448 1939 2412 1942 2391C1945 2370 1942 2360 1955 2349Z"/>
<path fill="#5db43f" d="M2289 2357C2305 2345 2341 2338 2372 2337C2403 2335 2445 2341 2476 2349C2508 2357 2544 2362 2560 2382C2576 2403 2573 2445 2573 2474C2572 2504 2568 2533 2556 2558C2543 2582 2521 2607 2497 2620C2474 2634 2442 2639 2414 2641C2386 2643 2353 2643 2330 2633C2308 2623 2291 2602 2280 2579C2270 2556 2268 2523 2268 2495C2267 2467 2273 2435 2276 2412C2280 2389 2273 2370 2289 2357Z"/>
<path fill="#93c63d" d="M2447 2408C2453 2398 2479 2399 2489 2403C2499 2408 2509 2424 2510 2433C2511 2442 2506 2453 2497 2458C2488 2462 2464 2466 2456 2458C2447 2449 2442 2417 2447 2408Z"/>
<path fill="#93c63d" d="M2443 2520C2449 2510 2472 2510 2481 2516C2490 2522 2498 2545 2497 2558C2497 2570 2486 2588 2476 2591C2467 2595 2449 2591 2443 2579C2438 2567 2437 2531 2443 2520Z"/>
<path fill="#3a58a9" d="M2264 2717C2270 2712 2291 2703 2309 2700C2328 2696 2351 2695 2372 2696C2393 2696 2425 2701 2435 2704C2444 2707 2437 2713 2431 2717C2424 2720 2402 2719 2397 2725C2392 2730 2406 2744 2401 2750C2397 2756 2383 2761 2372 2762C2362 2764 2348 2764 2339 2758C2329 2753 2325 2735 2314 2729C2302 2723 2276 2727 2268 2725C2259 2723 2257 2721 2264 2717Z"/>
<path fill="#3a58a9" d="M2534 2275C2534 2276 2533 2277 2532 2278C2531 2279 2529 2279 2527 2279C2526 2279 2524 2279 2522 2279C2520 2279 2517 2278 2515 2278C2513 2277 2511 2276 2510 2275C2508 2274 2506 2272 2505 2271C2504 2270 2503 2269 2503 2267C2502 2266 2502 2265 2503 2264C2503 2263 2504 2262 2505 2261C2506 2261 2508 2260 2509 2260C2511 2260 2513 2260 2515 2260C2517 2261 2519 2261 2521 2262C2523 2263 2525 2264 2527 2265C2529 2266 2530 2267 2531 2268C2533 2269 2533 2271 2534 2272C2534 2273 2534 2274 2534 2275Z"/>
<path fill="#111111" d="M2094 2441C2094 2441 2094 2442 2094 2442C2094 2443 2093 2443 2093 2444C2093 2444 2092 2444 2092 2444C2091 2445 2091 2445 2090 2445C2090 2445 2089 2445 2089 2444C2088 2444 2088 2444 2088 2444C2087 2443 2087 2443 2087 2442C2087 2442 2086 2441 2086 2441C2086 2440 2087 2440 2087 2439C2087 2439 2087 2439 2088 2438C2088 2438 2088 2438 2089 2437C2089 2437 2090 2437 2090 2437C2091 2437 2091 2437 2092 2437C2092 2438 2093 2438 2093 2438C2093 2439 2094 2439 2094 2439C2094 2440 2094 2440 2094 2441Z"/>
<path fill="#111111" d="M2409 2493C2409 2494 2409 2494 2409 2495C2409 2495 2409 2495 2408 2496C2408 2496 2407 2496 2407 2497C2407 2497 2406 2497 2406 2497C2405 2497 2405 2497 2404 2497C2404 2496 2403 2496 2403 2496C2403 2495 2402 2495 2402 2495C2402 2494 2402 2494 2402 2493C2402 2493 2402 2492 2402 2492C2402 2491 2403 2491 2403 2490C2403 2490 2404 2490 2404 2490C2405 2489 2405 2489 2406 2489C2406 2489 2407 2489 2407 2490C2407 2490 2408 2490 2408 2490C2409 2491 2409 2491 2409 2492C2409 2492 2409 2493 2409 2493Z"/>
<path fill="none" stroke="#111" stroke-width="1.4" stroke-linejoin="round" d="M2093 2441L2118 2442L2138 2442L2159 2440L2174 2437L2187 2433L2199 2426L2208 2419L2217 2408L2226 2390L2235 2364L2263 2249L2279 2194L2296 2147L2316 2104M2093 2442L2157 2464L2174 2471L2187 2480L2197 2489L2204 2501L2207 2514L2207 2530L2206 2544L2203 2562L2194 2600L2181 2641L2164 2683L2146 2720L2126 2756L2104 2788L2079 2818M2093 2443L2115 2457L2133 2471L2146 2484L2155 2497L2162 2512L2166 2530L2167 2548L2165 2568L2159 2595L2148 2625L2135 2656L2118 2687L2100 2715L2080 2743L2058 2769L2036 2792M2092 2443L2107 2460L2119 2476L2127 2493L2132 2508L2135 2523L2136 2542L2133 2560L2128 2580L2120 2603L2108 2628L2095 2652L2078 2676L2060 2700L2040 2722L2019 2742L1996 2761M2092 2444L2100 2459L2107 2476L2111 2494L2112 2510L2112 2526L2109 2544L2104 2561L2096 2580L2086 2600L2073 2620L2059 2640L2042 2659L2025 2677L2005 2696L1983 2712L1963 2727M2091 2444L2095 2461L2097 2477L2097 2493L2095 2509L2091 2524L2085 2541L2077 2558L2067 2573L2056 2590L2043 2606L2027 2623L2010 2638L1993 2652L1974 2666L1955 2678L1933 2690M2090 2444L2090 2459L2088 2475L2085 2488L2080 2504L2073 2518L2065 2532L2056 2545L2045 2559L2032 2573L2017 2587L2002 2600L1985 2612L1968 2623L1950 2633L1931 2642L1911 2651M2090 2444L2086 2457L2082 2469L2076 2482L2068 2496L2050 2519L2039 2531L2026 2543L1996 2565L1965 2583L1930 2599L1893 2611M2089 2444L2077 2465L2059 2486L2037 2506L2011 2524L1981 2541L1950 2554L1917 2564L1881 2571M2088 2443L2071 2461L2050 2478L2025 2493L1998 2506L1968 2516L1937 2524L1905 2530L1873 2532M2088 2443L2067 2456L2045 2467L2019 2477L1991 2485L1962 2491L1932 2494L1900 2495L1871 2494M2087 2442L2064 2451L2040 2457L2013 2462L1984 2465L1956 2465L1927 2464L1897 2461L1870 2456M2087 2441L2063 2444L2036 2446L2008 2446L1981 2444L1954 2440L1927 2435L1901 2428L1875 2419M2087 2441L2061 2438L2034 2434L2007 2429L1980 2422L1954 2414L1930 2406L1905 2395L1883 2384M2087 2440L2028 2419L1977 2398L1933 2374L1893 2349M2088 2439L2018 2397L1978 2371L1939 2343L1907 2314M2088 2439L2067 2419L2009 2367L1981 2341L1950 2310L1925 2281M2089 2438L2078 2422L2063 2401L2007 2332L1985 2304L1965 2276L1947 2249M2089 2438L2081 2415L2069 2390L2004 2278L1987 2246L1973 2217M2090 2438L2086 2409L2076 2374L2064 2342L2025 2250L2014 2217L2005 2189M2091 2438L2093 2423L2093 2404L2092 2384L2089 2364L2080 2326L2052 2220L2039 2162M2092 2438L2098 2420L2103 2399L2105 2379L2105 2354L2101 2311L2084 2198L2079 2139M2092 2439L2104 2420L2114 2399L2120 2378L2124 2351L2126 2328L2126 2303L2120 2180L2121 2150L2122 2120M2093 2439L2103 2431L2112 2421L2121 2410L2127 2401L2138 2378L2146 2352L2150 2330L2153 2302L2158 2207L2160 2168L2164 2136L2168 2107M2093 2440L2107 2433L2120 2425L2131 2416L2141 2407L2150 2396L2157 2385L2164 2373L2169 2360L2175 2338L2181 2309L2195 2207L2202 2165L2209 2131L2217 2098M2093 2440L2110 2437L2128 2432L2143 2425L2155 2419L2166 2411L2176 2401L2184 2391L2192 2377L2201 2356L2209 2328L2232 2218L2243 2171L2254 2134L2267 2098M2409 2493L2438 2495L2467 2498L2496 2502L2523 2508L2550 2515L2576 2523L2601 2533L2626 2544M2408 2494L2471 2512L2525 2531L2550 2542L2573 2553L2596 2567L2618 2580M2408 2494L2477 2529L2524 2557L2568 2586L2607 2617M2408 2495L2488 2558L2524 2587L2559 2619L2590 2652M2407 2496L2432 2525L2491 2588L2519 2621L2546 2655L2570 2688M2407 2496L2418 2518L2432 2541L2487 2622L2509 2657L2527 2688L2544 2721M2406 2496L2413 2522L2424 2550L2437 2579L2486 2681L2502 2719L2514 2754M2405 2496L2406 2512L2407 2527L2415 2563L2425 2598L2461 2711L2471 2748L2479 2784M2405 2496L2401 2513L2400 2532L2400 2552L2401 2575L2407 2615L2431 2736L2436 2775L2439 2809M2404 2496L2396 2516L2390 2536L2386 2558L2385 2584L2386 2629L2393 2718L2395 2756L2396 2795L2395 2832M2404 2495L2389 2515L2379 2536L2371 2559L2365 2586L2362 2609L2360 2634L2358 2732L2355 2773L2352 2811L2346 2847M2403 2495L2383 2513L2374 2523L2366 2534L2353 2558L2343 2584L2337 2608L2332 2635L2320 2737L2313 2780L2305 2820L2295 2857M2403 2494L2389 2501L2375 2510L2363 2519L2352 2528L2343 2538L2334 2551L2327 2563L2320 2577L2311 2601L2304 2627L2282 2732L2270 2778L2257 2822L2242 2860M2403 2494L2383 2498L2366 2504L2351 2510L2337 2518L2324 2528L2314 2537L2305 2547L2297 2561L2286 2581L2276 2609L2244 2720L2228 2770L2210 2815L2189 2855M2402 2493L2378 2493L2355 2495L2335 2498L2319 2501L2304 2507L2293 2514L2282 2522L2273 2532L2262 2550L2251 2575L2214 2687L2203 2717L2192 2745L2179 2772L2167 2796L2153 2819L2138 2842M2403 2492L2319 2472L2299 2466L2286 2462L2277 2456L2268 2448L2264 2440L2262 2429L2261 2418L2262 2402L2268 2359L2278 2307L2291 2259L2304 2218L2319 2179L2336 2144L2355 2111M2403 2492L2375 2477L2354 2464L2338 2451L2326 2440L2317 2427L2311 2412L2307 2395L2306 2376L2308 2349L2314 2318L2323 2285L2335 2250L2349 2217L2365 2186L2382 2157L2402 2129M2403 2491L2385 2475L2371 2460L2360 2445L2351 2430L2345 2415L2341 2397L2340 2379L2342 2358L2346 2334L2354 2307L2364 2280L2377 2253L2391 2227L2408 2200L2427 2174L2446 2152M2404 2491L2391 2472L2382 2457L2375 2440L2371 2424L2369 2409L2368 2390L2370 2372L2374 2352L2381 2330L2391 2307L2402 2285L2416 2261L2432 2239L2449 2218L2468 2197L2487 2179M2404 2490L2398 2474L2393 2456L2390 2438L2389 2423L2390 2407L2393 2389L2398 2371L2404 2354L2413 2335L2424 2316L2437 2297L2452 2277L2467 2260L2485 2242L2502 2227L2521 2211M2405 2490L2402 2473L2402 2457L2402 2441L2405 2425L2409 2410L2414 2395L2422 2378L2430 2362L2440 2347L2453 2330L2466 2315L2482 2298L2497 2284L2515 2270L2533 2257L2552 2245M2406 2490L2407 2475L2409 2459L2413 2446L2418 2431L2425 2416L2433 2402L2442 2389L2453 2375L2465 2361L2479 2346L2509 2322L2541 2300L2577 2281M2406 2490L2415 2465L2421 2453L2429 2439L2438 2426L2448 2413L2471 2391L2497 2369L2528 2349L2560 2333L2596 2319M2407 2490L2421 2468L2439 2447L2460 2427L2486 2408L2516 2390L2547 2376L2579 2365L2612 2356M2407 2491L2426 2472L2448 2455L2473 2439L2499 2426L2529 2414L2559 2405L2591 2398L2622 2394M2408 2491L2428 2478L2453 2465L2480 2454L2508 2445L2537 2439L2569 2434L2601 2432L2630 2432M2408 2492L2433 2482L2460 2475L2486 2469L2516 2465L2545 2463L2575 2464L2604 2466L2632 2470M2408 2493L2435 2488L2462 2486L2489 2485L2519 2486L2549 2489L2576 2493L2605 2499L2631 2507"/>
<path fill="none" stroke="#111" stroke-width="1.3" d="M2174 2433L2182 2434L2177 2440M2249 2294L2254 2288L2255 2296M2299 2132L2306 2127L2306 2135M2173 2467L2177 2473L2169 2472M2191 2623L2185 2629L2184 2621M2116 2776L2109 2780L2110 2772M2158 2495L2158 2503L2152 2498M2136 2660L2130 2665L2130 2657M2137 2513L2135 2521L2130 2514M2085 2673L2078 2677L2079 2669M2116 2523L2111 2530L2109 2522M2035 2672L2028 2674L2030 2667M2094 2527L2088 2532L2087 2524M1989 2660L1981 2661L1985 2654M2073 2525L2067 2529L2067 2521M1947 2638L1939 2638L1944 2632M2055 2519L2047 2522L2050 2514M2038 2510L2030 2511L2034 2504M2025 2497L2017 2497L2022 2491M2015 2482L2007 2481L2013 2475M2008 2466L2000 2463L2007 2459M2004 2449L1997 2445L2005 2442M2005 2432L1998 2427L2006 2425M2008 2415L2003 2409L2011 2408M2015 2400L2011 2393L2019 2394M2024 2386L2021 2378L2029 2380M2036 2374L2035 2366L2042 2370M2050 2365L2050 2357L2056 2362M2067 2359L2067 2351L2073 2357M2084 2357L2085 2349L2091 2355M2042 2192L2044 2184L2049 2190M2102 2358L2105 2350L2109 2357M2080 2189L2083 2182L2087 2188M2119 2362L2124 2356L2126 2363M2118 2193L2121 2186L2125 2193M2136 2372L2142 2366L2143 2374M2154 2204L2158 2197L2161 2204M2153 2386L2159 2381L2159 2389M2189 2222L2194 2216L2196 2223M2166 2406L2174 2403L2171 2411M2221 2250L2226 2244L2228 2252M2492 2498L2498 2503L2490 2505M2489 2514L2494 2520L2486 2521M2484 2529L2488 2536L2480 2535M2475 2543L2479 2550L2471 2549M2465 2555L2467 2563L2460 2560M2452 2565L2453 2573L2447 2569M2438 2572L2438 2580L2431 2575M2508 2727L2507 2735L2502 2729M2422 2577L2421 2584L2415 2579M2473 2739L2471 2747L2466 2741M2405 2578L2403 2585L2398 2579M2436 2745L2433 2753L2429 2746M2389 2576L2385 2583L2382 2576M2398 2745L2395 2753L2391 2746M2372 2570L2367 2577L2365 2569M2361 2739L2357 2746L2354 2739M2356 2561L2350 2566L2349 2558M2325 2726L2320 2733L2318 2725M2341 2547L2334 2551L2336 2543M2291 2706L2286 2713L2284 2705M2329 2528L2321 2530L2324 2523M2260 2678L2254 2684L2253 2676M2322 2504L2314 2504L2319 2498M2234 2637L2228 2642L2227 2635M2171 2795L2164 2800L2165 2792M2321 2477L2315 2471L2323 2470M2268 2340L2273 2333L2275 2341M2317 2176L2323 2171L2323 2179M2331 2450L2328 2442L2336 2445M2319 2285L2324 2280L2325 2288M2347 2430L2348 2422L2354 2427M2368 2263L2374 2258L2374 2266M2366 2417L2369 2409L2373 2416M2416 2255L2423 2251L2422 2259M2386 2409L2391 2403L2393 2410M2463 2258L2471 2256L2468 2263M2406 2407L2412 2402L2413 2409M2507 2271L2515 2270L2512 2277M2425 2409L2431 2405L2431 2413M2548 2292L2556 2292L2551 2299M2442 2415L2450 2412L2447 2420M2457 2424L2465 2423L2462 2430M2470 2436L2478 2436L2473 2442M2480 2450L2488 2451L2482 2457M2487 2465L2495 2468L2488 2472M2491 2482L2498 2485L2491 2489"/>
<path fill="none" stroke="#111" stroke-width="2" stroke-linecap="round" d="M2105 2119C2113 2121 2142 2119 2155 2128C2168 2136 2175 2153 2184 2169C2193 2186 2202 2210 2209 2228C2217 2246 2226 2258 2230 2278C2235 2298 2236 2323 2236 2349C2237 2375 2235 2412 2234 2433C2233 2453 2231 2467 2230 2474"/>
<path fill="none" stroke="#111" stroke-width="1.6" stroke-linecap="round" d="M2122 2115C2129 2117 2151 2114 2163 2124C2175 2133 2183 2156 2193 2174C2202 2192 2210 2214 2218 2232C2225 2250 2234 2263 2238 2282C2243 2302 2242 2324 2243 2349C2243 2374 2241 2419 2241 2433"/>
<path fill="none" stroke="#111" stroke-width="1.6" stroke-linecap="round" d="M2138 2111C2144 2112 2161 2110 2172 2119C2182 2129 2192 2151 2201 2169C2210 2188 2219 2210 2226 2228C2233 2246 2241 2258 2245 2278C2249 2298 2249 2326 2249 2349C2249 2372 2247 2405 2247 2416"/>
<path fill="none" stroke="#111" stroke-width="1.6" stroke-linecap="round" d="M2088 2128C2097 2129 2128 2128 2142 2136C2157 2144 2166 2158 2176 2174C2186 2190 2193 2213 2201 2232C2209 2251 2217 2266 2222 2286C2226 2307 2227 2346 2228 2357"/>
<path fill="none" stroke="#111" stroke-width="2" stroke-linecap="round" d="M2230 2516C2228 2530 2222 2573 2218 2600C2213 2626 2205 2654 2201 2675C2197 2696 2193 2707 2193 2725C2193 2743 2195 2765 2201 2783C2206 2802 2220 2825 2226 2838C2232 2850 2236 2855 2238 2858"/>
<path fill="none" stroke="#111" stroke-width="1.6" stroke-linecap="round" d="M2238 2537C2236 2549 2231 2588 2226 2612C2221 2636 2213 2663 2209 2683C2205 2703 2203 2716 2203 2733C2203 2751 2206 2769 2211 2788C2217 2806 2230 2833 2234 2842"/>
<path fill="none" stroke="#111" stroke-width="1.6" stroke-linecap="round" d="M2222 2558C2220 2569 2214 2602 2209 2625C2205 2647 2198 2672 2195 2691C2191 2711 2187 2724 2186 2742C2186 2759 2188 2778 2193 2796C2197 2814 2210 2841 2213 2850"/>
<path fill="none" stroke="#111" stroke-width="1.6" stroke-linecap="round" d="M2247 2558C2245 2570 2239 2607 2234 2629C2229 2651 2221 2673 2218 2691C2214 2710 2213 2725 2213 2742C2214 2758 2216 2774 2222 2792C2227 2809 2243 2837 2247 2846"/>
</g>
<circle cx="2251" cy="2478.5" r="379.5" fill="none" stroke="#1a1a1a" stroke-width="1.7"/>
<text x="881" y="1019.3" font-size="56" text-anchor="middle" font-family="Liberation Serif, Noto Serif CJK SC, serif" fill="#231f20">1/3<tspan font-style="italic">H</tspan></text>
<text x="1522" y="1019.3" font-size="56" text-anchor="middle" font-family="Liberation Serif, Noto Serif CJK SC, serif" fill="#231f20">2/3<tspan font-style="italic">H</tspan></text>
<text x="2249" y="1019.3" font-size="56" text-anchor="middle" font-family="Liberation Serif, Noto Serif CJK SC, serif" fill="#231f20">液面</text>
<text x="1520" y="1084.7" font-size="56" text-anchor="middle" font-family="Liberation Serif, Noto Serif CJK SC, serif" fill="#231f20">(a) 4-3</text>
<text x="881" y="1971" font-size="56" text-anchor="middle" font-family="Liberation Serif, Noto Serif CJK SC, serif" fill="#231f20">1/3<tspan font-style="italic">H</tspan></text>
<text x="1522" y="1971" font-size="56" text-anchor="middle" font-family="Liberation Serif, Noto Serif CJK SC, serif" fill="#231f20">2/3<tspan font-style="italic">H</tspan></text>
<text x="2249" y="1971" font-size="56" text-anchor="middle" font-family="Liberation Serif, Noto Serif CJK SC, serif" fill="#231f20">液面</text>
<text x="1520" y="2036.4" font-size="56" text-anchor="middle" font-family="Liberation Serif, Noto Serif CJK SC, serif" fill="#231f20">(b) 6-6</text>
<text x="881" y="2924.8" font-size="56" text-anchor="middle" font-family="Liberation Serif, Noto Serif CJK SC, serif" fill="#231f20">1/3<tspan font-style="italic">H</tspan></text>
<text x="1522" y="2924.8" font-size="56" text-anchor="middle" font-family="Liberation Serif, Noto Serif CJK SC, serif" fill="#231f20">2/3<tspan font-style="italic">H</tspan></text>
<text x="2249" y="2924.8" font-size="56" text-anchor="middle" font-family="Liberation Serif, Noto Serif CJK SC, serif" fill="#231f20">液面</text>
<text x="1520" y="2995" font-size="56" text-anchor="middle" font-family="Liberation Serif, Noto Serif CJK SC, serif" fill="#231f20">(c) 8-18</text>
</svg></body></html>
